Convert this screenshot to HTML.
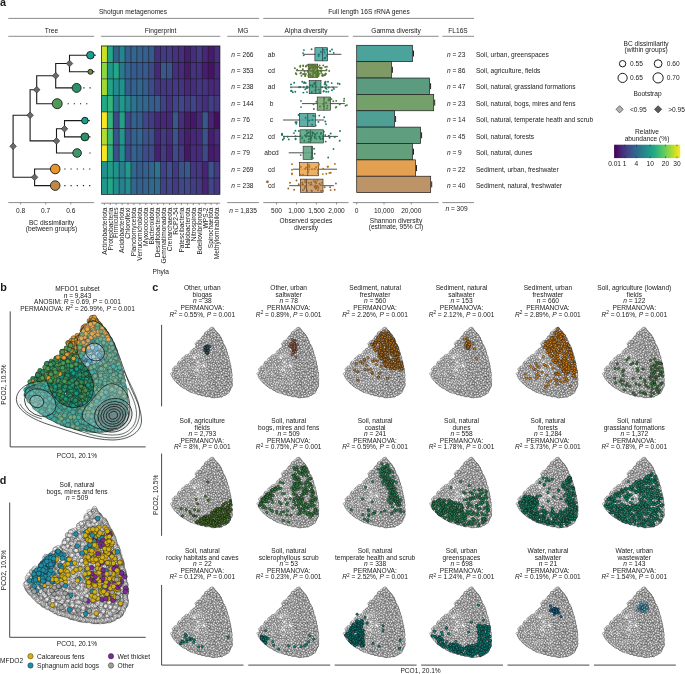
<!DOCTYPE html>
<html><head><meta charset="utf-8"><title>Figure</title>
<style>
html,body{margin:0;padding:0;background:#fff}
svg{display:block;will-change:transform;font-family:"Liberation Sans",sans-serif;font-size:6.6px;fill:#1a1a1a}
.ax{stroke:#6e6e6e;stroke-width:.8;fill:none}
.ax2{stroke:#333;stroke-width:.9;fill:none}
.tr{stroke:#1a1a1a;stroke-width:1.1;fill:none}
.gl{stroke:#1c1c28;stroke-width:.6;fill:none}
.bx{stroke:#222;stroke-width:.6}
.wh{stroke:#222;stroke-width:.8}
.ct{stroke:#111;stroke-width:.7;fill:#dfe9ea;fill-opacity:.2}
.cl{stroke:#111;stroke-width:.6;fill:none}
.gc circle{r:1.2px;fill:#f0f0f0;fill-opacity:.85;stroke:#262626;stroke-width:.33}
.gd circle{r:2.3px;fill:#fafafa;fill-opacity:.8;stroke:#4a4a4a;stroke-width:.32}
.pb circle{r:2.3px;stroke:#102a25;stroke-width:.4}
.pc circle{r:1.25px;stroke:#111;stroke-width:.3}
.mk{fill:none;stroke:none}
.pd{r:2.4px;stroke:#111;stroke-width:.4}
</style></head><body>
<svg width="685" height="674" viewBox="0 0 685 674">
<g id="panel-a">
<text x="0" y="5.6" font-size="10.8" font-weight="bold">a</text>
<text x="133" y="14.2" text-anchor="middle">Shotgun metagenomes</text>
<path class="ax" d="M8.3 18.4H259"/>
<text x="369" y="14.2" text-anchor="middle">Full length 16S rRNA genes</text>
<path class="ax" d="M263.3 18.4H474"/>
<text x="51.5" y="32.5" text-anchor="middle">Tree</text>
<path class="ax" d="M8.3 36.3H94.1"/>
<text x="160.6" y="32.5" text-anchor="middle">Fingerprint</text>
<path class="ax" d="M100.9 36.3H220.3"/>
<text x="243" y="32.5" text-anchor="middle">MG</text>
<path class="ax" d="M227.2 36.3H258.9"/>
<text x="306" y="32.5" text-anchor="middle">Alpha diversity</text>
<path class="ax" d="M263.3 36.3H348.5"/>
<text x="396" y="32.5" text-anchor="middle">Gamma diversity</text>
<path class="ax" d="M352.9 36.3H438.7"/>
<text x="458" y="32.5" text-anchor="middle">FL16S</text>
<path class="ax" d="M442.4 36.3H474"/>
<path class="tr" d="M90.4 55.2H69.5V71.8H90.4"/>
<path class="tr" d="M69.5 63.5H55.7V87.9H76.6"/>
<path class="tr" d="M55.7 75.7H36.7V103.7H57.2"/>
<path class="tr" d="M84.9 120.6H64.5V136.9H84.9"/>
<path class="tr" d="M64.5 128.8H56.5V153H77.1"/>
<path class="tr" d="M36.7 89.7H30.1V140.9H56.5"/>
<path class="tr" d="M55.2 169H34.6V185.6H55.2"/>
<path class="tr" d="M30.1 115.3H13.1V177.3H34.6"/>
<path d="M83.3 87.9H91" stroke="#222" stroke-width="1.1" stroke-dasharray="1.2 5" fill="none"/>
<path d="M67.6 103.7H91" stroke="#222" stroke-width="1.1" stroke-dasharray="1.2 5" fill="none"/>
<path d="M89.4 153H91" stroke="#222" stroke-width="1.1" stroke-dasharray="1.2 5" fill="none"/>
<path d="M64.3 169H91" stroke="#222" stroke-width="1.1" stroke-dasharray="1.2 5" fill="none"/>
<path d="M64.3 185.6H91" stroke="#222" stroke-width="1.1" stroke-dasharray="1.2 5" fill="none"/>
<path class="tr" d="M90.4 55.2H95.8"/>
<circle cx="90.4" cy="55.2" r="3.8" fill="#1a9e96" stroke="#111" stroke-width=".85"/>
<path class="tr" d="M90.4 71.8H94.5"/>
<circle cx="90.4" cy="71.8" r="2.5" fill="#6a8f3c" stroke="#111" stroke-width=".85"/>
<circle cx="76.6" cy="87.9" r="4.5" fill="#2e9068" stroke="#111" stroke-width=".85"/>
<circle cx="57.2" cy="103.7" r="5" fill="#4f9a54" stroke="#111" stroke-width=".85"/>
<path class="tr" d="M84.9 120.6H89.8"/>
<circle cx="84.9" cy="120.6" r="3.3" fill="#1a9e8a" stroke="#111" stroke-width=".85"/>
<path class="tr" d="M84.9 136.9H90.5"/>
<circle cx="84.9" cy="136.9" r="4" fill="#2e9068" stroke="#111" stroke-width=".85"/>
<circle cx="77.1" cy="153" r="4.3" fill="#3a9a6a" stroke="#111" stroke-width=".85"/>
<circle cx="55.2" cy="169" r="4.8" fill="#e8962a" stroke="#111" stroke-width=".85"/>
<circle cx="55.2" cy="185.6" r="4.8" fill="#c08848" stroke="#111" stroke-width=".85"/>
<path d="M66.2 63.5L69.5 60.2L72.8 63.5L69.5 66.8Z" fill="#6a6a6a" stroke="#222" stroke-width=".6"/>
<path d="M52.4 75.7L55.7 72.4L59 75.7L55.7 79Z" fill="#6a6a6a" stroke="#222" stroke-width=".6"/>
<path d="M33.4 89.7L36.7 86.4L40 89.7L36.7 93Z" fill="#6a6a6a" stroke="#222" stroke-width=".6"/>
<path d="M26.8 115.3L30.1 112L33.4 115.3L30.1 118.6Z" fill="#6a6a6a" stroke="#222" stroke-width=".6"/>
<path d="M61.2 128.8L64.5 125.5L67.8 128.8L64.5 132.1Z" fill="#6a6a6a" stroke="#222" stroke-width=".6"/>
<path d="M53.2 140.9L56.5 137.6L59.8 140.9L56.5 144.2Z" fill="#6a6a6a" stroke="#222" stroke-width=".6"/>
<path d="M9.8 146.3L13.1 143L16.4 146.3L13.1 149.6Z" fill="#6a6a6a" stroke="#222" stroke-width=".6"/>
<path d="M31.3 177.3L34.6 174L37.9 177.3L34.6 180.6Z" fill="#6a6a6a" stroke="#222" stroke-width=".6"/>
<path class="ax" d="M8.3 202.6H94.1"/>
<path class="ax" d="M20.6 202.6V204.4"/>
<text x="20.6" y="212.7" text-anchor="middle">0.8</text>
<path class="ax" d="M45.7 202.6V204.4"/>
<text x="45.7" y="212.7" text-anchor="middle">0.7</text>
<path class="ax" d="M70.8 202.6V204.4"/>
<text x="70.8" y="212.7" text-anchor="middle">0.6</text>
<text x="51.5" y="224.5" text-anchor="middle">BC dissimilarity</text>
<text x="51.5" y="231" text-anchor="middle">(between groups)</text>
<rect x="101.3" y="45.9" width="118.7" height="148.6" fill="#1c1c28"/>
<rect x="101.60" y="46.20" width="5.34" height="15.91" fill="#cae126"/>
<rect x="107.53" y="46.20" width="5.34" height="15.91" fill="#22a884"/>
<rect x="113.47" y="46.20" width="5.34" height="15.91" fill="#355f8d"/>
<rect x="119.40" y="46.20" width="5.34" height="15.91" fill="#26848d"/>
<rect x="125.34" y="46.20" width="5.34" height="15.91" fill="#355f8d"/>
<rect x="131.28" y="46.20" width="5.34" height="15.91" fill="#32668d"/>
<rect x="137.21" y="46.20" width="5.34" height="15.91" fill="#34628d"/>
<rect x="143.15" y="46.20" width="5.34" height="15.91" fill="#355f8d"/>
<rect x="149.08" y="46.20" width="5.34" height="15.91" fill="#375a8c"/>
<rect x="155.02" y="46.20" width="5.34" height="15.91" fill="#462e7a"/>
<rect x="160.95" y="46.20" width="5.34" height="15.91" fill="#433a82"/>
<rect x="166.89" y="46.20" width="5.34" height="15.91" fill="#433a82"/>
<rect x="172.82" y="46.20" width="5.34" height="15.91" fill="#45317c"/>
<rect x="178.75" y="46.20" width="5.34" height="15.91" fill="#462e7a"/>
<rect x="184.69" y="46.20" width="5.34" height="15.91" fill="#471d6e"/>
<rect x="190.62" y="46.20" width="5.34" height="15.91" fill="#462e7a"/>
<rect x="196.56" y="46.20" width="5.34" height="15.91" fill="#433a82"/>
<rect x="202.50" y="46.20" width="5.34" height="15.91" fill="#472777"/>
<rect x="208.43" y="46.20" width="5.34" height="15.91" fill="#471a6b"/>
<rect x="214.37" y="46.20" width="5.34" height="15.91" fill="#462e7a"/>
<rect x="101.60" y="62.71" width="5.34" height="15.91" fill="#8ed544"/>
<rect x="107.53" y="62.71" width="5.34" height="15.91" fill="#21968a"/>
<rect x="113.47" y="62.71" width="5.34" height="15.91" fill="#22a884"/>
<rect x="119.40" y="62.71" width="5.34" height="15.91" fill="#2a788e"/>
<rect x="125.34" y="62.71" width="5.34" height="15.91" fill="#33648d"/>
<rect x="131.28" y="62.71" width="5.34" height="15.91" fill="#375a8c"/>
<rect x="137.21" y="62.71" width="5.34" height="15.91" fill="#375a8c"/>
<rect x="143.15" y="62.71" width="5.34" height="15.91" fill="#375a8c"/>
<rect x="149.08" y="62.71" width="5.34" height="15.91" fill="#3f4988"/>
<rect x="155.02" y="62.71" width="5.34" height="15.91" fill="#472777"/>
<rect x="160.95" y="62.71" width="5.34" height="15.91" fill="#39578b"/>
<rect x="166.89" y="62.71" width="5.34" height="15.91" fill="#3a548b"/>
<rect x="172.82" y="62.71" width="5.34" height="15.91" fill="#462e7a"/>
<rect x="178.75" y="62.71" width="5.34" height="15.91" fill="#472a79"/>
<rect x="184.69" y="62.71" width="5.34" height="15.91" fill="#471a6b"/>
<rect x="190.62" y="62.71" width="5.34" height="15.91" fill="#45317c"/>
<rect x="196.56" y="62.71" width="5.34" height="15.91" fill="#45317c"/>
<rect x="202.50" y="62.71" width="5.34" height="15.91" fill="#471d6e"/>
<rect x="208.43" y="62.71" width="5.34" height="15.91" fill="#461264"/>
<rect x="214.37" y="62.71" width="5.34" height="15.91" fill="#472777"/>
<rect x="101.60" y="79.22" width="5.34" height="15.91" fill="#a2d937"/>
<rect x="107.53" y="79.22" width="5.34" height="15.91" fill="#22a386"/>
<rect x="113.47" y="79.22" width="5.34" height="15.91" fill="#248a8d"/>
<rect x="119.40" y="79.22" width="5.34" height="15.91" fill="#21918c"/>
<rect x="125.34" y="79.22" width="5.34" height="15.91" fill="#365c8c"/>
<rect x="131.28" y="79.22" width="5.34" height="15.91" fill="#34628d"/>
<rect x="137.21" y="79.22" width="5.34" height="15.91" fill="#32668d"/>
<rect x="143.15" y="79.22" width="5.34" height="15.91" fill="#365c8c"/>
<rect x="149.08" y="79.22" width="5.34" height="15.91" fill="#3d4c89"/>
<rect x="155.02" y="79.22" width="5.34" height="15.91" fill="#44347e"/>
<rect x="160.95" y="79.22" width="5.34" height="15.91" fill="#443780"/>
<rect x="166.89" y="79.22" width="5.34" height="15.91" fill="#443780"/>
<rect x="172.82" y="79.22" width="5.34" height="15.91" fill="#433a82"/>
<rect x="178.75" y="79.22" width="5.34" height="15.91" fill="#44347e"/>
<rect x="184.69" y="79.22" width="5.34" height="15.91" fill="#472777"/>
<rect x="190.62" y="79.22" width="5.34" height="15.91" fill="#462e7a"/>
<rect x="196.56" y="79.22" width="5.34" height="15.91" fill="#443780"/>
<rect x="202.50" y="79.22" width="5.34" height="15.91" fill="#44347e"/>
<rect x="208.43" y="79.22" width="5.34" height="15.91" fill="#472777"/>
<rect x="214.37" y="79.22" width="5.34" height="15.91" fill="#472a79"/>
<rect x="101.60" y="95.73" width="5.34" height="15.91" fill="#22a884"/>
<rect x="107.53" y="95.73" width="5.34" height="15.91" fill="#33b47a"/>
<rect x="113.47" y="95.73" width="5.34" height="15.91" fill="#2a788e"/>
<rect x="119.40" y="95.73" width="5.34" height="15.91" fill="#21988a"/>
<rect x="125.34" y="95.73" width="5.34" height="15.91" fill="#26828d"/>
<rect x="131.28" y="95.73" width="5.34" height="15.91" fill="#2c738e"/>
<rect x="137.21" y="95.73" width="5.34" height="15.91" fill="#31698d"/>
<rect x="143.15" y="95.73" width="5.34" height="15.91" fill="#32668d"/>
<rect x="149.08" y="95.73" width="5.34" height="15.91" fill="#365c8c"/>
<rect x="155.02" y="95.73" width="5.34" height="15.91" fill="#365c8c"/>
<rect x="160.95" y="95.73" width="5.34" height="15.91" fill="#424185"/>
<rect x="166.89" y="95.73" width="5.34" height="15.91" fill="#44347e"/>
<rect x="172.82" y="95.73" width="5.34" height="15.91" fill="#414487"/>
<rect x="178.75" y="95.73" width="5.34" height="15.91" fill="#404788"/>
<rect x="184.69" y="95.73" width="5.34" height="15.91" fill="#433a82"/>
<rect x="190.62" y="95.73" width="5.34" height="15.91" fill="#414487"/>
<rect x="196.56" y="95.73" width="5.34" height="15.91" fill="#443780"/>
<rect x="202.50" y="95.73" width="5.34" height="15.91" fill="#462e7a"/>
<rect x="208.43" y="95.73" width="5.34" height="15.91" fill="#423e83"/>
<rect x="214.37" y="95.73" width="5.34" height="15.91" fill="#443780"/>
<rect x="101.60" y="112.24" width="5.34" height="15.91" fill="#f7e625"/>
<rect x="107.53" y="112.24" width="5.34" height="15.91" fill="#33b47a"/>
<rect x="113.47" y="112.24" width="5.34" height="15.91" fill="#3f4988"/>
<rect x="119.40" y="112.24" width="5.34" height="15.91" fill="#22a186"/>
<rect x="125.34" y="112.24" width="5.34" height="15.91" fill="#3f4988"/>
<rect x="131.28" y="112.24" width="5.34" height="15.91" fill="#34628d"/>
<rect x="137.21" y="112.24" width="5.34" height="15.91" fill="#365c8c"/>
<rect x="143.15" y="112.24" width="5.34" height="15.91" fill="#414487"/>
<rect x="149.08" y="112.24" width="5.34" height="15.91" fill="#433a82"/>
<rect x="155.02" y="112.24" width="5.34" height="15.91" fill="#472777"/>
<rect x="160.95" y="112.24" width="5.34" height="15.91" fill="#472777"/>
<rect x="166.89" y="112.24" width="5.34" height="15.91" fill="#472777"/>
<rect x="172.82" y="112.24" width="5.34" height="15.91" fill="#39578b"/>
<rect x="178.75" y="112.24" width="5.34" height="15.91" fill="#462e7a"/>
<rect x="184.69" y="112.24" width="5.34" height="15.91" fill="#471a6b"/>
<rect x="190.62" y="112.24" width="5.34" height="15.91" fill="#461668"/>
<rect x="196.56" y="112.24" width="5.34" height="15.91" fill="#472777"/>
<rect x="202.50" y="112.24" width="5.34" height="15.91" fill="#39578b"/>
<rect x="208.43" y="112.24" width="5.34" height="15.91" fill="#482475"/>
<rect x="214.37" y="112.24" width="5.34" height="15.91" fill="#460f61"/>
<rect x="101.60" y="128.76" width="5.34" height="15.91" fill="#b0dc2f"/>
<rect x="107.53" y="128.76" width="5.34" height="15.91" fill="#3ab876"/>
<rect x="113.47" y="128.76" width="5.34" height="15.91" fill="#3b528a"/>
<rect x="119.40" y="128.76" width="5.34" height="15.91" fill="#21968a"/>
<rect x="125.34" y="128.76" width="5.34" height="15.91" fill="#3c4f89"/>
<rect x="131.28" y="128.76" width="5.34" height="15.91" fill="#34628d"/>
<rect x="137.21" y="128.76" width="5.34" height="15.91" fill="#32668d"/>
<rect x="143.15" y="128.76" width="5.34" height="15.91" fill="#3b528a"/>
<rect x="149.08" y="128.76" width="5.34" height="15.91" fill="#3c4f89"/>
<rect x="155.02" y="128.76" width="5.34" height="15.91" fill="#472777"/>
<rect x="160.95" y="128.76" width="5.34" height="15.91" fill="#433a82"/>
<rect x="166.89" y="128.76" width="5.34" height="15.91" fill="#462e7a"/>
<rect x="172.82" y="128.76" width="5.34" height="15.91" fill="#3a548b"/>
<rect x="178.75" y="128.76" width="5.34" height="15.91" fill="#462e7a"/>
<rect x="184.69" y="128.76" width="5.34" height="15.91" fill="#471d6e"/>
<rect x="190.62" y="128.76" width="5.34" height="15.91" fill="#472777"/>
<rect x="196.56" y="128.76" width="5.34" height="15.91" fill="#472a79"/>
<rect x="202.50" y="128.76" width="5.34" height="15.91" fill="#3b528a"/>
<rect x="208.43" y="128.76" width="5.34" height="15.91" fill="#471d6e"/>
<rect x="214.37" y="128.76" width="5.34" height="15.91" fill="#472a79"/>
<rect x="101.60" y="145.27" width="5.34" height="15.91" fill="#f7e625"/>
<rect x="107.53" y="145.27" width="5.34" height="15.91" fill="#30b17c"/>
<rect x="113.47" y="145.27" width="5.34" height="15.91" fill="#3c4f89"/>
<rect x="119.40" y="145.27" width="5.34" height="15.91" fill="#228e8c"/>
<rect x="125.34" y="145.27" width="5.34" height="15.91" fill="#3d4c89"/>
<rect x="131.28" y="145.27" width="5.34" height="15.91" fill="#34628d"/>
<rect x="137.21" y="145.27" width="5.34" height="15.91" fill="#375a8c"/>
<rect x="143.15" y="145.27" width="5.34" height="15.91" fill="#3d4c89"/>
<rect x="149.08" y="145.27" width="5.34" height="15.91" fill="#3f4988"/>
<rect x="155.02" y="145.27" width="5.34" height="15.91" fill="#482072"/>
<rect x="160.95" y="145.27" width="5.34" height="15.91" fill="#433a82"/>
<rect x="166.89" y="145.27" width="5.34" height="15.91" fill="#482475"/>
<rect x="172.82" y="145.27" width="5.34" height="15.91" fill="#3d4c89"/>
<rect x="178.75" y="145.27" width="5.34" height="15.91" fill="#443780"/>
<rect x="184.69" y="145.27" width="5.34" height="15.91" fill="#461668"/>
<rect x="190.62" y="145.27" width="5.34" height="15.91" fill="#472a79"/>
<rect x="196.56" y="145.27" width="5.34" height="15.91" fill="#472a79"/>
<rect x="202.50" y="145.27" width="5.34" height="15.91" fill="#3f4988"/>
<rect x="208.43" y="145.27" width="5.34" height="15.91" fill="#471a6b"/>
<rect x="214.37" y="145.27" width="5.34" height="15.91" fill="#482072"/>
<rect x="101.60" y="161.78" width="5.34" height="15.91" fill="#21918c"/>
<rect x="107.53" y="161.78" width="5.34" height="15.91" fill="#229c88"/>
<rect x="113.47" y="161.78" width="5.34" height="15.91" fill="#21918c"/>
<rect x="119.40" y="161.78" width="5.34" height="15.91" fill="#287d8e"/>
<rect x="125.34" y="161.78" width="5.34" height="15.91" fill="#219a89"/>
<rect x="131.28" y="161.78" width="5.34" height="15.91" fill="#32668d"/>
<rect x="137.21" y="161.78" width="5.34" height="15.91" fill="#365c8c"/>
<rect x="143.15" y="161.78" width="5.34" height="15.91" fill="#355f8d"/>
<rect x="149.08" y="161.78" width="5.34" height="15.91" fill="#32668d"/>
<rect x="155.02" y="161.78" width="5.34" height="15.91" fill="#2b768e"/>
<rect x="160.95" y="161.78" width="5.34" height="15.91" fill="#424185"/>
<rect x="166.89" y="161.78" width="5.34" height="15.91" fill="#3c4f89"/>
<rect x="172.82" y="161.78" width="5.34" height="15.91" fill="#433a82"/>
<rect x="178.75" y="161.78" width="5.34" height="15.91" fill="#3b528a"/>
<rect x="184.69" y="161.78" width="5.34" height="15.91" fill="#375a8c"/>
<rect x="190.62" y="161.78" width="5.34" height="15.91" fill="#443780"/>
<rect x="196.56" y="161.78" width="5.34" height="15.91" fill="#443780"/>
<rect x="202.50" y="161.78" width="5.34" height="15.91" fill="#482475"/>
<rect x="208.43" y="161.78" width="5.34" height="15.91" fill="#3b528a"/>
<rect x="214.37" y="161.78" width="5.34" height="15.91" fill="#433a82"/>
<rect x="101.60" y="178.29" width="5.34" height="15.91" fill="#21968a"/>
<rect x="107.53" y="178.29" width="5.34" height="15.91" fill="#22a884"/>
<rect x="113.47" y="178.29" width="5.34" height="15.91" fill="#228e8c"/>
<rect x="119.40" y="178.29" width="5.34" height="15.91" fill="#27808d"/>
<rect x="125.34" y="178.29" width="5.34" height="15.91" fill="#238c8c"/>
<rect x="131.28" y="178.29" width="5.34" height="15.91" fill="#32668d"/>
<rect x="137.21" y="178.29" width="5.34" height="15.91" fill="#355f8d"/>
<rect x="143.15" y="178.29" width="5.34" height="15.91" fill="#34628d"/>
<rect x="149.08" y="178.29" width="5.34" height="15.91" fill="#31698d"/>
<rect x="155.02" y="178.29" width="5.34" height="15.91" fill="#31698d"/>
<rect x="160.95" y="178.29" width="5.34" height="15.91" fill="#424185"/>
<rect x="166.89" y="178.29" width="5.34" height="15.91" fill="#414487"/>
<rect x="172.82" y="178.29" width="5.34" height="15.91" fill="#433a82"/>
<rect x="178.75" y="178.29" width="5.34" height="15.91" fill="#404788"/>
<rect x="184.69" y="178.29" width="5.34" height="15.91" fill="#3f4988"/>
<rect x="190.62" y="178.29" width="5.34" height="15.91" fill="#423e83"/>
<rect x="196.56" y="178.29" width="5.34" height="15.91" fill="#433a82"/>
<rect x="202.50" y="178.29" width="5.34" height="15.91" fill="#482475"/>
<rect x="208.43" y="178.29" width="5.34" height="15.91" fill="#414487"/>
<rect x="214.37" y="178.29" width="5.34" height="15.91" fill="#443780"/>
<rect class="gl" x="101.3" y="45.9" width="118.7" height="148.6"/>
<path class="ax" d="M101.1 203.2H220.1"/>
<path class="ax" d="M104.3 203.2V205"/>
<text x="106.6" y="207.5" text-anchor="end" transform="rotate(-90 106.6 207.5)">Actinobacteriota</text>
<path class="ax" d="M110.2 203.2V205"/>
<text x="112.5" y="207.5" text-anchor="end" transform="rotate(-90 112.5 207.5)">Proteobacteria</text>
<path class="ax" d="M116.1 203.2V205"/>
<text x="118.4" y="207.5" text-anchor="end" transform="rotate(-90 118.4 207.5)">Firmicutes</text>
<path class="ax" d="M122.1 203.2V205"/>
<text x="124.4" y="207.5" text-anchor="end" transform="rotate(-90 124.4 207.5)">Acidobacteriota</text>
<path class="ax" d="M128 203.2V205"/>
<text x="130.3" y="207.5" text-anchor="end" transform="rotate(-90 130.3 207.5)">Chloroflexi</text>
<path class="ax" d="M133.9 203.2V205"/>
<text x="136.2" y="207.5" text-anchor="end" transform="rotate(-90 136.2 207.5)">Planctomycetota</text>
<path class="ax" d="M139.9 203.2V205"/>
<text x="142.2" y="207.5" text-anchor="end" transform="rotate(-90 142.2 207.5)">Verrucomicrobiota</text>
<path class="ax" d="M145.8 203.2V205"/>
<text x="148.1" y="207.5" text-anchor="end" transform="rotate(-90 148.1 207.5)">Myxococcota</text>
<path class="ax" d="M151.7 203.2V205"/>
<text x="154" y="207.5" text-anchor="end" transform="rotate(-90 154 207.5)">Bacteroidota</text>
<path class="ax" d="M157.7 203.2V205"/>
<text x="160" y="207.5" text-anchor="end" transform="rotate(-90 160 207.5)">Desulfobacterota</text>
<path class="ax" d="M163.6 203.2V205"/>
<text x="165.9" y="207.5" text-anchor="end" transform="rotate(-90 165.9 207.5)">Gemmatimonadota</text>
<path class="ax" d="M169.6 203.2V205"/>
<text x="171.9" y="207.5" text-anchor="end" transform="rotate(-90 171.9 207.5)">Crenarchaeota</text>
<path class="ax" d="M175.5 203.2V205"/>
<text x="177.8" y="207.5" text-anchor="end" transform="rotate(-90 177.8 207.5)">RCP2-54</text>
<path class="ax" d="M181.4 203.2V205"/>
<text x="183.7" y="207.5" text-anchor="end" transform="rotate(-90 183.7 207.5)">Patescibacteria</text>
<path class="ax" d="M187.4 203.2V205"/>
<text x="189.7" y="207.5" text-anchor="end" transform="rotate(-90 189.7 207.5)">Halobacterota</text>
<path class="ax" d="M193.3 203.2V205"/>
<text x="195.6" y="207.5" text-anchor="end" transform="rotate(-90 195.6 207.5)">Nitrospirota</text>
<path class="ax" d="M199.2 203.2V205"/>
<text x="201.5" y="207.5" text-anchor="end" transform="rotate(-90 201.5 207.5)">Bdellovibrionota</text>
<path class="ax" d="M205.2 203.2V205"/>
<text x="207.5" y="207.5" text-anchor="end" transform="rotate(-90 207.5 207.5)">WPS-2</text>
<path class="ax" d="M211.1 203.2V205"/>
<text x="213.4" y="207.5" text-anchor="end" transform="rotate(-90 213.4 207.5)">Spirochaetota</text>
<path class="ax" d="M217 203.2V205"/>
<text x="219.3" y="207.5" text-anchor="end" transform="rotate(-90 219.3 207.5)">Methylomirabilota</text>
<text x="160.8" y="274" text-anchor="middle">Phyla</text>
<text x="231.3" y="56.6"><tspan font-style="italic">n</tspan> = 266</text>
<text x="231.3" y="73"><tspan font-style="italic">n</tspan> = 353</text>
<text x="231.3" y="89.4"><tspan font-style="italic">n</tspan> = 238</text>
<text x="231.3" y="105.9"><tspan font-style="italic">n</tspan> = 144</text>
<text x="231.3" y="122.3"><tspan font-style="italic">n</tspan> = 76</text>
<text x="231.3" y="138.7"><tspan font-style="italic">n</tspan> = 212</text>
<text x="231.3" y="155.1"><tspan font-style="italic">n</tspan> = 79</text>
<text x="231.3" y="171.5"><tspan font-style="italic">n</tspan> = 269</text>
<text x="231.3" y="188"><tspan font-style="italic">n</tspan> = 238</text>
<path class="ax" d="M227.2 202.6H258.9"/>
<text x="243" y="212.7" text-anchor="middle"><tspan font-style="italic">n</tspan> = 1,835</text>
<text x="271.5" y="56.6" text-anchor="middle">ab</text>
<text x="271.5" y="73" text-anchor="middle">cd</text>
<text x="271.5" y="89.4" text-anchor="middle">ad</text>
<text x="271.5" y="105.9" text-anchor="middle">b</text>
<text x="271.5" y="122.3" text-anchor="middle">c</text>
<text x="271.5" y="138.7" text-anchor="middle">cd</text>
<text x="271.5" y="155.1" text-anchor="middle">abcd</text>
<text x="271.5" y="171.5" text-anchor="middle">cd</text>
<text x="271.5" y="188" text-anchor="middle">cd</text>
<path class="wh" d="M304 54.3H341.4"/>
<rect class="bx" x="314.9" y="47.7" width="12.7" height="13.2" fill="#4da8a2" fill-opacity=".9"/>
<path class="bx" d="M322.5 47.7V60.9"/>
<g fill="#0e7a74"><circle cx="318.6" cy="56.0" r=".95"/><circle cx="326.6" cy="49.5" r=".95"/><circle cx="311.6" cy="49.3" r=".95"/><circle cx="319.0" cy="54.4" r=".95"/><circle cx="332.0" cy="49.5" r=".95"/><circle cx="323.8" cy="49.7" r=".95"/><circle cx="303.9" cy="50.1" r=".95"/><circle cx="330.1" cy="51.2" r=".95"/><circle cx="303.7" cy="55.2" r=".95"/><circle cx="303.1" cy="53.1" r=".95"/><circle cx="324.4" cy="58.3" r=".95"/><circle cx="320.8" cy="51.9" r=".95"/><circle cx="324.5" cy="52.2" r=".95"/><circle cx="325.3" cy="57.8" r=".95"/><circle cx="327.0" cy="55.9" r=".95"/><circle cx="333.7" cy="52.9" r=".95"/></g>
<path class="wh" d="M295.9 70.7H327.2"/>
<rect class="bx" x="308.2" y="64.1" width="9.5" height="13.2" fill="#7d9c5c" fill-opacity=".9"/>
<path class="bx" d="M313 64.1V77.3"/>
<g fill="#56782d"><circle cx="310.0" cy="65.8" r=".95"/><circle cx="312.0" cy="67.4" r=".95"/><circle cx="309.1" cy="68.6" r=".95"/><circle cx="304.6" cy="71.7" r=".95"/><circle cx="305.9" cy="74.0" r=".95"/><circle cx="315.1" cy="72.9" r=".95"/><circle cx="313.4" cy="71.0" r=".95"/><circle cx="324.3" cy="74.9" r=".95"/><circle cx="312.0" cy="76.1" r=".95"/><circle cx="305.8" cy="66.4" r=".95"/><circle cx="300.2" cy="66.8" r=".95"/><circle cx="320.1" cy="70.6" r=".95"/><circle cx="325.5" cy="73.7" r=".95"/><circle cx="316.1" cy="71.5" r=".95"/><circle cx="318.3" cy="72.9" r=".95"/><circle cx="307.6" cy="71.8" r=".95"/><circle cx="304.5" cy="74.5" r=".95"/><circle cx="308.3" cy="75.7" r=".95"/><circle cx="300.3" cy="65.8" r=".95"/><circle cx="315.0" cy="73.0" r=".95"/><circle cx="296.4" cy="74.3" r=".95"/><circle cx="294.9" cy="68.3" r=".95"/><circle cx="303.2" cy="65.4" r=".95"/><circle cx="321.4" cy="70.3" r=".95"/><circle cx="315.1" cy="65.8" r=".95"/><circle cx="316.7" cy="73.7" r=".95"/><circle cx="317.5" cy="69.5" r=".95"/><circle cx="317.7" cy="74.9" r=".95"/><circle cx="321.3" cy="71.3" r=".95"/><circle cx="317.6" cy="75.0" r=".95"/><circle cx="320.3" cy="68.2" r=".95"/><circle cx="297.2" cy="69.8" r=".95"/><circle cx="301.5" cy="75.8" r=".95"/><circle cx="326.9" cy="66.8" r=".95"/><circle cx="315.8" cy="67.7" r=".95"/><circle cx="318.6" cy="70.6" r=".95"/><circle cx="307.2" cy="65.2" r=".95"/><circle cx="309.3" cy="69.8" r=".95"/><circle cx="305.3" cy="75.8" r=".95"/><circle cx="321.2" cy="72.9" r=".95"/><circle cx="301.0" cy="72.7" r=".95"/><circle cx="311.8" cy="65.7" r=".95"/><circle cx="325.2" cy="74.9" r=".95"/><circle cx="304.0" cy="74.1" r=".95"/><circle cx="306.1" cy="66.3" r=".95"/><circle cx="318.4" cy="72.2" r=".95"/><circle cx="316.0" cy="67.5" r=".95"/><circle cx="314.2" cy="66.9" r=".95"/><circle cx="311.4" cy="65.1" r=".95"/><circle cx="315.4" cy="66.8" r=".95"/><circle cx="319.6" cy="65.4" r=".95"/><circle cx="317.9" cy="74.9" r=".95"/><circle cx="309.2" cy="67.9" r=".95"/><circle cx="309.7" cy="69.0" r=".95"/><circle cx="310.0" cy="74.6" r=".95"/><circle cx="316.3" cy="76.2" r=".95"/><circle cx="303.2" cy="66.1" r=".95"/><circle cx="315.1" cy="66.3" r=".95"/><circle cx="309.2" cy="74.4" r=".95"/><circle cx="318.6" cy="66.9" r=".95"/><circle cx="329.2" cy="71.0" r=".95"/><circle cx="316.0" cy="66.8" r=".95"/><circle cx="311.0" cy="71.0" r=".95"/><circle cx="312.4" cy="76.1" r=".95"/><circle cx="321.7" cy="68.0" r=".95"/><circle cx="302.8" cy="69.2" r=".95"/><circle cx="320.4" cy="71.1" r=".95"/><circle cx="325.9" cy="73.8" r=".95"/><circle cx="310.0" cy="74.2" r=".95"/><circle cx="318.4" cy="76.2" r=".95"/><circle cx="322.4" cy="74.3" r=".95"/><circle cx="300.4" cy="73.4" r=".95"/><circle cx="314.5" cy="69.1" r=".95"/><circle cx="323.3" cy="65.4" r=".95"/><circle cx="319.9" cy="68.0" r=".95"/><circle cx="314.2" cy="72.9" r=".95"/><circle cx="322.1" cy="75.6" r=".95"/><circle cx="310.4" cy="76.2" r=".95"/><circle cx="320.9" cy="67.6" r=".95"/><circle cx="310.6" cy="67.7" r=".95"/><circle cx="314.9" cy="72.1" r=".95"/><circle cx="318.5" cy="75.2" r=".95"/><circle cx="318.3" cy="72.4" r=".95"/><circle cx="304.6" cy="74.1" r=".95"/><circle cx="324.0" cy="75.3" r=".95"/><circle cx="319.4" cy="73.9" r=".95"/><circle cx="313.0" cy="67.1" r=".95"/><circle cx="303.0" cy="74.0" r=".95"/><circle cx="305.2" cy="76.0" r=".95"/><circle cx="326.5" cy="69.6" r=".95"/><circle cx="295.8" cy="73.2" r=".95"/><circle cx="325.2" cy="67.0" r=".95"/><circle cx="316.4" cy="75.3" r=".95"/><circle cx="316.5" cy="74.2" r=".95"/><circle cx="322.8" cy="76.1" r=".95"/></g>
<path class="wh" d="M292 87.1H337.6"/>
<rect class="bx" x="309.2" y="80.5" width="11.8" height="13.2" fill="#55a088" fill-opacity=".9"/>
<path class="bx" d="M315.8 80.5V93.7"/>
<g fill="#19765d"><circle cx="333.9" cy="88.9" r=".95"/><circle cx="305.7" cy="83.0" r=".95"/><circle cx="328.0" cy="81.7" r=".95"/><circle cx="333.1" cy="87.4" r=".95"/><circle cx="311.8" cy="92.0" r=".95"/><circle cx="291.6" cy="90.8" r=".95"/><circle cx="325.5" cy="83.9" r=".95"/><circle cx="315.0" cy="84.2" r=".95"/><circle cx="325.6" cy="88.1" r=".95"/><circle cx="314.3" cy="83.0" r=".95"/><circle cx="328.3" cy="91.7" r=".95"/><circle cx="306.6" cy="88.1" r=".95"/><circle cx="326.2" cy="91.7" r=".95"/><circle cx="291.0" cy="87.2" r=".95"/><circle cx="328.6" cy="87.5" r=".95"/><circle cx="312.7" cy="86.5" r=".95"/><circle cx="314.7" cy="83.6" r=".95"/><circle cx="337.8" cy="83.5" r=".95"/><circle cx="315.7" cy="86.8" r=".95"/><circle cx="312.6" cy="85.2" r=".95"/><circle cx="299.1" cy="87.3" r=".95"/><circle cx="294.2" cy="82.7" r=".95"/><circle cx="307.5" cy="87.8" r=".95"/><circle cx="315.2" cy="90.2" r=".95"/><circle cx="325.3" cy="87.2" r=".95"/><circle cx="295.3" cy="91.8" r=".95"/><circle cx="307.0" cy="86.5" r=".95"/><circle cx="303.7" cy="87.3" r=".95"/><circle cx="305.3" cy="89.3" r=".95"/><circle cx="300.2" cy="86.9" r=".95"/><circle cx="319.7" cy="92.1" r=".95"/><circle cx="307.0" cy="92.1" r=".95"/><circle cx="291.0" cy="84.4" r=".95"/><circle cx="291.0" cy="90.9" r=".95"/><circle cx="304.0" cy="83.1" r=".95"/><circle cx="325.0" cy="82.4" r=".95"/><circle cx="324.6" cy="84.2" r=".95"/><circle cx="332.0" cy="90.3" r=".95"/><circle cx="323.5" cy="91.6" r=".95"/><circle cx="326.5" cy="88.9" r=".95"/><circle cx="331.7" cy="83.1" r=".95"/><circle cx="339.6" cy="84.0" r=".95"/><circle cx="292.8" cy="92.2" r=".95"/><circle cx="303.4" cy="92.6" r=".95"/><circle cx="323.8" cy="90.9" r=".95"/><circle cx="322.2" cy="87.3" r=".95"/><circle cx="326.5" cy="85.3" r=".95"/><circle cx="318.8" cy="89.6" r=".95"/><circle cx="325.6" cy="81.8" r=".95"/><circle cx="302.2" cy="81.7" r=".95"/><circle cx="310.6" cy="85.3" r=".95"/><circle cx="304.3" cy="82.3" r=".95"/></g>
<path class="wh" d="M302 103.6H344.9"/>
<rect class="bx" x="317.2" y="97" width="13.4" height="13.2" fill="#7aa870" fill-opacity=".9"/>
<path class="bx" d="M324 97V110.2"/>
<g fill="#407e44"><circle cx="313.9" cy="109.0" r=".95"/><circle cx="331.5" cy="99.1" r=".95"/><circle cx="301.0" cy="100.9" r=".95"/><circle cx="344.0" cy="101.0" r=".95"/><circle cx="329.0" cy="99.4" r=".95"/><circle cx="301.0" cy="107.1" r=".95"/><circle cx="336.2" cy="100.9" r=".95"/><circle cx="339.7" cy="104.4" r=".95"/><circle cx="345.5" cy="105.8" r=".95"/><circle cx="327.4" cy="105.7" r=".95"/><circle cx="326.1" cy="102.7" r=".95"/><circle cx="346.9" cy="105.1" r=".95"/><circle cx="336.3" cy="106.9" r=".95"/><circle cx="344.2" cy="98.7" r=".95"/><circle cx="335.7" cy="107.6" r=".95"/><circle cx="313.5" cy="104.2" r=".95"/><circle cx="327.0" cy="108.3" r=".95"/><circle cx="323.2" cy="103.9" r=".95"/><circle cx="330.1" cy="100.6" r=".95"/><circle cx="329.4" cy="98.5" r=".95"/><circle cx="328.4" cy="100.2" r=".95"/><circle cx="320.0" cy="106.5" r=".95"/><circle cx="333.3" cy="101.2" r=".95"/><circle cx="316.4" cy="101.8" r=".95"/><circle cx="323.9" cy="98.2" r=".95"/><circle cx="323.9" cy="106.2" r=".95"/></g>
<path class="wh" d="M283 120H324"/>
<rect class="bx" x="299.3" y="113.4" width="16" height="13.2" fill="#52a69c" fill-opacity=".9"/>
<path class="bx" d="M307.7 113.4V126.6"/>
<g fill="#0e7a71"><circle cx="309.3" cy="120.6" r=".95"/><circle cx="312.1" cy="124.8" r=".95"/><circle cx="319.3" cy="115.6" r=".95"/><circle cx="312.4" cy="119.9" r=".95"/><circle cx="296.3" cy="123.7" r=".95"/><circle cx="296.7" cy="122.1" r=".95"/><circle cx="315.7" cy="125.4" r=".95"/><circle cx="295.5" cy="122.3" r=".95"/><circle cx="325.3" cy="121.5" r=".95"/><circle cx="298.6" cy="115.0" r=".95"/><circle cx="313.2" cy="115.8" r=".95"/><circle cx="324.2" cy="117.2" r=".95"/><circle cx="315.3" cy="116.2" r=".95"/><circle cx="326.0" cy="124.1" r=".95"/><circle cx="318.4" cy="121.9" r=".95"/><circle cx="305.6" cy="117.7" r=".95"/></g>
<path class="wh" d="M283 136.4H338"/>
<rect class="bx" x="300" y="129.8" width="23.6" height="13.2" fill="#5ea482" fill-opacity=".9"/>
<path class="bx" d="M310.3 129.8V143"/>
<g fill="#1b7656"><circle cx="323.0" cy="135.9" r=".95"/><circle cx="320.9" cy="133.7" r=".95"/><circle cx="325.7" cy="141.6" r=".95"/><circle cx="330.7" cy="133.5" r=".95"/><circle cx="308.5" cy="141.6" r=".95"/><circle cx="306.6" cy="130.8" r=".95"/><circle cx="325.2" cy="135.1" r=".95"/><circle cx="294.0" cy="133.1" r=".95"/><circle cx="314.7" cy="136.5" r=".95"/><circle cx="323.8" cy="131.8" r=".95"/><circle cx="312.2" cy="135.3" r=".95"/><circle cx="314.9" cy="134.2" r=".95"/><circle cx="312.6" cy="133.4" r=".95"/><circle cx="295.7" cy="139.2" r=".95"/><circle cx="302.2" cy="138.2" r=".95"/><circle cx="305.1" cy="135.2" r=".95"/><circle cx="282.0" cy="134.5" r=".95"/><circle cx="320.5" cy="138.9" r=".95"/><circle cx="311.0" cy="138.0" r=".95"/><circle cx="339.7" cy="140.8" r=".95"/><circle cx="319.7" cy="137.8" r=".95"/><circle cx="309.0" cy="132.4" r=".95"/><circle cx="284.0" cy="136.7" r=".95"/><circle cx="282.8" cy="139.8" r=".95"/><circle cx="311.0" cy="140.1" r=".95"/><circle cx="283.9" cy="138.4" r=".95"/><circle cx="295.5" cy="138.6" r=".95"/><circle cx="312.3" cy="132.3" r=".95"/><circle cx="315.6" cy="134.8" r=".95"/><circle cx="334.8" cy="137.1" r=".95"/><circle cx="329.6" cy="137.8" r=".95"/><circle cx="295.6" cy="136.3" r=".95"/><circle cx="295.4" cy="130.8" r=".95"/><circle cx="319.3" cy="136.4" r=".95"/><circle cx="287.6" cy="136.8" r=".95"/><circle cx="308.8" cy="139.1" r=".95"/><circle cx="307.0" cy="133.6" r=".95"/><circle cx="322.5" cy="139.0" r=".95"/><circle cx="317.2" cy="133.1" r=".95"/><circle cx="309.1" cy="136.3" r=".95"/><circle cx="282.0" cy="135.1" r=".95"/><circle cx="288.8" cy="139.4" r=".95"/><circle cx="314.8" cy="137.7" r=".95"/><circle cx="308.0" cy="132.5" r=".95"/><circle cx="307.0" cy="133.6" r=".95"/><circle cx="311.2" cy="137.2" r=".95"/><circle cx="298.8" cy="130.9" r=".95"/><circle cx="323.0" cy="138.3" r=".95"/><circle cx="316.3" cy="138.6" r=".95"/><circle cx="306.1" cy="136.6" r=".95"/><circle cx="300.5" cy="136.0" r=".95"/><circle cx="304.3" cy="140.8" r=".95"/><circle cx="313.4" cy="133.0" r=".95"/><circle cx="340.0" cy="131.0" r=".95"/><circle cx="306.9" cy="135.9" r=".95"/><circle cx="328.9" cy="135.8" r=".95"/><circle cx="282.0" cy="133.8" r=".95"/><circle cx="321.0" cy="133.2" r=".95"/></g>
<path class="wh" d="M288.7 152.8H312.6"/>
<rect class="bx" x="303.1" y="146.2" width="9.5" height="13.2" fill="#66a686" fill-opacity=".9"/>
<path class="bx" d="M311.7 146.2V159.4"/>
<g fill="#2f7e56"><circle cx="314.6" cy="153.7" r=".95"/><circle cx="312.9" cy="157.9" r=".95"/><circle cx="314.1" cy="148.7" r=".95"/><circle cx="311.2" cy="157.2" r=".95"/><circle cx="300.7" cy="155.1" r=".95"/><circle cx="333.5" cy="149" r=".95"/><circle cx="328.2" cy="157.5" r=".95"/></g>
<path class="wh" d="M293 169.2H337"/>
<rect class="bx" x="299.3" y="162.6" width="19.4" height="13.2" fill="#eaa858" fill-opacity=".9"/>
<path class="bx" d="M307.7 162.6V175.8"/>
<g fill="#b7711a"><circle cx="312.0" cy="169.1" r=".95"/><circle cx="334.9" cy="163.9" r=".95"/><circle cx="323.2" cy="168.7" r=".95"/><circle cx="309.3" cy="167.0" r=".95"/><circle cx="316.1" cy="167.2" r=".95"/><circle cx="317.7" cy="173.1" r=".95"/><circle cx="329.4" cy="173.0" r=".95"/><circle cx="309.2" cy="165.0" r=".95"/><circle cx="326.3" cy="173.7" r=".95"/><circle cx="300.4" cy="166.9" r=".95"/><circle cx="300.5" cy="174.8" r=".95"/><circle cx="317.8" cy="170.2" r=".95"/><circle cx="300.7" cy="166.7" r=".95"/><circle cx="318.9" cy="164.2" r=".95"/><circle cx="327.6" cy="166.8" r=".95"/><circle cx="322.8" cy="174.1" r=".95"/><circle cx="309.0" cy="169.4" r=".95"/><circle cx="318.6" cy="165.8" r=".95"/><circle cx="292.0" cy="173.5" r=".95"/><circle cx="330.8" cy="172.7" r=".95"/><circle cx="292.0" cy="174.2" r=".95"/><circle cx="292.0" cy="169.8" r=".95"/><circle cx="308.3" cy="171.8" r=".95"/><circle cx="305.2" cy="168.7" r=".95"/><circle cx="309.3" cy="166.8" r=".95"/><circle cx="292.0" cy="164.2" r=".95"/><circle cx="314.7" cy="168.9" r=".95"/><circle cx="306.2" cy="167.5" r=".95"/><circle cx="303.1" cy="174.6" r=".95"/><circle cx="328.1" cy="166.6" r=".95"/></g>
<path class="wh" d="M289.3 185.7H333.9"/>
<rect class="bx" x="300.3" y="179.1" width="22.7" height="13.2" fill="#c69a6c" fill-opacity=".9"/>
<path class="bx" d="M306.5 179.1V192.3"/>
<g fill="#9d6427"><circle cx="305.8" cy="186.3" r=".95"/><circle cx="302.9" cy="184.5" r=".95"/><circle cx="315.3" cy="182.4" r=".95"/><circle cx="318.0" cy="190.2" r=".95"/><circle cx="302.9" cy="190.2" r=".95"/><circle cx="311.8" cy="191.2" r=".95"/><circle cx="305.2" cy="182.2" r=".95"/><circle cx="313.8" cy="181.1" r=".95"/><circle cx="308.7" cy="182.7" r=".95"/><circle cx="316.2" cy="183.0" r=".95"/><circle cx="288.3" cy="188.5" r=".95"/><circle cx="300.7" cy="184.7" r=".95"/><circle cx="298.7" cy="184.3" r=".95"/><circle cx="319.4" cy="183.8" r=".95"/><circle cx="320.9" cy="190.9" r=".95"/><circle cx="315.4" cy="181.5" r=".95"/><circle cx="294.2" cy="189.7" r=".95"/><circle cx="311.3" cy="182.5" r=".95"/><circle cx="310.4" cy="184.5" r=".95"/><circle cx="320.9" cy="185.1" r=".95"/><circle cx="334.7" cy="189.8" r=".95"/><circle cx="304.8" cy="180.3" r=".95"/><circle cx="330.7" cy="190.1" r=".95"/><circle cx="315.6" cy="185.4" r=".95"/><circle cx="311.5" cy="184.4" r=".95"/><circle cx="311.5" cy="190.4" r=".95"/><circle cx="322.8" cy="190.9" r=".95"/><circle cx="290.0" cy="182.8" r=".95"/><circle cx="317.2" cy="185.9" r=".95"/><circle cx="316.2" cy="187.7" r=".95"/><circle cx="330.1" cy="187.3" r=".95"/><circle cx="304.5" cy="188.6" r=".95"/><circle cx="296.5" cy="180.5" r=".95"/><circle cx="315.8" cy="188.8" r=".95"/><circle cx="314.7" cy="187.3" r=".95"/><circle cx="335.9" cy="183.5" r=".95"/><circle cx="318.2" cy="187.2" r=".95"/><circle cx="318.4" cy="187.9" r=".95"/><circle cx="315.3" cy="185.9" r=".95"/><circle cx="314.7" cy="186.6" r=".95"/><circle cx="304.9" cy="186.8" r=".95"/><circle cx="317.3" cy="180.2" r=".95"/><circle cx="307.3" cy="190.8" r=".95"/><circle cx="324.7" cy="187.3" r=".95"/><circle cx="322.1" cy="182.7" r=".95"/><circle cx="302.3" cy="182.8" r=".95"/><circle cx="267.4" cy="181.8" r="1.4"/></g>
<path class="ax" d="M263.3 202.6H348.5"/>
<path class="ax" d="M276.5 202.6V204.4"/>
<text x="276.5" y="212.7" text-anchor="middle">500</text>
<path class="ax" d="M296.5 202.6V204.4"/>
<text x="296.5" y="212.7" text-anchor="middle">1,000</text>
<path class="ax" d="M316.4 202.6V204.4"/>
<text x="316.4" y="212.7" text-anchor="middle">1,500</text>
<path class="ax" d="M336.5 202.6V204.4"/>
<text x="336.5" y="212.7" text-anchor="middle">2,000</text>
<text x="306" y="222.8" text-anchor="middle">Observed species</text>
<text x="306" y="229.6" text-anchor="middle">diversity</text>
<rect x="356.7" y="45.30" width="55.8" height="16.37" fill="#4ba39b" stroke="#1a1a1a" stroke-width=".7"/>
<path d="M413.5 50.5V56.5" stroke="#222" stroke-width="1"/>
<rect x="356.7" y="61.67" width="34.7" height="16.37" fill="#7f9a65" stroke="#1a1a1a" stroke-width=".7"/>
<path d="M392.4 66.8V72.8" stroke="#222" stroke-width="1"/>
<rect x="356.7" y="78.03" width="72.9" height="16.37" fill="#5b9c80" stroke="#1a1a1a" stroke-width=".7"/>
<path d="M430.6 83.2V89.2" stroke="#222" stroke-width="1"/>
<rect x="356.7" y="94.40" width="77" height="16.37" fill="#74a06a" stroke="#1a1a1a" stroke-width=".7"/>
<path d="M434.7 99.6V105.6" stroke="#222" stroke-width="1"/>
<rect x="356.7" y="110.77" width="37.9" height="16.37" fill="#4fa094" stroke="#1a1a1a" stroke-width=".7"/>
<path d="M395.6 116V122" stroke="#222" stroke-width="1"/>
<rect x="356.7" y="127.13" width="63.9" height="16.37" fill="#5f9e7e" stroke="#1a1a1a" stroke-width=".7"/>
<path d="M421.6 132.3V138.3" stroke="#222" stroke-width="1"/>
<rect x="356.7" y="143.50" width="55.8" height="16.37" fill="#639f7b" stroke="#1a1a1a" stroke-width=".7"/>
<path d="M413.5 148.7V154.7" stroke="#222" stroke-width="1"/>
<rect x="356.7" y="159.87" width="58.8" height="16.37" fill="#e2a050" stroke="#1a1a1a" stroke-width=".7"/>
<path d="M416.5 165.1V171.1" stroke="#222" stroke-width="1"/>
<rect x="356.7" y="176.23" width="74" height="16.37" fill="#bc9468" stroke="#1a1a1a" stroke-width=".7"/>
<path d="M431.7 181.4V187.4" stroke="#222" stroke-width="1"/>
<path class="ax" d="M352.9 202.6H438.7"/>
<path class="ax" d="M356.7 202.6V204.4"/>
<text x="356.7" y="212.7" text-anchor="middle">0</text>
<path class="ax" d="M384 202.6V204.4"/>
<text x="384" y="212.7" text-anchor="middle">10,000</text>
<path class="ax" d="M411.3 202.6V204.4"/>
<text x="411.3" y="212.7" text-anchor="middle">20,000</text>
<text x="396" y="222.8" text-anchor="middle">Shannon diversity</text>
<text x="396" y="229.3" text-anchor="middle">(estimate, 95% CI)</text>
<text x="446.9" y="56.6"><tspan font-style="italic">n</tspan> = 23</text>
<text x="475.9" y="56.6">Soil, urban, greenspaces</text>
<text x="446.9" y="73"><tspan font-style="italic">n</tspan> = 86</text>
<text x="475.9" y="73">Soil, agriculture, fields</text>
<text x="446.9" y="89.4"><tspan font-style="italic">n</tspan> = 47</text>
<text x="475.9" y="89.4">Soil, natural, grassland formations</text>
<text x="446.9" y="105.9"><tspan font-style="italic">n</tspan> = 23</text>
<text x="475.9" y="105.9">Soil, natural, bogs, mires and fens</text>
<text x="446.9" y="122.3"><tspan font-style="italic">n</tspan> = 14</text>
<text x="475.9" y="122.3">Soil, natural, temperate heath and scrub</text>
<text x="446.9" y="138.7"><tspan font-style="italic">n</tspan> = 45</text>
<text x="475.9" y="138.7">Soil, natural, forests</text>
<text x="446.9" y="155.1"><tspan font-style="italic">n</tspan> = 9</text>
<text x="475.9" y="155.1">Soil, natural, dunes</text>
<text x="446.9" y="171.5"><tspan font-style="italic">n</tspan> = 22</text>
<text x="475.9" y="171.5">Sediment, urban, freshwater</text>
<text x="446.9" y="188"><tspan font-style="italic">n</tspan> = 40</text>
<text x="475.9" y="188">Sediment, natural, freshwater</text>
<path class="ax" d="M442.4 202.6H474"/>
<text x="456.5" y="211.3" text-anchor="middle"><tspan font-style="italic">n</tspan> = 309</text>
<text x="646.1" y="45.6" text-anchor="middle">BC dissimilarity</text>
<text x="646.1" y="52.1" text-anchor="middle">(within groups)</text>
<circle cx="622.6" cy="63.7" r="3.2" fill="#fff" stroke="#111" stroke-width=".95"/>
<text x="630" y="66">0.55</text>
<circle cx="658.1" cy="63.7" r="3.9" fill="#fff" stroke="#111" stroke-width=".95"/>
<text x="666.8" y="66">0.60</text>
<circle cx="622.6" cy="77.9" r="4.6" fill="#fff" stroke="#111" stroke-width=".95"/>
<text x="630" y="80.2">0.65</text>
<circle cx="658.1" cy="77.9" r="5.1" fill="#fff" stroke="#111" stroke-width=".95"/>
<text x="666.8" y="80.2">0.70</text>
<text x="647.5" y="95.8" text-anchor="middle">Bootstrap</text>
<path d="M616 109.3L619.6 105.7L623.2 109.3L619.6 112.9Z" fill="#b4b4b4" stroke="#222" stroke-width=".6"/>
<text x="630" y="111.6">&lt;0.95</text>
<path d="M654.5 109.3L658.1 105.7L661.7 109.3L658.1 112.9Z" fill="#5a5a5a" stroke="#222" stroke-width=".6"/>
<text x="668.2" y="111.6">&gt;0.95</text>
<text x="647" y="134" text-anchor="middle">Relative</text>
<text x="647" y="140.7" text-anchor="middle">abundance (%)</text>
<defs><linearGradient id="vg" x1="0" x2="1" y1="0" y2="0"><stop offset="0.0" stop-color="#440154"/><stop offset="0.1" stop-color="#482475"/><stop offset="0.2" stop-color="#414487"/><stop offset="0.3" stop-color="#355f8d"/><stop offset="0.4" stop-color="#2a788e"/><stop offset="0.5" stop-color="#21918c"/><stop offset="0.6" stop-color="#22a884"/><stop offset="0.7" stop-color="#44bf70"/><stop offset="0.8" stop-color="#7ad151"/><stop offset="0.9" stop-color="#bddf26"/><stop offset="1.0" stop-color="#fde725"/></linearGradient></defs>
<rect x="614.1" y="144.7" width="66.1" height="13.4" fill="url(#vg)"/>
<text x="614.6" y="166" text-anchor="middle">0.01</text>
<path class="bx" d="M624.7 144.7V146.3"/>
<path class="bx" d="M624.7 156.5V158.1"/>
<text x="624.7" y="166" text-anchor="middle">1</text>
<path class="bx" d="M636.4 144.7V146.3"/>
<path class="bx" d="M636.4 156.5V158.1"/>
<text x="636.4" y="166" text-anchor="middle">4</text>
<path class="bx" d="M650.2 144.7V146.3"/>
<path class="bx" d="M650.2 156.5V158.1"/>
<text x="650.2" y="166" text-anchor="middle">10</text>
<path class="bx" d="M665.4 144.7V146.3"/>
<path class="bx" d="M665.4 156.5V158.1"/>
<text x="665.4" y="166" text-anchor="middle">20</text>
<path class="bx" d="M677 144.7V146.3"/>
<path class="bx" d="M677 156.5V158.1"/>
<text x="677" y="166" text-anchor="middle">30</text>
</g>
<marker id="m0" markerUnits="userSpaceOnUse" markerWidth="3.06" markerHeight="3.06" refX="1.53" refY="1.53" overflow="visible"><circle cx="1.53" cy="1.53" r="1.2" fill="#f0f0f0" fill-opacity="0.85" stroke="#262626" stroke-width="0.33"/></marker>
<defs><g id="cl"><path class="mk" style="marker:url(#m0)" d="M-37.3 50.8L-0.4 2.5 -13.9 58.4 9.2 56.4 -26 31.2 -1.6 3.6 5.4 65.2 8.4 53.9 -25.2 50.7 8 48.5 -8.3 61 5.4 60.5 12.7 57.8 6.9 25.1 10.9 23.9 0.1 30 7.7 41.5 -21.3 63.6 9.3 59.3 -23.1 48.4 -24.7 44 12.6 32 -1.8 55.4 5.4 55 1.1 9.1 4.5 10.2 5.1 68.5 0.6 25.4 -34.8 52.9 5.4 19.8 -2.9 48.4 11.7 47.7 -3.2 48.2 -1.3 32 9.4 68.3 -3.2 9.4 11.4 40.1 -0.1 17 8.3 61.8 7.6 17.1 3.7 20.7 -0.3 14.2 -0.4 34.4 9.3 43.7 8.2 39.7 11.5 22.6 -3.9 13.8 1.9 42.4 -23.2 58.1 -0 24.6 6.9 54.3 -3.3 63.8 12.8 65.4 -21.2 37 15.5 30.2 8.7 64 -15.1 24.6 -38.3 50.6 1.2 3.2 9.1 57.8 -2.6 5.1 -7 65.1 -3.2 48.3 -11.1 52.4 8.4 42.7 -4.6 59.2 11 57.5 15.8 48.4 -6.3 30.8 6.1 8.2 -32.6 39.4 16.1 60.8 15.5 61.5 -23.9 42.5 1.4 58.8 -12.8 23.7 4.4 24.8 2.2 14.5 -11.9 62.1 -11.9 61.8 6.6 14.7 13.8 54.2 17.8 56.6 -0.7 14.7 -8.2 67.1 0.4 66.2 16.4 58.6 -7.1 28.6 7 23.8 -9 62.1 2.4 45.7 9.1 53.7 7.2 34.1 -24.3 47.2 -14.4 51.4 10.7 24 -15.4 31.7 -31.3 36.7 13 23.2 -37.4 48.7 -0.1 16.4 4.3 26.9 12 46.4 -2.9 37.9 -4.3 15.5 9.7 59 -13.6 40.6 1 11.5 16.5 48.4 -1.6 52.1 9 42.8 17.2 48.5 -2.7 6.3 -18.8 49.6 1 26.4 16.8 45.9 -4 63.9 6.9 41.6 18.3 55.4 -11 37.7 9 26.4 -13.3 66.1 -11.2 48.1 -3.4 24.3 -14.7 62.5 17.2 61.1 9.6 28.7 -29.8 47.2 5.5 58.4 -4.2 66.8 -8.4 53.8 1 25.8 -5.6 35.4 4.6 62.6 15.8 55.6 7.8 10.7 16.6 61.6 -17.4 50.6 18.6 57.4 -20.4 58.1 -0.7 10.1 7.7 27.6 -9 22.6 2.1 33.1 -36.8 43.8 -3.3 54.5 -37.7 45.2 -8.2 17.3 -1.1 29.4 12.9 24.6 -18.8 40.8 9.1 28.6 -6 57.1 3.2 51.6 -9.8 16.7 11.7 58.5 7.2 23.9 -9.4 13.2 17.2 50.9 7.4 32.9 -37 45.6 -5.7 64.4 3.5 10.9 -9.7 16.6 11.9 21.7 7.1 16 15.4 63.8 7.3 43.5 0.1 9.1 -8.6 9.1 -23.6 49.7 -5.2 32.9 -8.5 48.5 1.3 49 10.7 58.8 -5.5 65.2 -20.9 27 3.3 49.9 13.8 38 -17 36.4 7.1 29.8 -27.2 34.2 8.8 17.3 -20.6 37.5 3.7 12.3 -39.1 47.6 9.6 17.8 18.1 57.6 -6.3 46.1 1.9 8.3 -36.6 48.7 -15.2 61.4 11.1 17.8 -5.8 58.7 9.8 31.3 -0.4 69 7.8 44 10.7 61.4 1.7 51.2 -26.7 49.7 6.2 58.9 -4.3 59.6 5.6 50.1 11.2 30 12 40.8 11.5 59.4 7.6 54.2 -28.4 49.3 -8.7 27.6 4.6 12.7 6.6 26.1 8.3 22.2 -40.7 46.3 -37.6 44.1 -2.7 9.7 0.9 58.6 -35.9 48.4 12.6 50.3 7.1 56.3 -18.3 48.7 5.9 30.6 14.4 47.1 11.7 21.2 -2.7 36.4 -26.7 53.1 -14.5 65 -3 20.3 0.6 68.7 7.2 53.4 7.9 18.4 -18.5 33.8 -14.8 30.6 -12.4 30.3 -8.5 59.9 -1.8 18.2 -3.6 66.9 -9 14.7 -14 60.1 -3.1 35.1 1.2 16.3 4.1 12.9 -1.4 39.5 15.2 48.2 1 34.8 11.7 40.2 -3.5 51.8 10.7 38.6 6.8 26.6 -5.8 50.8 -31.4 39.3 -2.4 19.5 -0.8 16.2 -22.7 26.8 11.8 19.9 3.9 58.7 -11.6 26.6 17.9 45.6 12.7 35 -3.2 52.4 -0.4 15.6 15.8 50.6 2.8 22.4 -26.4 55.9 -2.4 8.2 2.7 47.2 -27.7 50.1 9.1 34.7 3.2 60.3 -3 27.4 -18.9 57.7 -8.5 44.8 -16.9 23.3 11.7 45.1 17.7 57.7 13.5 27.8 7.2 54.8 18.1 59.3 -2.8 37.9 -2 24.5 -2.2 34.1 -3.8 34.3 17 51.4 -2.8 56.2 -23.9 29.2 -2 4.7 10.6 25.2 -24.3 28.2 16.5 42.8 14.9 54.3 -3.3 68.1 -1.3 60.9 14.3 27.5 3.6 45.5 -2 64.9 -23.3 52.6 -1.6 14.3 -37.1 42.7 -4.3 24.8 -11.4 51.7 -0.1 45.7 -3.9 66.5 7.8 25.7 10.8 28 -3.1 30.9 2.8 66.5 11.4 47.4 -12.1 48.4 -5.5 57.4 4.6 57.3 -30.7 38.4 15 54.1 1.5 45.4 -20.5 50.8 16.4 38.7 -15.5 19 -0.8 65.3 -12.9 66 4.2 40 2.3 35.6 0.3 7.4 16.7 48.6 2.7 51.1 4.5 64.5 -18.3 25.5 -3.1 42 17.7 40.6 11.4 38.2 -21.8 49.9 -25.1 61.1 1 39.8 -20.4 36.8 -26.8 32.6 11.3 63.3 -25.1 50.2 8.6 13 8.9 32.2 16.1 37.5 7.4 58.7 15.9 59.5 2.6 53.1 -33.5 36.3 0.6 52.1 -34.4 54.6 2.4 27.5 4.8 59 10.4 33.6 -14.8 29.9 2.8 57 -16.2 16.3 3.7 28.8 17.9 45 6.8 56.3 9.8 24.8 -15 19.9 4.1 58.8 -3.7 64.5 5.2 33.1 -22.7 49.5 4.4 68.7 -23.5 33.3 5 44 5.5 37.7 1.9 61.8 -9 47.7 -8.8 40.8 9.2 31.8 16.5 62.7 7.9 67.1 -34.8 54.5 -26.8 29.2 -14.7 20.2 16.7 36.2 17 51.1 -4.7 8.4 3.3 49.8 8.7 24.2 -0.6 52.3 -11.9 42.1 0.9 36.4 5.2 68.8 1.3 55.5 17.1 54.2 0.1 29.8 -13 22.2 8.3 36.7 -3.7 9.3 10.6 40.6 -9.9 19.3 -3.5 19.7 14.4 34.8 -33.8 40.8 12.4 32.9 -1.6 48.4 -18.3 21.9 3.3 27.9 5.5 24 -28.5 57.1 -6.6 66.9 -11.2 45.4 2.4 4.8 4.9 42.6 6.6 38.8 17.7 44.3 -31.8 56.9 -8.3 15 -20.2 43.8 4.8 6.7 -0.3 17.9 -10 66.7 -3.9 37 6.8 27.7 13.5 45.8 -0.1 14.3 8.9 14.3 13.4 64.6 18.2 49.5 -1.8 17.4 -5.7 10.9 9.6 26.6 12 66.3 6.3 44.6 8.3 68.1 -6 60 6.7 39.9 17.1 39.2 6.3 15 -2.9 53.9 2.7 61.4 -12.5 40.3 -1.5 48.5 -35.8 50.3 -0.9 44.5 3.7 5.8 5.1 45.3 14.1 43 -0.1 19.5 -30.7 49 -0.8 18.2 -20 48.6 13.3 54.7 7.7 18.1 16.4 52.2 -26.1 36.4 -5.7 58.1 3.9 17.5 -10 41.7 5.6 11.9 14.2 42.3 -20.6 44.2 3.4 63 0.2 59.2 6.7 62.5 17.4 59.3 -7.1 22.6 10.9 18.7 3.1 56 -29 45.4 15.1 64.2 0.5 47.2 -25.2 56.3 8.2 18.1 8.5 12.7 1.6 61 2.5 51 5 41.4 2.2 38.5 -7.8 9.6 -4.7 5.2 0.8 30.6 -6.8 25.3 -10.2 29.2 -0.3 39 -35.6 53.2 4.4 57.6 -1 48.7 3.9 9.4 7.7 43.2 2.3 35 -11.4 63.3 2.3 5.3 15.3 58.9 -29.2 42.3 -4 7.3 14.6 28.7 12.1 64.8 6.3 60.1 6.7 58.1 -0.9 4.2 -13.3 36.5 12.6 21 6.7 57.8 5.4 42.5 9.8 37.6 0.8 26 -20.2 55.1 -10.5 24.7 9.2 46 -11.3 42.4 -1.2 60.3 -28.6 31.2 15.9 43.6 -2.8 56.7 11.7 30.1 3.8 35.1 -22.1 62.4 -13.7 59.5 -13.9 27.1 -0 56.8 7.9 52.3 18.2 56.2 18 47.1 -30 35.7 7.1 52.5 -3 38.4 6.4 43.7 13.5 28 -16.8 37.3 -0.4 66.7 -11.1 50.6 4.5 27 18.9 47.9 3.1 58 0.4 68.1 -25.4 38.4 -27.2 38 -8.7 62.3 4.8 19.8 -25.9 60.1 -5 36.8 -18.6 54.5 18.3 54.8 -29.9 43.5 17 47.8 8.7 39.7 -20.7 61.8 -25.3 38.7 3.1 52.4 -3.6 9.8 6.5 39 0.6 26 4.8 46 0.4 36.4 16.8 47.7 -1.2 34.2 -13.6 54.6 1.2 53.3 -28.9 59.3 -26.9 49 15.9 36.9 5.1 54.2 4.4 14.1 6.6 60.1 3.8 42.1 7.7 18.6 -31.4 42.5 11.5 64.7 -5.5 65.8 -31.8 39.8 12.8 48.1 -23.2 50.4 7.1 63.6 -4 27.7 15 39.8 -6.6 22.3 -4.7 14.3 13.4 61.2 -2.5 42.4 -2.6 44.1 -2.2 67.5 9.3 16.6 17.9 46.6 18 57.2 8.4 13.3 -3.2 27.8 3.8 11.7 -18.4 26.6 -2.1 57.6 9.7 21.6 -27.9 43.3 16.7 44.2 -30 43.1 14.5 29.4 -11.5 58.3 1 2 -7 67.2 12.5 65.5 -28.4 45.6 7.8 64 -29.7 43.8 1.2 65.7 -27.9 51.9 6 19.3 -2.3 30.8 -7.6 14.5 11.6 65.2 -21.2 49 13.3 58.4 11.9 46.3 0.4 65.7 15.3 32.9 -35.2 43.9 17 38.6 0.3 0.8 -39 48.5 15.6 43.1 10.2 33.1 -1.7 46.5 3.1 17.8 14.6 65.1 10.7 53.2 -14.2 17.9 -1.4 17.9 14.2 65.3 3.2 23.7 13.1 63.1 11.9 30.4 -22.3 46.5 6.2 18.3 5.5 64.1 -10.5 27 10.3 17.9 -6.6 44.2 13.1 49.9 18.6 53.6 13.7 58.6 6.9 16.7 -9.2 55.4 2.2 48.7 3.1 58.5 16.4 54.4 4.3 54.9 8.3 13.8 -1.7 1.6 -1.3 61.9 5.8 45.4 -1.6 43.6 -5.2 31.5 2.9 44.7 5.9 8.4 5.1 33.6 -0.6 21.6 -6.8 18.9 15.1 58.4 -33.3 55.1 -0.5 23.5 8.7 45.1 -9 15.4 1.4 18 13.1 55.8 -25.2 58.8 9.3 45.8 2.7 65.9 0.4 5.3 -0.8 65.6 -3.7 22.2 14.7 47.4 12.4 51 4.7 56.5 6.7 39.5 12.5 66.6 -18.1 63.9 2.7 21.9 10.5 49.3 -20.8 33.1 5.1 46.8 4.4 21.3 14.1 53.3 -2.1 17.2 -23.6 33.8 8.2 37.4 4.4 6.1 -1.4 17.3 8.2 42.8 6.7 55.6 3.1 23.9 17.6 57.1 -26.9 60.2 15.7 55.6 8.4 66.1 10.2 22.2 -3.8 59.8 -25.1 61.4 8.6 36.4 -20.8 51.8 10.1 30.5 -3.1 32.8 -2.2 59.8 18.2 44.9 -2.6 31 7.7 10.6 -2.5 67.8 10.4 54.6 13.4 35 0.6 5 15.2 53.2 -4.4 25.4 -3.5 26.6 12.5 22 -3.7 3.3 12.7 38.8 -16.2 64.9 -1 67.8 -23.6 62.1 0.3 24.3 8.6 34.7 -0.3 66.3 7.4 47.6 16.4 37 4.5 64.7 9.1 18.7 4.7 66.8 -30.5 39 11.8 49.9 6 26.7 -31.1 41.1 -28.2 43.2 -32.9 36.2 10.2 67 7.8 54 -23.5 47.1 -15.8 37.8 12.8 49.8 -32.5 50.5 -8.5 28 12.5 24.8 2.9 68.5 -1.2 22.6 9.9 34.6 -20 61.5 -24.4 44.7 16.3 62.5 0.9 68.7 -10.9 35.7 5.2 36.5 -3.6 13.7 5 55.1 -10.1 63.7 14.2 58 -12.8 65.4 -19.3 48.3 17.7 53.1 -17.7 49.4 -35.9 51.1 15.8 43.6 -16.5 21.4 -3.2 61.9 6.7 31.3 4.2 34.1 16.6 50.1 2.5 29.4 3.7 43.2 13.5 57.5 2.3 20.4 -1.5 10.3 1.2 65 -26.1 54.1 -21.5 44.5 6.8 65.2 13.7 28.5 -5.1 18.3 -11.5 66.2 -0.4 52.4 0.7 13.3 8.8 24.9 -35.7 47.2 13.7 51.2 3.5 21.9 -23.4 41.4 15.5 53.9 -2.7 66.7 5.5 28.3 15.5 34.6 -17.3 34.2 -3.2 13.4 9.6 33 -38 47.5 -23.2 31.3 -15.6 45.7 -27.3 52.4 15.2 50.1 9.8 59.9 7.6 17.5 -1.5 5.7 1.4 39.9 -0 58.4 -35 49.4 -3.2 6.3 -29.8 48.2 -0.5 29.8 -3.8 31.2 7.7 10.9 -12.4 15.4 -11 32.2 -6.9 12 -0.1 16.4 7.4 12.8 -13.8 63.9 13.2 39.6 12.1 50.6 7.5 68.4 -23.9 31.6 -29.2 32.6 -1.4 63.1 -25.8 39.4 -13 45.7 -12.1 36.2 9.7 53.4 2.3 53.2 13.5 52.5 -25 52.9 -25.5 29.3 -2.7 10.3 9.6 14.9 -27 38.6 9.6 16.7 -7.6 64.1 4.3 67.9 -16.9 65.2 -15.8 59.4 -16 45.6 13.2 22.9 -29.8 35 3.7 48.7 -4.5 64.5 -39.4 48.8 -21.4 63.6 15.4 64.2 -34.6 48.1 2.9 5.6 -3.3 16.5 9.9 45.9 -38.5 42.3 -3.7 48.3 -21.2 62 9.7 52.9 18.6 53.2 -28.9 58.8 1.3 16.5 -0.3 42.2 1.9 69.1 9.4 23 16.7 37.9 -1.8 68.6 2.6 15.8 5.3 14.7 3.7 11.5 9.1 37.3 -1 11.1 2 24 -6.9 7 -10.4 20.9 -33.1 35.2 -16.2 29 -3 26.5 12.6 48.2 9 52 10.3 47.2 -10.2 66.8 0.2 48.4 10.9 63.4 -21.9 51.9 -3 30.1 -12.9 54.1 7.4 44 4.7 64.6 9.2 45.5 8.8 14 -1.9 25.5 7.7 33.7 2 41.9 9.2 43.4 2.3 7.1 9.9 18.4 2.7 5.5 -9.9 67.3 2.5 4.3 -0.3 41.5 3.4 60.6 -1.3 11.5 6.5 52.6 7.8 12.6 -12.4 16.9 14 25.4 1.8 65 -11.7 19.6 3.4 14.8 -38.2 45 14.6 35.9 16.7 44.8 -8.4 59.1 4.7 7.1 -6.7 15.9 -3.7 31.9 12 59.5 -6.8 63.8 18.6 51.9 17.9 44.6 11.4 24.6 5.2 40.8 -24.5 41.9 -2.1 45.1 14.2 57.2 -10.2 40.7 14.5 30.7 -5.7 48.4 -1.4 20.1 14.7 64.6 10 63.1 -17.6 33.3 8.3 48.8 7.2 66.1 0.1 53.7 -4.3 59.3 -2.1 65.4 5.3 63.4 -9.8 57.7 6.3 44.5 6.3 50.9 4.6 31.4 1.8 17.5 -6.1 5.9 -33.3 55.6 6.9 24.6 -1.1 16.8 -27.5 51.2 -2.8 19.3 16.4 39.4 0.4 25.2 -20.6 43.6 -6.2 30.2 -21.5 32.8 -3.2 40.2 5.4 34.5 16.1 45.9 15 29.9 8.4 17.7 -1.1 55.3 7.2 36.9 6.7 53.6 -36.4 46.5 -4.2 56.8 -38.1 46.5 -0.5 30.2 1.5 12.4 7.2 65.4 18.3 45.5 13.5 65.9 2.1 58.4 -5.2 45.9 -2.5 15 15.8 56.4 17.5 38.6 -5.7 66.5 -2.9 54.5 3.4 56.1 14.9 37.5 2 49.4 -10.7 30.4 -3 15.9 4.7 13.5 17.1 43.9 1.5 36.8 3.9 65.3 5.5 52.8 14.9 61 3.2 46.4 13.3 25.2 8 31.9 12.9 52.8 -2.2 66.9 9.4 62.2 -5.3 7.6 -1.5 15.3 -5.5 31.1 -37.2 39.9 -5.1 27 -18.9 24.7 -16.8 51.7 -11.7 14 1.6 50.3 0.3 57.3 1 2.3 5.4 68.6 2.3 13 17.9 42.5 6.6 8.7 12.4 49.4 -2.3 53.3 11.3 64.8 6.5 10 6.9 49.6 15.5 39.7 -13.6 58.8 7.5 25.1 18.5 57.2 0.8 65.6 -28.4 55.6 -25.7 33.7 1.4 41.6 18.5 54.3 -3.2 26.1 18 45.4 18.8 56 -21.5 42.8 -3.1 64.3 3.1 32.3 13.1 53.3 12 33.1 5.6 40.5 14.7 29.3 -22.1 30.2 18.2 50.8 -1 38.4 15.1 33.2 2.5 41.1 -0.8 54.6 -14.5 19.5 -23.2 56.9 -5.8 66.5 -13.3 50 -21.7 62.4 -25.8 28.2 -4.9 63.4 0.6 24.4 -36.3 47.5 9.1 52.9 11 48.9 -25.3 38.1 -21.4 45.6 -16.4 64.4 18.1 45.2 3 34.2 11.3 23.2 -4 37.5 16 34.6 4.5 34.2 10.1 67 -8.1 11.6 9.5 32.7 -19.1 40.9 -14 19.8 -23.1 43.7 5.4 28.1 -7.8 22.6 6.6 40.3 -23.6 62 -3.5 19.6 2 60.3 10.7 34.3 -9.2 58.7 16.5 43.9 12 60.1 11.5 35.7 0.8 21 -7 41.7 18.5 58 15.2 48.1 -31.8 54.6 -13.3 22.4 -29 43.4 8.9 51.5 13.5 58.9 -19.8 24.7 -7.5 32.1 18.5 58 -3 39.6 -3.5 9 -4.9 20.6 -34.8 52.4 -30.5 49.7 8.3 21.2 5.9 56.2 11.2 32.1 2.8 15.1 12.3 26.6 17.1 41.9 4.7 21.8 -30.2 58.1 -9.3 42.7 -13.2 52.4 6.5 64.2 -20.4 37.6 -33.2 52.6 9.2 54 -2.6 65.7 -4.8 33.3 9.5 14.1 -30.4 44.8 -7.3 27.1 -1.7 57.2 16.3 61.4 -0.5 15 6.6 52.8 6.1 33.9 -20.8 35 -10.1 34.1 6.1 16.5 -12.9 13.9 -3.2 63.9 -35.9 46.7 2.7 46.6 -26.2 37.4 17.2 38.9 -2.5 37.2 -4.9 38 17.9 49 -26.9 58 9.4 65.5 9.5 62.2 -5 32.9 11.8 36.3 10.7 19.6 12.7 40.7 10.1 41.9 -9.4 65.9 -18.2 56.6 -4.9 41.4 9.6 37 -26.9 52.5 10.9 65.1 -5.9 6.1 -6.2 67.8 11.7 28.6 9.3 49.7 10.8 58.2 -6.8 7.6 2.7 65.1 16.2 36.3 -7.9 64.1 5.1 17.1 12.2 26.7 11.7 24 -1.5 16 13.8 26.1 -6.3 5.5 -5.4 53.1 -3.9 20 4.2 37.4 -1.5 21.5 -22.3 48.8 9.5 44.6 4.8 29 15.4 56.6 -29.6 35.8 -1.6 42.3 7.7 33.1 -38 46.9 -2.9 18.4 -33.8 39.8 11 60.9 -19.3 37.8 19 51.2 -26.3 41.2 12.3 66.7 -20.1 32 7.7 11.3 9.9 29.3 -10.8 61.1 -1.9 24 -18.4 61.4 -7.5 50.7 -17.2 50.7 -30.4 34.5 -0.7 9.9 9.8 48.3 0.7 29.2 10.8 47.4 4.5 27.3 2.5 43.5 -2.9 39.5 16.1 58 9.4 52.4 -9.6 15.6 -3 55.5 -18.8 32.5 8.2 18.3 -18.2 59 12.9 64 -2.9 21.4 4.3 13.1 -29.6 46.3 -16.2 63.7 0.6 51.5 3 59.8 15.4 56.1 8.1 47 -15.2 60.9 16.3 36.5 -0.5 67.8 -2.9 47.9 -3.7 53.8 -19.5 33.6 0.9 33.9 -5.8 29 0.5 58.2 -0.5 4.6 -22 50.5 -25.7 48.4 4 53.3 7.7 28.8 8.9 59.9 6.7 29.2 0.4 66.7 -5.4 68.2 4 62.2 -24.6 61.8 7.4 40.3 -8.6 25.4 -3.4 61.4 -30.6 49.4 5.9 22.3 2.8 46.1 -0.3 61.8 7.1 47.4 16.6 60.2 -1.2 50.4 -2.5 9.6 -9.9 40.2 0.6 5.5 -22.5 60.6 -31.9 36.4 -0.8 17.3 -5.5 23.2 -24.8 53.2 12.8 35 5.7 9.6 8.6 55.2 10.8 42.7 16.1 47.1 -13.7 60.9 9 59.9 14.2 39.8 7.4 59.9 -20 44.7 6 35.5 -2.1 63.7 13.4 41.6 0.8 17.6 -2.7 59.1 9.3 61.6 -31.1 46.9 -0.1 55.8 9.9 34.2 -38 42.7 -26.7 52.2 -5.1 38.4 -2 58.1 13.1 35.4 14.2 58.7 -9.1 22.7 -1.2 20.2 -24.7 59.4 -1.9 55.6 2.8 25 -9.3 56.8 12 56.2 -6.9 67.9 14.3 50.8 4.6 7.1 4.8 35.2 -23.9 34.6 -11.3 24 3.2 46.9 -16.3 62.3 9.1 53.9 -8.6 45.6 10.7 22.2 6.7 41.1 9.5 50.9 0.3 22.2 -0.7 41 6 53.1 4 6.6 -2.8 64.3 11.9 52.3 -21.3 60.5 11.3 47.7 8.7 17.3 8.7 41.8 -14 61.9 3.8 38.2 13.1 63.1 -27.8 60 3.6 22.6 12.3 41.7 14.7 36.3 5.6 56.8 -10.8 66.6 -12.1 14 4.7 45.2 -31.4 38.5 -21.7 39.1 5.6 45.4 -10.6 13 10.5 61.7 10.6 28.9 -3.6 61.7 -13 15.5 -2.2 49.4 -5.7 64 2.3 43.1 13.9 39.8 -9.4 9.9 18.3 58.9 8.8 49.3 10.6 18.3 3.7 56.7 11.6 43.2 -2.4 5.1 -2.9 49.8 -21.1 59.2 6.9 31.2 10.8 34.4 5.5 33.9 -14.8 57.6 -4 39.7 0.2 49.8 0.8 61.6 1.4 7.9 10.2 66 17.3 60.4 13.9 28.9 5.2 50.6 -3.2 22.3 12.7 28.9 2.5 39.8 12.1 20.7 7.5 36 -17.8 59.3 8.6 53 -19.9 28.9 16.7 51.8 10.8 40.6 5.8 31.7 8.7 16.3 -30.7 37.2 15.7 63.5 9.1 60.4 -6.5 34.9 -23.5 62.4 2.2 4.7 13.4 64.3 6.5 18.5 -20.5 41 11 47.6 -19.4 39.8 -30.6 42.3 8.7 62.9 0.7 68 -29.8 54.7 10.5 41.5 -35.6 40.4 -9.2 66.7 11 44 -9.5 53.2 12.3 55.8 17.7 43 13.6 25.6 9.1 60 7 62.1 14.1 55.5 -5 15.1 9.1 66.3 -15.5 46.3 13.9 32.2 1.8 68.6 8.2 52.2 7.6 57.1 -17 37.1 -19.2 49.7 -1 62.1 12.5 22.5 11 58.6 7.7 13.4 -15.2 52.6 15.4 46.7 9.7 30.7 3.1 8.5 -32 50 1.8 9 0.3 48.1 -8.3 21.3 6.9 68.1 -21.9 54.8 0.1 33.8 -7.6 31.6 -8.4 48.3 4.5 25.3 -2.7 67.6 3.7 32.4 15.1 56.5 -7.1 24.6 0.8 4.4 -29.1 36.9 -3.4 5.9 2.2 14.5 6.4 12.6 8.2 39.9 12.7 53.8 16.5 44.3 9 68.4 5.1 30.1 8.4 22.9 -8.7 64.2 -11.9 66.2 13.3 31.1 17.6 50.2 -30.7 58 6.2 46.8 14.4 62.2 8.7 67.6 17.3 42.4 -0.6 30.3 -2.7 29 5.1 26 5.1 41.9 10.3 56 1.6 48.6 3.7 48.3 0.7 38.2 -5.8 18 13.4 24.1 -15.3 54.2 8.4 54.8 10.8 66 -1 23.6 13.4 57.1 -1.1 63.4 -4.2 59.2 16.2 34.6 15.4 59.2 -13.9 65.3 11.8 30.7 -14 50.6 0.9 17.2 8.1 64.4 -1.9 30.7 -21.1 24.4 12 29.8 -9 60.6 7.3 37.4 -2.5 5.1 13 45.5 3.9 58 -3.8 8.8 5.5 7.9 -0.9 13 4.8 8.4 3.1 68.8 10.1 39.2 9.8 16.5 -2.3 46.6 2.8 24.1 -12 56.4 -15.3 58.7 -1.7 30.2 -3.1 16.5 14.5 61.3 15.3 44.8 -14.5 46.7 -2 14.3 -0.9 29.5 -32.8 47.4 -38.4 44.2 5.3 19.8 -24 35.5 16.7 56.1 -12 17.7 -20.6 33.6 12.6 63.6 -28.1 34.2 18.1 47.1 -10.8 60.4 16 33.2 -2.3 44.3 -21.5 29.6 -1.4 64.3 -21.2 50 -6.7 48.8 -1.9 59.6 4.9 45.4 6.1 49.7 4.7 12.9 14.1 46.2 15.5 30.4 6.6 56.6 9.6 37.5 -14.2 61.4 -26.3 30.2 15.9 34.9 -9.2 65.3 -29.7 49.4 -19.9 23.5 12.8 31.9 1.7 69.1 -0.4 46.6 2.8 18.2 0.2 55.8 4 39.7 3.5 59.7 0.3 69.1 -2.7 65.6 13.3 56.1 16.9 40.4 13.9 26.9 -15.6 50.6 3.7 60.6 6.9 42 13.6 46 11.3 36.2 2.6 63.2 2.1 58.5 0.2 13.2 -13.3 55.6 6.6 20.9 -3.3 18.1 -9.6 19.3 -1.5 17.8 -24.4 36.3 -35.5 44.1 7.3 54.9 6.2 26.2 -10.1 16.9 -36.7 42.5 10.1 59.3 -16.3 51.3 -1.4 17.4 7.2 14.3 12.2 48.2 8.5 47.2 -3.6 23.1 -22.5 41.5 -0.5 20.6 11.6 64 15.7 45.5 -34.2 55.1 12.3 42.7 16.6 62.7 -1.7 28.5 6.7 49.6 13.9 52.8 -0.1 63.8 8.2 32.3 4.7 67.7 -18.6 33.2 -16.3 61.3 -0.9 31.9 5.3 47.8 11.7 36.1 -3.2 32.4 0.9 11.5 2.5 60 3.9 29.5 -14.9 19.6 -23.7 61.8 -11.8 42.8 -19.5 42 17.6 43.5 -3.3 59.9 -19.8 49 -19.6 59.6 -23.4 49.4 10.9 50.6 4.4 40.6 12.6 22.8 4.4 7.2 -33.8 44.2 11.4 50.4 0 4.1 9.5 58.1 -15.1 17 -22.1 52.1 -7.5 36.2 0.2 59.9 -3 47.1 -4.2 68.1 -18.1 52.8 -31.5 36.4 -38.6 47.5 0.2 38.6 -10.1 52.7 -33.3 52 -9.5 42.6 15.7 39.3 -13.6 59.4 15.2 33.8 -11.6 62.3 10.4 39.9 12.9 66.3 9.5 66.2 9.6 27.6 -3.2 10.3 1.9 28.4 7.6 62.1 19 52.8 7.8 11.4 10 17.2 -21.6 34.6 5.6 33.6 -4.1 64.8 4.5 50.8 -1.6 19 -0.9 48.3 -14.4 14.2 -23.1 44.1 0.9 12.3 10.9 63.5 -0.2 3.3 8.8 67.8 1 40.1 8.6 19.3 -14.1 66.1 1.3 58.7 -9.2 34.9 -31.8 48.8 -28 39.9 17.2 60.8 -36.3 48.8 1.1 35.9 6 42.9 0.7 6.1 8.2 64.1 1.9 11.9 3.2 50.3 7.7 54.3 -26.4 39.8 6.2 15.1 -12.9 14.5 1.9 13.9 16 53.2 11.2 45.4 18.8 56.5 9.9 16.7 16.9 60.5 -31.3 44 0.7 53.1 -5.3 25.8 16.1 34.6 -2 55.9 -29.1 46 -16.1 25.8 -9.9 11.4 5.5 63.1 4.7 17.3 1.5 60 3.4 29.3 13.3 64.5 1.4 68.6 -31 37 -1.8 11.6 0.8 53.7 11.9 19.1 13.2 39.6 3.9 54.5 4.5 8 -3 10.1 16.1 47.2 -5.1 64.1 -1 4.8 -16.5 50.4 7.9 61 -10.1 13.1 -13.9 52.9 -16.4 63 -32.2 50.6 5.3 49.1 -2.2 13.7 -7.5 22.6 -0.7 39.8 -20.6 49.4 8.3 64.2 3.6 25 12 25.2 -10.3 61.1 -10.8 28.8 16.6 35.6 -2.4 4.5 -2.3 56.1 14.1 62.1 16.9 50.3 7.7 67.7 -16.2 43.6 -3.4 43 10.4 25.9 -9.4 20.7 -12.2 48.7 -16.8 53.6 8.1 60 5.3 35.7 -16.5 56.4 12.3 38.1 -5.6 54.2 12.2 60.5 9.4 56.1 8.8 66 -18.5 57.9 -7.8 51.7 3.9 14.3 1 51.7 -3.8 58.2 -2.2 53.7 3.5 18 13.7 50.6 -1 60.6 0.3 22.5 6.8 21.6 5.5 12.4 11.9 39.4 2.4 20.3 5.4 36.5 6.5 28.1 6 18.7 3.1 19.7 -5 48.6 17.2 59.8 -1 53.1 -2.4 50.6 0.9 62 -35.2 41.9 16.2 33.9 -10.1 19 16 49.6 0.4 41 9.6 24.6 -1.5 21.1 -2.2 11.2 -17.2 24.6 -28.6 30.7 1.2 67.4 2 51.5 15.5 60.8 17.5 57 4.4 55.7 1.2 61.9 18.4 58.9 11.3 27.5 10.8 32 -39 41.7 4.1 19.6 11.6 35 15.5 56.9 -13.1 32.8 17 43.4 6.9 58.5 7.3 17.8 4.3 45 -3.7 39.3 -9.5 62.8 2.7 19.6 0.7 51.1 -17.3 36 12.4 59.6 2.5 32.8 -32 51 3.5 66 -21.5 49.8 -21.2 33.3 -35.9 44.9 1.5 63.6 -20.3 38.7 15.1 47.3 7.6 19.3 -22 63.2 5.7 23 1.2 38.5 2.1 48.7 11.8 61.4 -14.5 65.1 10 62.2 7.6 42.4 -1.2 57.5 -5.4 20.5 16 63 -1.5 54.8 -2.8 18.1 11.9 20.9 1.4 39.1 -9.8 66.3 17 38.1 2.1 22.9 -12.1 14.6 -13.6 66 11.4 51.3 -2.5 25.2 -19.4 46 -7.3 53.1 7.3 20.5 5 30.6 7.5 29.5 9.4 37.9 -3.5 31.3 11.4 47.5 12.2 28.1 10.1 27 -9.1 65.2 -1.5 37.7 -5 57.7 -30.4 56.3 4.6 48.2 2.3 19 6.2 29.4 6.9 31.5 -8.2 22.2 -8.8 13.7 13.3 52.6 5.3 20.8 1.7 55.9 -36.5 47 18.2 45.4 -19.8 64 -5.6 41.1 11.4 59 12.6 61.1 -4.5 24.9 1.8 58.6 10.4 54.6 5.3 31.2 4.7 11.5 11.8 49.3 -2.9 51.6 13 28 6.9 51.7 5.9 59 -4.6 41.3 0.3 2.3 16.8 43.3 -22.8 51.4 10.5 50.5 11.2 48.7 -31.6 57.3 12.2 20.7 -8.2 16.4 -15.1 65.3 0.3 12.1 1.3 27.5 5.9 66.1 11.7 31.9 3.4 31.8 8.1 47.8 -10.6 49.7 3.1 14.8 6.1 11.6 -11.4 66 -1 26.2 -3.9 9 15.4 37.9 -0.9 55.7 -6.8 59 15.9 32.8 -38.5 49.7 8.1 67.2 -1.3 6.5 -1.7 52 -19.8 44.8 -37.2 44.6 -9.2 59.6 -16 36.8 5.8 23.3 15.3 47.5 6.6 34.4 5.7 18.6 -27.4 54.6 4.2 45.4 -30 52.6 -3.6 19.2 10.7 67.1 4.8 23.6 6 10.7 5.1 51.4 -1.8 43.1 -30.9 57.6 13 24.5 0.2 53.4 3.1 44.5 12.3 24.2 2 13 -24.5 54.4 0.4 22.7 -0.8 60.6 -11 59.7 8.6 44.9 2 3.5 -25.5 51 18.7 56.5 -2.1 67.5 -13.3 59.1 -24.9 60.7 13.7 63.7 9.7 59.4 16.4 35.4 18 53 -18.1 50.1 -2.1 43.6 -21.1 44.6 -6.6 26.3 18.5 58.3 -3.5 43.5 16 59.7 7.5 37.2 2 3.5 -9 10 -0.1 54.2 2.5 15.8 -5.3 67.3 -23.2 33.9 -33.9 36.8 3.3 40.7 16.8 42 5.3 48.5 5 62.3 -13.8 61.4 8.6 60.1 11.6 61.9 4.6 7.5 -15.8 52.3 12.9 29.7 -9.2 17.7 -23.7 32 6.1 38.2 -30.5 40.3 2.4 49.4 -11.1 65.9 -0.3 49.6 5.4 7.2 -9.6 10.4 13.6 41.4 13.5 32.6 11.3 37.5 6.6 9.8 3.1 23.1 0.2 62.1 5.1 28 -2.3 46.5 -28.5 59.5 2 46.7 3.1 4.5 8.7 14.5 13.6 27 8.5 60.6 11.6 55.1 10.3 35.8 1.7 34.5 9.8 33.3 16.9 53.5 6.7 54.8 -8.1 47.8 11.8 63.6 -4.4 66 5.8 48.6 10.9 50.1 -33.9 54.6 14 38 -3.1 63.9 8 56.1 10.4 34.5 3.5 45.4 11.7 56.4 18 43.4 6 46.9 8 25.8 -0.5 55.2 1.4 6 7.1 11.4 -24.1 51.8 9.5 34.4 -14.2 58.8 6.7 46.2 5.2 22.9 9.3 31.8 9.7 53 -28.5 34.1 -3.9 66.3 5.3 46.2 -1.3 62.1 7 51.7 8 55.3 -9.6 62.5 -3.3 61.2 -0.7 1.1 -18.8 64.7 16.2 42.8 12.5 38.5 1.4 3.5 15.7 32 -11.4 32.9 13.2 46.3 13.8 47.4 2.2 34.5 -3.3 5.5 8.7 59.2 0.2 65.1 -0.9 56.4 15.1 62.8 -24.6 61.5 11.7 33 -22.2 39.8 17.5 41.8 2.7 62.6 -5.3 66.5 -20.6 63.5 1.8 44.2 -11.5 18.9 0.7 69.1 -37.3 51.9 -18.1 22.7 -23 60.7 14.8 31 -31.3 38.3 -11.1 12.1 -18 22.2 10.2 62.4 -3.7 42.3 -27.2 44.4 3.6 31.7 -3.9 25 -8.8 66.9 5.3 63.2 -6.1 50.7 -25.3 32.4 14.1 64.7 15.7 62.1 -1.1 26.1 5 52.3 6.7 57 18.5 48.6 2.8 47.2 9.2 33.6 18.1 42.7 17.6 41.5 -29.7 58.6 9.2 16.8 -5.8 38.2 -6.4 16.9 4.5 21.7 -26.3 60.3 15.9 61.7 4.7 11.2 -3.8 66.9 4.7 63.3 -0.8 24.1 12.1 40 11.7 23.9 -2.9 33.8 12.1 44.2 13.1 36.1 1.1 2.5 16.3 42.7 -0.3 5.5 -0.2 6 7.8 12.1 -5.1 33.7 -0.1 68.1 1.8 61 16.3 46 3.4 20.9 0.6 6.3 -5.8 68.1 8.7 28.6 -12.4 53.7 7.2 58.8 1.9 30.6 7.6 32.8 12.2 42.4 9.8 17.2 -1.9 29.9 -31 51.2 -28.7 42.2 -3.2 52.9 10.3 22.4 -3.4 19.6 -34.4 49.5 -1 59.7 -6.8 10.1 13 64.5 4.5 28.4 -3 43.1 15.1 28.7 -36.2 41.8 -37.3 44.7 14 33.8 0.6 58.4 -11.8 60.2 -5.5 26 8.5 18.6 -10.1 32.3 -10.5 52.3 -13.4 44.8 -27.7 52.6 4.3 56.6 1.6 36.1 4.8 15.8 9.7 57.1 -2.3 14.8 0.4 3.6 9.3 45.6 3.5 25.7 -2.1 49.6 13.7 59.1 -10.8 55.7 8 50.8 12.6 42.2 -16.9 59.8 -24.8 46.6 -3.8 64.9 1.5 36.1 13.2 23.3 -7.4 16.7 12 37.1 5.4 41.4 6.4 22.3 -12.1 32.3 -11.8 60.9 9 43 14.8 47.6 7.6 49 0.9 38.1 -32.4 37.5 7.1 51.8 12.6 39.4 7.4 16.4 5.7 20.6 6.9 38 0.8 16.3 11 22.1 -3.9 36.5 16.3 61.5 4.4 43.1 7.1 61 7.4 56 4.7 26.8 -3.6 33.6 14.7 39.9 -5.9 36.4 4.4 34 -36.4 39.6 13 30.5 18.1 55.7 3.5 26.7 6.5 68.1 -3.3 55.5 9.1 42.7 13.8 42.6 7.1 24.8 -15.8 49.9 4.6 26.3 14.4 59.7 -30.2 43.2 -12.5 19.1 7.3 10.9 14.7 38.1 -2.1 43.5 -24.2 29.7 -1.2 4.2 7.6 20 9.5 25.5 11.7 42.6 -2.1 61 -4.3 52.7 -31.8 38.5 -21.5 57.6 -14.2 59 -14.1 24.6 -4.3 13.5 5.5 7.6 -4.7 65.8 -30 51.4 4.1 38.2 -27.5 51.2 -35 45.7 -10.2 66.6 17.1 59.6 1.5 15.2 -34.4 38.7 -20.1 34 11.8 47.5 3.2 37.4 12.1 20.5 10 38.7 5.6 29.8 0.4 43.4 2.3 7.1 -5.7 16 2.1 16.3 3.1 10.9 9.4 62.7 18.7 46.7 11.2 44.1 9.9 49.5 4.6 27.5 11.6 60.9 6.4 34.4 -30.1 31.9 5.9 9.9 -22.9 59.7 3.2 7.8 8.8 14.2 4.8 45.9 5.7 55.1 -5.7 67.2 5.8 54.3 11.9 29.2 -16.4 20.9 9.4 29.5 -4 10.8 14.3 59.9 -14.8 17.3 13.3 25.8 -8.5 60.7 13.9 27.1 -0.5 19.3 -7.7 65.3 9.2 26.6 -0.5 49.3 6 55.3 -9.3 63.1 -16.1 40.5 13.7 25.8 3.5 5.4 16.4 37.3 3.9 53.2 11.4 66.8 -38.5 46.5 9.1 30.7 10.8 32 -0.8 44 13.1 33.6 14.2 39.6 1.1 59 -8 21.9 8.6 60.2 5.8 11 -9.9 32.2 9.3 45.8 2.1 6.8 1.6 3.8 -35 53.8 7.5 23.8 15.9 53.5 6.9 68.4 -16.2 33.6 9.8 67.8 -2.7 36.7 -0.4 59.2 3.7 68.8 11.1 65.4 -0.8 68.3 13.7 47.2 -4.1 24.3 1.9 48.2 5.7 8.7 17.6 55.6 -39 47.8 15.8 64.7 -0.6 7.7 8.5 42.3 -23.7 48.2 6.4 68.1 13.7 45.1 5.4 19.3 -3.2 43 11 50.9 15.7 58 -0.9 37.3 -35.6 52.1 12 54.2 -17.6 45.5 6.3 9.1 -15.1 60.5 8.4 42.8 5.7 26.4 -1.9 32.6 -3.2 27.2 -14.9 17.2 -0.1 66.3 -32.7 34.6 17.1 41.5 8.5 33.6 -5.9 5.4 -13.3 65.9 1.4 61.5 -17 23.7 3.2 42.9 10.9 65.1 2.4 49.1 -5.9 30.5 -32.9 56.2 7.4 41.3 10.2 49 -14 65.8 -18.3 50.1 -18.5 44.8 -4 30.2 -36.7 52.7 -0.7 6.7"/></g></defs>
<g id="panel-b">
<text x="0.2" y="290.6" font-size="10.8" font-weight="bold">b</text>
<text x="77.5" y="291" text-anchor="middle">MFDO1 subset</text>
<text x="77.5" y="297.6" text-anchor="middle"><tspan font-style="italic">n</tspan> = 9,843</text>
<text x="77.5" y="304.2" text-anchor="middle">ANOSIM: <tspan font-style="italic">R</tspan> = 0.69, <tspan font-style="italic">P</tspan> = 0.001</text>
<text x="77.5" y="310.8" text-anchor="middle">PERMANOVA: <tspan font-style="italic">R</tspan><tspan font-size="4.7" dy="-2.4">2</tspan><tspan dy="2.4"> = 26.99%, </tspan><tspan font-style="italic">P</tspan> = 0.001</text>
<path class="ax2" d="M10.2 311.4V446.9H145.7"/>
<text x="6" y="384.5" text-anchor="middle" transform="rotate(-90 6 384.5)">PCO2, 10.5%</text>
<text x="77" y="457.6" text-anchor="middle">PCO1, 20.1%</text>
<marker id="m1" markerUnits="userSpaceOnUse" markerWidth="5.50" markerHeight="5.50" refX="2.75" refY="2.75" overflow="visible"><circle cx="2.75" cy="2.75" r="2.3" fill="#3a9a78" stroke="#0c201c" stroke-width="0.45"/></marker>
<path class="mk" style="marker:url(#m1)" d="M67.4 420.2L110.4 396 116.1 401.7"/>
<marker id="m2" markerUnits="userSpaceOnUse" markerWidth="5.50" markerHeight="5.50" refX="2.75" refY="2.75" overflow="visible"><circle cx="2.75" cy="2.75" r="2.3" fill="#1f9c8e" stroke="#0c201c" stroke-width="0.45"/></marker>
<path class="mk" style="marker:url(#m2)" d="M84.9 427.9L94 412.1 91.9 426.7 93.2 425 86.1 418.6 92.7 400.1 84 422.8"/>
<marker id="m3" markerUnits="userSpaceOnUse" markerWidth="5.50" markerHeight="5.50" refX="2.75" refY="2.75" overflow="visible"><circle cx="2.75" cy="2.75" r="2.3" fill="#169c8c" stroke="#0c201c" stroke-width="0.45"/></marker>
<path class="mk" style="marker:url(#m3)" d="M58.6 415.9L44.7 404 43.7 402 46.7 410.1 50.8 417.7 35.1 390 55.5 419.4"/>
<marker id="m4" markerUnits="userSpaceOnUse" markerWidth="5.50" markerHeight="5.50" refX="2.75" refY="2.75" overflow="visible"><circle cx="2.75" cy="2.75" r="2.3" fill="#169a86" stroke="#0c201c" stroke-width="0.45"/></marker>
<path class="mk" style="marker:url(#m4)" d="M75.1 373.7L74.8 397.8 68.9 376.7 81.1 386.9 80.8 390.8 90.9 384.1"/>
<marker id="m5" markerUnits="userSpaceOnUse" markerWidth="5.50" markerHeight="5.50" refX="2.75" refY="2.75" overflow="visible"><circle cx="2.75" cy="2.75" r="2.3" fill="#5a9a60" stroke="#0c201c" stroke-width="0.45"/></marker>
<path class="mk" style="marker:url(#m5)" d="M109.6 394.3L88.4 423.2"/>
<marker id="m6" markerUnits="userSpaceOnUse" markerWidth="5.50" markerHeight="5.50" refX="2.75" refY="2.75" overflow="visible"><circle cx="2.75" cy="2.75" r="2.3" fill="#2e8a5c" stroke="#0c201c" stroke-width="0.45"/></marker>
<path class="mk" style="marker:url(#m6)" d="M49.2 382.8L60 372.2 75 379.1 37.2 380 59 385.4 83.6 343.9"/>
<marker id="m7" markerUnits="userSpaceOnUse" markerWidth="5.50" markerHeight="5.50" refX="2.75" refY="2.75" overflow="visible"><circle cx="2.75" cy="2.75" r="2.3" fill="#4f9a54" stroke="#0c201c" stroke-width="0.45"/></marker>
<path class="mk" style="marker:url(#m7)" d="M62.9 362L36.9 377.1 87.3 354 60.8 357.4"/>
<marker id="m8" markerUnits="userSpaceOnUse" markerWidth="5.50" markerHeight="5.50" refX="2.75" refY="2.75" overflow="visible"><circle cx="2.75" cy="2.75" r="2.3" fill="#2f9a92" stroke="#0c201c" stroke-width="0.45"/></marker>
<path class="mk" style="marker:url(#m8)" d="M118.4 421.4L103.6 427.8"/>
<marker id="m9" markerUnits="userSpaceOnUse" markerWidth="5.50" markerHeight="5.50" refX="2.75" refY="2.75" overflow="visible"><circle cx="2.75" cy="2.75" r="2.3" fill="#e8982e" stroke="#0c201c" stroke-width="0.45"/></marker>
<path class="mk" style="marker:url(#m9)" d="M86.5 329.5L92.7 323.1 88.1 327.2 90.4 333.5 101.2 333.5"/>
<marker id="m10" markerUnits="userSpaceOnUse" markerWidth="5.50" markerHeight="5.50" refX="2.75" refY="2.75" overflow="visible"><circle cx="2.75" cy="2.75" r="2.3" fill="#5aa07c" stroke="#0c201c" stroke-width="0.45"/></marker>
<path class="mk" style="marker:url(#m10)" d="M117.6 359.1L111.1 379.4 122.2 378.8 101.6 344 113.9 348.6 111.7 379.8 118.1 381.7 109.5 373.9 94.4 366.9 122.4 388.8"/>
<marker id="m11" markerUnits="userSpaceOnUse" markerWidth="5.50" markerHeight="5.50" refX="2.75" refY="2.75" overflow="visible"><circle cx="2.75" cy="2.75" r="2.3" fill="#2a8fc8" stroke="#0c201c" stroke-width="0.45"/></marker>
<path class="mk" style="marker:url(#m11)" d="M99.7 360.6L99.7 360.6"/>
<marker id="m12" markerUnits="userSpaceOnUse" markerWidth="5.50" markerHeight="5.50" refX="2.75" refY="2.75" overflow="visible"><circle cx="2.75" cy="2.75" r="2.3" fill="#1fa09a" stroke="#0c201c" stroke-width="0.45"/></marker>
<path class="mk" style="marker:url(#m12)" d="M94 367.7L119.7 369.3"/>
<marker id="m13" markerUnits="userSpaceOnUse" markerWidth="5.50" markerHeight="5.50" refX="2.75" refY="2.75" overflow="visible"><circle cx="2.75" cy="2.75" r="2.3" fill="#3a9a82" stroke="#0c201c" stroke-width="0.45"/></marker>
<path class="mk" style="marker:url(#m13)" d="M87.5 368.8L99.8 338.6"/>
<marker id="m14" markerUnits="userSpaceOnUse" markerWidth="5.50" markerHeight="5.50" refX="2.75" refY="2.75" overflow="visible"><circle cx="2.75" cy="2.75" r="2.3" fill="#4a8a4a" stroke="#0c201c" stroke-width="0.45"/></marker>
<path class="mk" style="marker:url(#m14)" d="M66.2 389.4L84 386.2"/>
<marker id="m15" markerUnits="userSpaceOnUse" markerWidth="5.50" markerHeight="5.50" refX="2.75" refY="2.75" overflow="visible"><circle cx="2.75" cy="2.75" r="2.3" fill="#86c8dc" stroke="#0c201c" stroke-width="0.45"/></marker>
<path class="mk" style="marker:url(#m15)" d="M93.6 354.2L93.6 354.2"/>
<path class="mk" style="marker:url(#m7)" d="M95.8 320.3L81.9 339.7"/>
<path class="mk" style="marker:url(#m6)" d="M72.5 368.4L82.1 386.7 53.1 364.8 40 370.6 55.5 387.2 85.4 402.1 73.5 380.6"/>
<path class="mk" style="marker:url(#m2)" d="M63.8 410.6L62.5 411.5 84.3 421.3 69.8 410.9 87 422.4 66.3 424.8 73.8 418.3 91.4 409.2 64.5 423.2 95.3 394.3 85.5 416.9"/>
<path class="mk" style="marker:url(#m4)" d="M52.8 389.7L77.5 378.3 82.9 385.5 92.8 383.9"/>
<path class="mk" style="marker:url(#m3)" d="M53 407.9L49.1 407.4"/>
<path class="mk" style="marker:url(#m15)" d="M86.7 355.8L87.2 349 100 360.4"/>
<path class="mk" style="marker:url(#m9)" d="M106.4 333.6L94.8 324.1 98.1 325.8 76.6 346.4 92.7 328.3"/>
<path class="mk" style="marker:url(#m11)" d="M89 362.3L89 362.3"/>
<path class="mk" style="marker:url(#m14)" d="M82.5 383.5L82.5 383.5"/>
<path class="mk" style="marker:url(#m10)" d="M116.3 355.7L102.2 371.3 103.4 348.6 114.1 372.8 116 390.5"/>
<path class="mk" style="marker:url(#m8)" d="M118.6 413.1L109.6 427.9 113.4 404.8 123 416.4 97.4 424.6 120.9 422.8 111.8 428"/>
<path class="mk" style="marker:url(#m13)" d="M109.7 384L118.9 392.1 112.9 369.9"/>
<marker id="m16" markerUnits="userSpaceOnUse" markerWidth="5.50" markerHeight="5.50" refX="2.75" refY="2.75" overflow="visible"><circle cx="2.75" cy="2.75" r="2.3" fill="#4f9a80" stroke="#0c201c" stroke-width="0.45"/></marker>
<path class="mk" style="marker:url(#m16)" d="M119.9 403L122.5 413.9 107.6 411.4"/>
<path class="mk" style="marker:url(#m1)" d="M89.2 423.4L114.8 401.5 79.2 362.4"/>
<path class="mk" style="marker:url(#m12)" d="M99.3 375.6L119 383 100.7 385.3"/>
<path class="mk" style="marker:url(#m6)" d="M90.5 386.8L56.2 389.7 62.2 375.6 85.1 380.1 63.8 390.5 41 382.1"/>
<path class="mk" style="marker:url(#m3)" d="M53.6 415.8L34.6 405.5 38.9 409.5 35.4 386.5 57.6 408.6"/>
<path class="mk" style="marker:url(#m9)" d="M81 341.6L86.9 329.2 77.3 349.6 95.9 335.2 77.3 335.6 92.4 322.8 98.8 323.7 104.5 331.9 103.8 334.2 72.6 350.8"/>
<path class="mk" style="marker:url(#m16)" d="M122.8 419.1L122.8 419.1"/>
<marker id="m17" markerUnits="userSpaceOnUse" markerWidth="5.50" markerHeight="5.50" refX="2.75" refY="2.75" overflow="visible"><circle cx="2.75" cy="2.75" r="2.3" fill="#2a9a7a" stroke="#0c201c" stroke-width="0.45"/></marker>
<path class="mk" style="marker:url(#m17)" d="M35.4 391.3L56 419.7"/>
<path class="mk" style="marker:url(#m7)" d="M48.6 373L44.3 371.3 44.9 377.5 64.4 357.9"/>
<path class="mk" style="marker:url(#m1)" d="M109.8 394.5L78.6 362.4 62.5 407.2 124.4 398.3 89.9 409.3 105.2 399"/>
<path class="mk" style="marker:url(#m4)" d="M84.6 394.4L80.4 375.9 66.7 381.2 88.5 386.3 83.4 402.5"/>
<path class="mk" style="marker:url(#m10)" d="M120.3 372.4L101.9 366.2 115.4 364.4 113.1 353.6 120.3 370.6 116.4 357.2"/>
<path class="mk" style="marker:url(#m8)" d="M118.1 423.7L114 426.2 97.5 428.4 106.5 428"/>
<path class="mk" style="marker:url(#m13)" d="M120 383L121.4 372.2 110.2 347.3 102.6 381.5"/>
<path class="mk" style="marker:url(#m2)" d="M69.9 422.4L83.9 406.1 86.6 424.4 85.2 408.8"/>
<path class="mk" style="marker:url(#m5)" d="M79.1 427.8L79.1 427.8"/>
<path class="mk" style="marker:url(#m11)" d="M86.8 358.1L86.8 358.1"/>
<path class="mk" style="marker:url(#m14)" d="M57.3 389.2L57.3 389.2"/>
<path class="mk" style="marker:url(#m9)" d="M59.8 372L69 353 99.3 333.5 71.4 361.7 102.8 333.9"/>
<path class="mk" style="marker:url(#m4)" d="M63.6 390.2L87.4 369.2 52 392.2 85.3 400.2 75.3 366.1"/>
<path class="mk" style="marker:url(#m6)" d="M58.4 393.4L69 385.6 49.7 385.3 60.5 403.3"/>
<path class="mk" style="marker:url(#m17)" d="M50.6 403.4L43.3 409.4 48.3 405.5"/>
<path class="mk" style="marker:url(#m1)" d="M93 398.4L60.2 422.1"/>
<path class="mk" style="marker:url(#m8)" d="M101.4 424.1L111.9 408.1 124.6 404.4 119.8 412.8 102.9 428 117.8 420.8"/>
<path class="mk" style="marker:url(#m5)" d="M93.5 429.5L72.8 425.5"/>
<path class="mk" style="marker:url(#m2)" d="M84.8 404L87.6 405.9 75.5 426.7 60.9 405 125.5 394.9 115.7 400"/>
<path class="mk" style="marker:url(#m10)" d="M102.2 383.5L110.1 373.4 112.5 347.8 117.2 360.5 121.2 372.2 118.3 381.4 100.3 348 100.4 364.4"/>
<path class="mk" style="marker:url(#m13)" d="M115.5 382.8L114.3 360.6 114.1 356 97.4 365.6"/>
<path class="mk" style="marker:url(#m7)" d="M54.9 378.4L44.5 378.8 72.1 361.4 86.9 349.5"/>
<path class="mk" style="marker:url(#m3)" d="M51.9 403.8L53.5 418.6 36.8 385.4 44.5 396.2 32.3 402.7"/>
<marker id="m18" markerUnits="userSpaceOnUse" markerWidth="5.50" markerHeight="5.50" refX="2.75" refY="2.75" overflow="visible"><circle cx="2.75" cy="2.75" r="2.3" fill="#c89040" stroke="#0c201c" stroke-width="0.45"/></marker>
<path class="mk" style="marker:url(#m18)" d="M85.5 337.2L87.5 340.6"/>
<path class="mk" style="marker:url(#m16)" d="M96.1 403.2L124.2 411.2"/>
<path class="mk" style="marker:url(#m14)" d="M90.1 386.1L90.1 386.1"/>
<path class="mk" style="marker:url(#m15)" d="M87.3 361.2L87.3 361.2"/>
<path class="mk" style="marker:url(#m9)" d="M82.9 347.5L92.9 317.7 55.9 379.9 100.9 334.4"/>
<path class="mk" style="marker:url(#m2)" d="M124.4 393.7L103.7 397.1 97.5 396.4 71.1 422.2 68.3 412.5"/>
<path class="mk" style="marker:url(#m7)" d="M77.5 359.8L80.1 352.4 56.2 376.5"/>
<path class="mk" style="marker:url(#m8)" d="M126 407.3L123.8 408.5 124.6 408.2 110.7 424.6 108.7 414.7 105.6 428.3 102.4 416.3 101.3 409.8 122.6 406.7"/>
<path class="mk" style="marker:url(#m3)" d="M55 402L37 386.1 37.8 399.8 29.4 389.3 46.2 405.6 56.8 408.9"/>
<path class="mk" style="marker:url(#m6)" d="M64 382.7L59.3 388 43.9 375.2"/>
<path class="mk" style="marker:url(#m10)" d="M107.1 337.1L105.2 383.6 102.7 372.9 100.1 372.9 104.5 347.2 97.4 392.6 108 355.3"/>
<path class="mk" style="marker:url(#m12)" d="M120 392L119.7 390.3 120 368.2 95.2 379"/>
<path class="mk" style="marker:url(#m16)" d="M94.3 416.2L115.9 416.6"/>
<path class="mk" style="marker:url(#m4)" d="M91.6 375.6L74.9 370 67.1 382.6"/>
<path class="mk" style="marker:url(#m1)" d="M126 396.3L81.3 410.6 91.8 407.6 95.6 401 93.4 393.9"/>
<path class="mk" style="marker:url(#m13)" d="M119.8 388.6L99.5 372.1"/>
<path class="mk" style="marker:url(#m17)" d="M41.6 388.8L30.5 400.7"/>
<path class="mk" style="marker:url(#m14)" d="M75.5 370.7L70.4 401.8"/>
<path class="mk" style="marker:url(#m11)" d="M88.4 361.5L88.4 361.5"/>
<path class="mk" style="marker:url(#m5)" d="M121.8 395.5L121.8 395.5"/>
<path class="mk" style="marker:url(#m18)" d="M64 351.9L64 351.9"/>
<path class="mk" style="marker:url(#m18)" d="M78.1 348.8L76.7 351.6"/>
<path class="mk" style="marker:url(#m16)" d="M121.2 416.5L115.6 411.5 106.2 422.7"/>
<path class="mk" style="marker:url(#m10)" d="M98.6 369L123 387.6 106.6 369.5 98.9 365.6 103.2 391.3 109.5 372 107.7 365.9 116.8 370.1 111.6 373.1"/>
<path class="mk" style="marker:url(#m4)" d="M88.1 396.4L62.1 384.1 86.7 372.1 89.9 388 70.9 391.6 74.1 396.7"/>
<path class="mk" style="marker:url(#m14)" d="M80.3 387L64.6 375.1 71.8 392.9 79 384.8"/>
<path class="mk" style="marker:url(#m5)" d="M92.3 423.1L90.5 423.4"/>
<path class="mk" style="marker:url(#m13)" d="M102.9 343.8L102.9 343.8"/>
<path class="mk" style="marker:url(#m8)" d="M107.4 428.5L108.4 409.7 116.2 418.7 105.8 425.2"/>
<path class="mk" style="marker:url(#m3)" d="M32.6 402.1L51.4 394.9 36.4 399 31.2 395.9"/>
<path class="mk" style="marker:url(#m2)" d="M93.7 417.5L125.2 397.7 79.8 427.1 70.9 417.2 91.4 425.8 125.5 397.8 72.3 416.9 105.1 394.8"/>
<path class="mk" style="marker:url(#m7)" d="M38.1 373.8L82.5 354.3 96.6 335.6 80.1 337"/>
<path class="mk" style="marker:url(#m6)" d="M61.3 391.9L64.4 360.8 56.7 397.6 82.4 370.4 79.5 399.8 73.7 386.2"/>
<path class="mk" style="marker:url(#m12)" d="M95 342.9L95 342.9"/>
<path class="mk" style="marker:url(#m1)" d="M75.8 426.7L75.8 426.7"/>
<path class="mk" style="marker:url(#m17)" d="M26.9 395.4L26.9 395.4"/>
<path class="mk" style="marker:url(#m11)" d="M91.7 356.7L91.7 356.7"/>
<path class="mk" style="marker:url(#m9)" d="M96.1 320.6L57.2 375"/>
<path class="mk" style="marker:url(#m15)" d="M91.9 345.9L91.9 345.9"/>
<path class="mk" style="marker:url(#m10)" d="M92.2 365.9L109.1 384.9 100.7 381.7 94.7 391.6 112.6 368.8 106.7 367.4"/>
<path class="mk" style="marker:url(#m6)" d="M56.9 377.6L89.1 389.9 80.4 357.5 70.7 376.7 68.4 359.4 88.1 374.7 72.5 402.7 80.3 356.3 80 349.2 82.4 365.9 56 393.6 52.1 365.6"/>
<path class="mk" style="marker:url(#m2)" d="M123.5 393.4L86.7 420.5 85.5 404.2 87 404.7"/>
<path class="mk" style="marker:url(#m8)" d="M100.9 421.1L123.8 403.8 121.4 417.1 116.4 422.3"/>
<path class="mk" style="marker:url(#m15)" d="M95 365.3L91.1 360.7"/>
<path class="mk" style="marker:url(#m5)" d="M76.7 422.7L76.7 422.7"/>
<path class="mk" style="marker:url(#m3)" d="M47 415.5L25.9 389.9 45.5 391.4 55.1 410.4 34.3 387 43.1 412.1 48.6 387.2 53.1 398.5 56.5 401.9 36.7 394.1"/>
<path class="mk" style="marker:url(#m16)" d="M100.8 420.7L100.8 420.7"/>
<path class="mk" style="marker:url(#m14)" d="M89.8 391L73 395.9 62.9 395.8"/>
<path class="mk" style="marker:url(#m9)" d="M96.2 323.8L91.4 325.3 63.8 389.4"/>
<path class="mk" style="marker:url(#m7)" d="M53 383L52.1 363.4 89.2 326.9 60.7 372.9"/>
<path class="mk" style="marker:url(#m13)" d="M104.9 335.4L110 385.6 99.2 364.5"/>
<path class="mk" style="marker:url(#m12)" d="M105.2 369.3L105.2 369.3"/>
<path class="mk" style="marker:url(#m4)" d="M87.4 397.8L71.6 396.1 87.5 391.1"/>
<path class="mk" style="marker:url(#m11)" d="M87.2 363.2L93 349.5"/>
<path class="mk" style="marker:url(#m17)" d="M28.9 391.5L28.9 391.5"/>
<path class="mk" style="marker:url(#m15)" d="M98.3 350.4L93.5 365.4 82.8 355.7"/>
<path class="mk" style="marker:url(#m6)" d="M80.7 352.3L90.1 382.1 73.7 402 89 388 44.5 382.1 66 379.1"/>
<path class="mk" style="marker:url(#m7)" d="M55.5 362L38.3 376.1 65.2 355.9 74.3 357.6 51.3 361.3 50.9 372.8 61.3 361"/>
<path class="mk" style="marker:url(#m3)" d="M37.1 388.8L55.8 400.6 57.8 420.5"/>
<path class="mk" style="marker:url(#m14)" d="M83.7 385.4L77 371.5"/>
<path class="mk" style="marker:url(#m1)" d="M87.9 414.3L82.5 423.3 126.2 401.9"/>
<path class="mk" style="marker:url(#m8)" d="M95.3 430.4L115 426 95.9 423.2 106.1 429.4"/>
<path class="mk" style="marker:url(#m10)" d="M97 368.9L105.3 351.8 114.9 383 102.9 373.4 115 352.5 124 386.9 112.4 389.8 108.3 368.8 107.2 351.5 115.9 379.4"/>
<path class="mk" style="marker:url(#m9)" d="M90.2 336.1L106.5 334 70.4 345.9 71.3 347.2 93.9 331.4 79.6 382"/>
<path class="mk" style="marker:url(#m4)" d="M61.7 398.2L81 386.1 59.2 397.5 66.7 377.6"/>
<path class="mk" style="marker:url(#m11)" d="M95 348.6L100.2 349.8"/>
<path class="mk" style="marker:url(#m13)" d="M104 356.8L99.1 342.8"/>
<path class="mk" style="marker:url(#m2)" d="M110.6 393.8L71.4 418 74.1 425.8"/>
<path class="mk" style="marker:url(#m16)" d="M124.1 413.3L109 429.3"/>
<path class="mk" style="marker:url(#m18)" d="M68.3 350.8L68.3 350.8"/>
<path class="mk" style="marker:url(#m12)" d="M102.7 354.4L102.7 354.4"/>
<path class="mk" style="marker:url(#m5)" d="M80 427.4L80 427.4"/>
<path class="mk" style="marker:url(#m4)" d="M79.2 390.6L80.5 370 77.5 390.4 73.9 364.6 80.6 395.8 70.8 377.5"/>
<path class="mk" style="marker:url(#m9)" d="M85.9 338.1L73.7 355.2 104 330.4 96.1 323.7 107.3 335.2 60.1 357.4"/>
<path class="mk" style="marker:url(#m6)" d="M69.9 363.7L60 375.8 66 387.6"/>
<path class="mk" style="marker:url(#m3)" d="M29 397.9L30.6 386.5 42 404.8"/>
<path class="mk" style="marker:url(#m14)" d="M62 383.9L62 383.9"/>
<path class="mk" style="marker:url(#m7)" d="M79.4 337.7L70.8 366.9 46.8 364.4 70 357.7 49.6 366.2 58.8 377.5 59.3 364.4"/>
<path class="mk" style="marker:url(#m2)" d="M96.3 395.5L88.1 420 75.2 426.4 103.8 400.8 110 398 90.5 426.3 119.4 395.5 81.2 426.1 67.4 424.3 124.3 401.4"/>
<path class="mk" style="marker:url(#m8)" d="M113.5 426.4L118.1 412.5 95.7 416.1"/>
<path class="mk" style="marker:url(#m5)" d="M102.7 398.8L125.1 396.7"/>
<path class="mk" style="marker:url(#m17)" d="M57.1 414.7L32.5 392.4"/>
<path class="mk" style="marker:url(#m1)" d="M96.9 400.8L76 420.5"/>
<path class="mk" style="marker:url(#m13)" d="M99.9 378.3L102.5 386.3 102.2 383.5 118.1 365.3"/>
<path class="mk" style="marker:url(#m10)" d="M95.1 342.6L118.4 387.2 118.2 389.4 89.6 337.3 110.6 374 109 381.6 104.5 382.1"/>
<path class="mk" style="marker:url(#m15)" d="M89.3 357L83.3 355.7 102.2 356.7"/>
<path class="mk" style="marker:url(#m16)" d="M95.8 403.5L95.8 403.5"/>
<path class="mk" style="marker:url(#m13)" d="M96.9 390L116.7 371.1 113.3 390.3 105.9 391.9 111 382.9 102.9 392.1"/>
<path class="mk" style="marker:url(#m1)" d="M83.9 404.4L74.5 415.4 86.1 422.4"/>
<path class="mk" style="marker:url(#m5)" d="M100.9 400.8L72 425.2"/>
<path class="mk" style="marker:url(#m11)" d="M102.3 351.6L102.3 351.6"/>
<path class="mk" style="marker:url(#m10)" d="M106 355L110.4 372.4 108.7 350.4 99.3 367.7 101.9 360 121.3 386 113.4 367.3"/>
<path class="mk" style="marker:url(#m7)" d="M82.3 339.5L48.3 378.2"/>
<path class="mk" style="marker:url(#m6)" d="M88.6 378.8L82.4 370.9 32.9 378.6 89.9 373.7"/>
<path class="mk" style="marker:url(#m14)" d="M80.3 399L73.2 398.1 71.1 392.7 67.5 395.7 80.3 365.4 84 379.9"/>
<path class="mk" style="marker:url(#m2)" d="M90.1 423L78.2 406.3 94.1 410.2 77.2 422.4 95.1 401 118 393.4 77.3 360.6"/>
<path class="mk" style="marker:url(#m8)" d="M125.4 407.4L95.2 403.4 96 427.2 119 413.2 106.9 427.9"/>
<path class="mk" style="marker:url(#m4)" d="M58.1 396.1L53.7 392.7"/>
<path class="mk" style="marker:url(#m9)" d="M87.9 333.1L78.4 348.5 76.7 382.8 104 334.1"/>
<path class="mk" style="marker:url(#m17)" d="M49 416.5L43.4 403.7 37 383.9 41.5 412.3"/>
<path class="mk" style="marker:url(#m15)" d="M90.3 360.8L90.3 360.8"/>
<path class="mk" style="marker:url(#m3)" d="M35.6 406L55.2 410.8 31.2 386.7 50.1 406.2"/>
<path class="mk" style="marker:url(#m16)" d="M108.9 422.1L109.7 404.3"/>
<path class="mk" style="marker:url(#m8)" d="M99.5 402.6L106.2 429.5"/>
<path class="mk" style="marker:url(#m3)" d="M49.9 395.7L27.5 394.6 41.7 390.1 55.4 419 45.6 400.3 33.3 404 32.7 394.9"/>
<path class="mk" style="marker:url(#m4)" d="M89.2 389.9L83.9 386.6 63.6 402.9 59.6 389.5"/>
<path class="mk" style="marker:url(#m9)" d="M93.6 335.1L44.8 373.9 99.6 331.4 98.4 336.1 51.5 380.1 88.8 330.5"/>
<path class="mk" style="marker:url(#m16)" d="M121.2 404L112.3 404.6 94.5 404.1"/>
<path class="mk" style="marker:url(#m10)" d="M99.6 364.1L92.5 373 107.5 367.2 95.7 375.7 102.7 358 116.1 375.7 117.1 369.9 116 366.4 108.9 343.7 123.4 392.1 108.6 344.3"/>
<path class="mk" style="marker:url(#m6)" d="M62.2 388.2L73.4 358.8 80.2 393.4 62.8 371.9 74.8 364.4 76.9 388.5"/>
<path class="mk" style="marker:url(#m7)" d="M53 369.3L85.4 347.8 62.4 378.4 58.7 360.7"/>
<path class="mk" style="marker:url(#m5)" d="M82.6 420L82.6 420"/>
<path class="mk" style="marker:url(#m1)" d="M92 395.7L76.1 417.3"/>
<path class="mk" style="marker:url(#m2)" d="M70.6 425.5L80.9 412.4 87.5 405.9 84.1 415.1 92.6 424.6 103.5 399.1 121.8 401.4 95.2 399.9"/>
<path class="mk" style="marker:url(#m15)" d="M88.4 358.5L95.2 353 96.5 358.7"/>
<path class="mk" style="marker:url(#m11)" d="M83.3 355.7L83.3 355.7"/>
<path class="mk" style="marker:url(#m17)" d="M27.9 396.8L27.9 396.8"/>
<path class="mk" style="marker:url(#m14)" d="M81.9 390L81.9 390"/>
<path class="mk" style="marker:url(#m9)" d="M72.6 349L65.4 352.3 97.7 326.5 75.5 341.1 87.4 334.3 72.1 355.2 70.7 360.8 99.2 337.8 95.5 321.9 39.3 374.6 79.3 372.6"/>
<path class="mk" style="marker:url(#m8)" d="M99.9 410.3L98.7 430.2 104.4 412.1 101.1 403.5 126 404.2"/>
<path class="mk" style="marker:url(#m6)" d="M49.6 385L84.1 380.6 84.3 383.9 59.8 358.5 91.7 384.2 77.8 399.2 86.2 386.8"/>
<path class="mk" style="marker:url(#m12)" d="M102 376.8L111.3 391.1 105.8 370.6"/>
<path class="mk" style="marker:url(#m1)" d="M88.2 411.5L88.2 411.5"/>
<path class="mk" style="marker:url(#m14)" d="M74.7 385L61.8 398"/>
<path class="mk" style="marker:url(#m4)" d="M70 404.4L86.4 392.6 78.3 370.3"/>
<path class="mk" style="marker:url(#m13)" d="M107.6 391.1L115.4 372.8 107 347.8 110.1 384.4 116.1 392.5 119.7 382 97.3 388 103 384.6"/>
<path class="mk" style="marker:url(#m2)" d="M125.3 398.3L92.7 409.4 125.4 396.1 78.2 421.8 79.4 424.2 76.3 419.6"/>
<path class="mk" style="marker:url(#m15)" d="M96.3 344.5L100.7 356.7 99.3 351.5 97 362.7"/>
<path class="mk" style="marker:url(#m10)" d="M120.3 386.8L113.3 361.4"/>
<path class="mk" style="marker:url(#m5)" d="M80.9 411.4L118 401"/>
<path class="mk" style="marker:url(#m17)" d="M42 406L53.5 406.7 44.1 411.6"/>
<path class="mk" style="marker:url(#m16)" d="M95.1 427.9L95.1 427.9"/>
<path class="mk" style="marker:url(#m7)" d="M56.2 358.3L56.2 358.3"/>
<path class="mk" style="marker:url(#m3)" d="M27.6 389.2L27.6 389.2"/>
<path class="mk" style="marker:url(#m7)" d="M74.3 340L39.2 382.7 88.3 342.2 69.9 351.5 61.8 354.1 66.8 370.6 51.6 369.8 55 362.4 65.5 361.6 84.7 331.6"/>
<path class="mk" style="marker:url(#m10)" d="M97.5 379.3L95.9 390.6 102.1 386.9 111.6 388.2"/>
<path class="mk" style="marker:url(#m4)" d="M87.1 385.2L88.6 388.9 68 388.8 66.5 378.6"/>
<path class="mk" style="marker:url(#m6)" d="M50.7 388.5L75.1 382.5 53.3 386.9 66 376.8"/>
<path class="mk" style="marker:url(#m3)" d="M53.2 402.9L35.5 386.7 45.8 404.4 52 410.4 48.9 412.3 26.9 394.5 50.8 416.6 45.1 393.3 40.3 403.5 30.3 397.4 38.1 404.4 36.5 390.9"/>
<path class="mk" style="marker:url(#m8)" d="M113.8 417.1L123.8 415.9 117.7 424.1 103.8 417.9 94.3 404.8"/>
<path class="mk" style="marker:url(#m15)" d="M99.2 348.6L99.2 348.6"/>
<path class="mk" style="marker:url(#m1)" d="M63.3 410.5L107.3 398 93.6 421.2 73.6 409"/>
<path class="mk" style="marker:url(#m2)" d="M92.4 404.4L87.1 429.5 83.9 428.3 124.3 397.2 91.6 410.9 60.2 404 79 428.3"/>
<path class="mk" style="marker:url(#m16)" d="M121.8 416.5L103 415.2 100.1 419.7"/>
<path class="mk" style="marker:url(#m9)" d="M80.3 353.7L74.6 341.4"/>
<path class="mk" style="marker:url(#m11)" d="M95.8 348.4L95.8 348.4"/>
<path class="mk" style="marker:url(#m14)" d="M83.2 377L83.2 377"/>
<path class="mk" style="marker:url(#m12)" d="M94 366.6L94 366.6"/>
<path class="mk" style="marker:url(#m17)" d="M51.3 415.8L51.3 415.8"/>
<path class="mk" style="marker:url(#m2)" d="M91.7 404.2L89.2 428 76.5 410.3 120.7 396.8 120.3 396.3 93.7 394.8"/>
<path class="mk" style="marker:url(#m17)" d="M53.6 402.7L37.1 405 58.5 402.8"/>
<path class="mk" style="marker:url(#m7)" d="M40.5 380.3L64.7 365.8 42.3 377 85.8 336.8 54 363.1 71.9 371.4"/>
<path class="mk" style="marker:url(#m1)" d="M115.7 394.6L115.7 394.6"/>
<path class="mk" style="marker:url(#m12)" d="M104.3 384.2L94.9 365.3"/>
<path class="mk" style="marker:url(#m5)" d="M84.7 428.6L60.7 421.9"/>
<path class="mk" style="marker:url(#m6)" d="M60.8 361.4L80.7 355.1 51.2 370.2 69.3 387.9 35.7 379.8 60.5 403.5"/>
<path class="mk" style="marker:url(#m8)" d="M121.9 408.3L118.8 423.6 111 407 120.9 407.9 105.4 405.8"/>
<path class="mk" style="marker:url(#m13)" d="M117.5 387.9L96.5 382.5"/>
<path class="mk" style="marker:url(#m10)" d="M94 389.1L119.5 371.8 110.4 347.8 108.8 362.2"/>
<path class="mk" style="marker:url(#m9)" d="M78.6 343.5L85.3 329 103.8 329.6 83.3 327.4 77.2 355.2 71.9 344.7 68.9 348 87.1 343.4"/>
<path class="mk" style="marker:url(#m16)" d="M106 415.8L106.7 412.6"/>
<path class="mk" style="marker:url(#m4)" d="M85.9 373.5L86.3 375 52.5 385.7 60.1 396.6 86.7 379.6"/>
<path class="mk" style="marker:url(#m15)" d="M97.8 359.5L97.8 359.5"/>
<path class="mk" style="marker:url(#m3)" d="M53.9 406.8L50.1 416.2 38.8 408.2 31.7 392.7 30.6 387.4 48.2 387.9"/>
<path class="mk" style="marker:url(#m18)" d="M82.6 341.9L82.6 341.9"/>
<path class="mk" style="marker:url(#m6)" d="M75.3 364.9L66.5 378.6 68.4 392.2 67.2 364.7 70.3 391.5 79.7 384.7 61.3 394.9"/>
<path class="mk" style="marker:url(#m1)" d="M87.4 429.6L88.2 409.1 71.7 418.1 80.8 426.9"/>
<path class="mk" style="marker:url(#m3)" d="M34.9 404.4L28.7 386.8 40.6 393.4 34.4 402.4 39.1 399.6 29.9 387.7"/>
<path class="mk" style="marker:url(#m8)" d="M98.7 421.8L109.8 426.8 95.4 415.9 113.5 422.3"/>
<path class="mk" style="marker:url(#m15)" d="M96.6 357.8L90.1 354.2 99.1 362.2"/>
<path class="mk" style="marker:url(#m10)" d="M110 380.7L104.9 390.1 108.5 358.5 96.6 389.8 96 342.6 123.7 392.7 100.6 364"/>
<path class="mk" style="marker:url(#m2)" d="M76.4 420.1L89.4 406.9 89.4 415.3 81.2 427 74.5 411.2 59.1 406.8 78 419"/>
<path class="mk" style="marker:url(#m7)" d="M53.5 362.8L69.8 371.8 62.6 374 83.5 353.3 54 379.4"/>
<path class="mk" style="marker:url(#m9)" d="M95.4 319.8L91.6 317.8 61.8 365"/>
<path class="mk" style="marker:url(#m4)" d="M71.3 397.5L85.3 391.6 54 388.4 80.4 377"/>
<path class="mk" style="marker:url(#m12)" d="M110.1 375.9L94 377.5 108.2 372.8 107.7 375.3"/>
<path class="mk" style="marker:url(#m13)" d="M112.9 346.8L112.9 346.8"/>
<path class="mk" style="marker:url(#m18)" d="M62.3 351.6L62.3 351.6"/>
<path class="mk" style="marker:url(#m14)" d="M71.8 369.4L61.4 387.5"/>
<path class="mk" style="marker:url(#m11)" d="M86.5 352L86.5 352"/>
<path class="mk" style="marker:url(#m5)" d="M78.4 424.1L78.4 424.1"/>
<path class="mk" style="marker:url(#m7)" d="M64 362.7L49.2 364.2 58.4 360 50.9 372 89.8 331.5 65.5 356.4"/>
<path class="mk" style="marker:url(#m16)" d="M125.7 407.5L125.7 407.5"/>
<path class="mk" style="marker:url(#m8)" d="M113.8 425.7L111.5 414.9 124.7 409.8 100.2 411.8 110.5 421.5 95.3 407.8"/>
<path class="mk" style="marker:url(#m9)" d="M86.4 337.6L63.7 353 110 339.7 100.4 325.4 99.7 335.4 95.6 330.4"/>
<path class="mk" style="marker:url(#m13)" d="M108.2 365.8L105.7 343.8 111 386.3"/>
<path class="mk" style="marker:url(#m2)" d="M85.2 414.4L90 415.3 116 393.5 87.7 408.6 110.1 401.9 69.8 417.9 88 407.6 89.8 412.9"/>
<path class="mk" style="marker:url(#m15)" d="M90 362.6L95.7 349.3 89.9 343.1 90.2 357.3"/>
<path class="mk" style="marker:url(#m3)" d="M50.6 399.4L38 401.2 36.3 405.5 48 397.3"/>
<path class="mk" style="marker:url(#m14)" d="M54.5 387.8L76.9 384.8"/>
<path class="mk" style="marker:url(#m6)" d="M73 386.9L81.3 388.7 48.7 368.3 74.8 382.8 81.4 356.5 69.5 371.3"/>
<path class="mk" style="marker:url(#m10)" d="M114.9 350.5L105.3 385 96.3 387.3 113.4 380.4 107.4 378.3"/>
<path class="mk" style="marker:url(#m11)" d="M94 361.9L94 361.9"/>
<path class="mk" style="marker:url(#m4)" d="M62.4 384.4L91.1 389.5 87.4 384.1 83.4 372"/>
<path class="mk" style="marker:url(#m5)" d="M93.6 396.4L98.9 397.8"/>
<path class="mk" style="marker:url(#m12)" d="M104.4 346.2L104.4 346.2"/>
<path class="mk" style="marker:url(#m1)" d="M80.5 407L80.5 407"/>
<path class="mk" style="marker:url(#m10)" d="M95.5 367.4L117 385.5 94.4 388.1 100.7 388.5 96.3 386.9 106 362.7 110.4 383.4 113.1 365.3 110 357.5 104.1 353.4 98.6 383.5"/>
<path class="mk" style="marker:url(#m3)" d="M40.7 397.3L57.4 415.4 30 400 35.7 403.2 36.3 399.1 56.7 420.9 45.4 397.5"/>
<path class="mk" style="marker:url(#m8)" d="M122.1 417.2L107.5 414 113.6 414.8 99.3 426"/>
<path class="mk" style="marker:url(#m2)" d="M89.7 412.8L66.2 409.8 106.7 399.2 76.5 408.6 58.7 405.6 85.2 411.2 115.1 399.5 83.9 421.5"/>
<path class="mk" style="marker:url(#m5)" d="M94 393.3L76.9 417.3"/>
<path class="mk" style="marker:url(#m9)" d="M78.8 340.7L106 334 95.9 337.8 72.7 343.5 95.9 322.4 71.4 349.8"/>
<path class="mk" style="marker:url(#m6)" d="M59.3 396.3L83.1 387.6 39.1 378.4 58.4 395.9"/>
<path class="mk" style="marker:url(#m16)" d="M108.4 428.4L124.9 413.6 96.1 420"/>
<path class="mk" style="marker:url(#m12)" d="M109.3 389.3L113 373 92 340.7"/>
<path class="mk" style="marker:url(#m1)" d="M76 421.7L61.1 406.2"/>
<path class="mk" style="marker:url(#m14)" d="M63 400.4L87.4 372.3 84.3 400.1"/>
<path class="mk" style="marker:url(#m13)" d="M89.8 342.6L96.2 343.2 98.2 387.6"/>
<path class="mk" style="marker:url(#m7)" d="M47.2 370L47.2 370"/>
<path class="mk" style="marker:url(#m17)" d="M56.4 416.1L56.4 416.1"/>
<path class="mk" style="marker:url(#m4)" d="M83.7 398.8L83.7 398.8"/>
<path class="mk" style="marker:url(#m15)" d="M94.3 362.2L94.3 362.2"/>
<path class="mk" style="marker:url(#m10)" d="M110.1 375.8L121.2 374.3 109.7 392 112 385.1 113 357.4 110 391 109 359.8 100 387.6"/>
<path class="mk" style="marker:url(#m2)" d="M79.4 415.6L85.7 424.7 82.5 421.9 103.2 396.6 77.2 409.3 88 407.3 75.4 406.9 99.4 399.7"/>
<path class="mk" style="marker:url(#m14)" d="M84.2 400.8L86.8 400.2 69.5 405.5 69.7 392 60.5 396.9"/>
<path class="mk" style="marker:url(#m3)" d="M33.6 404.6L36.5 386.6"/>
<path class="mk" style="marker:url(#m8)" d="M106.5 407.4L103.2 404.7 105.6 429.8"/>
<path class="mk" style="marker:url(#m7)" d="M54.9 370.2L71.4 368 42.7 377.9 55 369.3 51.8 364.4 67.2 371.8 69.4 357.1"/>
<path class="mk" style="marker:url(#m9)" d="M105.9 336.4L64.7 354.3 89 327.7 77 343.6 73.2 344.4 79.8 348.2 79.8 340.4"/>
<path class="mk" style="marker:url(#m12)" d="M99 374.5L105.2 344.7"/>
<path class="mk" style="marker:url(#m1)" d="M101.8 396.4L105.4 393.6"/>
<path class="mk" style="marker:url(#m15)" d="M92.7 345.9L92.7 345.9"/>
<path class="mk" style="marker:url(#m13)" d="M119 387.3L111.4 350.4 92.6 366 119.1 370.4"/>
<path class="mk" style="marker:url(#m4)" d="M78.4 403.2L82.6 378.8 88.3 382.7"/>
<path class="mk" style="marker:url(#m6)" d="M75.7 363.3L74.1 368.5 67 374.9 86.4 352.4 71.6 391.9 60.9 372"/>
<path class="mk" style="marker:url(#m16)" d="M123.1 414.8L123.1 414.8"/>
<path class="mk" style="marker:url(#m17)" d="M55.3 400.9L55.3 400.9"/>
<path class="mk" style="marker:url(#m10)" d="M104.7 384.7L95 370.1 103 371.3 95.9 387.2 90.6 367.1 94.9 381.1 99.7 366.7 116.7 391.5"/>
<path class="mk" style="marker:url(#m3)" d="M36.1 406.3L27.5 393.9 30.9 388.7 39.1 410.2 31.9 394.8"/>
<path class="mk" style="marker:url(#m4)" d="M62.9 383.3L74.9 377.7"/>
<path class="mk" style="marker:url(#m13)" d="M102.6 362.2L114.9 370.9 110 384.8 103 385.8"/>
<path class="mk" style="marker:url(#m7)" d="M37.9 382.4L44.2 378.8 76.6 341.7 62.3 372.5"/>
<path class="mk" style="marker:url(#m6)" d="M89.8 382.2L48.2 380.5 47.8 366.8 72.6 377 86.8 375.2"/>
<path class="mk" style="marker:url(#m9)" d="M49.2 368L85.5 330 87.7 332.7 74.9 342.1 98.8 329.1 99.1 336.8"/>
<path class="mk" style="marker:url(#m15)" d="M85.2 361.7L85.2 361.7"/>
<path class="mk" style="marker:url(#m2)" d="M88.6 414.6L112.2 397.9 74.5 425.3 60.4 413.9 88.2 402.4 70.6 410.5 69.7 422.5"/>
<path class="mk" style="marker:url(#m1)" d="M77.3 408.8L109.3 398.7"/>
<path class="mk" style="marker:url(#m8)" d="M107.7 419.8L100.1 416.7 120.4 405 108.3 427.2 100.9 418.8 123.9 414.2 101.4 403.2"/>
<path class="mk" style="marker:url(#m14)" d="M68.6 393.2L59.8 385.7 53.3 384.7"/>
<path class="mk" style="marker:url(#m5)" d="M93.5 396.6L93.5 396.6"/>
<path class="mk" style="marker:url(#m16)" d="M117.1 413.2L111.4 408.9"/>
<path class="mk" style="marker:url(#m11)" d="M86 360L86 360"/>
<path class="mk" style="marker:url(#m18)" d="M73.3 355.6L73.3 355.6"/>
<path class="mk" style="marker:url(#m17)" d="M33 389.4L33 389.4"/>
<path class="mk" style="marker:url(#m16)" d="M95.9 402.7L113.7 403.4 106.7 424"/>
<path class="mk" style="marker:url(#m6)" d="M47 367.9L66.4 364.1 88.4 390.6 86.2 385.3"/>
<path class="mk" style="marker:url(#m10)" d="M98.1 374L115.9 363.1 104.2 390.3 109.1 348.7 99.4 389.5 112.4 344.8 101.3 345.7"/>
<path class="mk" style="marker:url(#m11)" d="M88.4 361L88.4 361"/>
<path class="mk" style="marker:url(#m17)" d="M39.3 402.8L49.2 415.7"/>
<path class="mk" style="marker:url(#m2)" d="M94.2 405.5L122.3 395.8 96.5 399.6 124 394 89.6 423.6 116.1 397.4 86.8 424.4 80 417.5 59.7 405.9 105.1 396.5 87.4 421.4 90.7 408.8"/>
<path class="mk" style="marker:url(#m13)" d="M98.8 363.8L113.2 376.9 113.3 371.9 110.8 384.4"/>
<path class="mk" style="marker:url(#m15)" d="M98.8 356.9L84 359 93 349"/>
<path class="mk" style="marker:url(#m1)" d="M86.4 408.7L90.4 411.3 91.3 422 90.2 402"/>
<path class="mk" style="marker:url(#m5)" d="M63.5 422.5L63.5 422.5"/>
<path class="mk" style="marker:url(#m9)" d="M72.4 350.4L89.3 332.1 85 332.7 85.1 326 94.5 321.9"/>
<path class="mk" style="marker:url(#m12)" d="M116.7 371.9L104.6 361.7"/>
<path class="mk" style="marker:url(#m8)" d="M94.6 405.7L115.3 426.2 103.3 426.7 99.9 412.2"/>
<path class="mk" style="marker:url(#m7)" d="M47.6 363.6L67.8 360.6 89.3 338.1 87.6 329.5 50.4 375.6"/>
<path class="mk" style="marker:url(#m4)" d="M75.3 405L75.3 405"/>
<path class="mk" style="marker:url(#m3)" d="M36.8 402.7L49.2 406.2"/>
<path class="mk" style="marker:url(#m7)" d="M85.4 347.8L49.6 378 64.7 366.8"/>
<path class="mk" style="marker:url(#m2)" d="M114.2 400.6L72.9 416 89.7 416.4 112.4 400.3 84 427.8 64 423.3 120.7 395.7"/>
<path class="mk" style="marker:url(#m8)" d="M107.8 412.9L101 407.8 99.8 410.9 106.9 417.7 116 424.7 115.6 403.6 103.8 424.4"/>
<path class="mk" style="marker:url(#m16)" d="M108.5 428.8L105.4 423.8 117.3 423.7 113.2 414 118.2 422.7"/>
<path class="mk" style="marker:url(#m17)" d="M52.6 412.7L43.9 387.5"/>
<path class="mk" style="marker:url(#m13)" d="M110.1 352.5L106 389.7 123 384.6 114.5 351.1 115.9 358.1"/>
<path class="mk" style="marker:url(#m11)" d="M94.8 355.6L85.1 354.8"/>
<path class="mk" style="marker:url(#m10)" d="M103.8 375.5L113.9 375.5 103.2 356.4 108.7 344.3 106.9 382.9"/>
<path class="mk" style="marker:url(#m6)" d="M61.3 396.2L86.9 373 67.2 357.4 62.3 394.4 50.7 384.3 65.9 380.7 80.6 377.6"/>
<path class="mk" style="marker:url(#m3)" d="M42.7 391.5L52.8 407.2 47.2 398.6 39.5 395.5 51.2 405 41.8 406"/>
<path class="mk" style="marker:url(#m9)" d="M97 321.9L82.4 330.3"/>
<path class="mk" style="marker:url(#m4)" d="M61.3 394.1L74.8 367.1 87.3 394.3"/>
<path class="mk" style="marker:url(#m5)" d="M77.8 411.3L77.8 411.3"/>
<path class="mk" style="marker:url(#m1)" d="M121.4 399.8L121.4 399.8"/>
<path class="mk" style="marker:url(#m15)" d="M87 356.8L87.3 357.8 91.4 361.1"/>
<path class="mk" style="marker:url(#m12)" d="M115.1 354.1L115.1 354.1"/>
<path class="mk" style="marker:url(#m3)" d="M32.3 386.1L57.1 415.4 58 415.6 56 406.5 56.4 413.9 40.1 389.9"/>
<path class="mk" style="marker:url(#m4)" d="M74.6 382L61.4 385.9 88.9 390.9 75.5 397.3 83.2 393.9 52.4 394.8 68 402.9 85.3 369.7 78.9 394 90.8 392.9"/>
<path class="mk" style="marker:url(#m9)" d="M96.6 324.8L94.4 326.3 83.7 330.3 86.7 342"/>
<path class="mk" style="marker:url(#m11)" d="M99.6 351.7L99.6 351.7"/>
<path class="mk" style="marker:url(#m10)" d="M106.6 372.3L105.3 370.5 97.8 364.9 104 385.2"/>
<path class="mk" style="marker:url(#m7)" d="M89.3 335.5L49.7 367.7"/>
<path class="mk" style="marker:url(#m13)" d="M108.7 374.4L107.5 351.1 120.1 376.6 109 338.3"/>
<path class="mk" style="marker:url(#m1)" d="M61.9 413L69 413.3 93.4 430"/>
<path class="mk" style="marker:url(#m6)" d="M74.2 374.1L59.3 400.7 54.4 382 53.9 387.1 72.5 397.6"/>
<path class="mk" style="marker:url(#m5)" d="M124.1 397.9L88.9 419.4"/>
<path class="mk" style="marker:url(#m12)" d="M101.9 381.2L115.6 365.8 108.3 353.8 91 338.1"/>
<path class="mk" style="marker:url(#m17)" d="M29.6 399.2L31.4 390.8"/>
<path class="mk" style="marker:url(#m8)" d="M99.4 422.1L120.5 403.5 100.5 406.3 111.5 423.1"/>
<path class="mk" style="marker:url(#m16)" d="M97.2 426L110.8 429"/>
<path class="mk" style="marker:url(#m2)" d="M92.3 407.6L90.5 405.3 94.8 394.7 91.3 420.3 99.1 401.2"/>
<path class="mk" style="marker:url(#m14)" d="M86.2 389L86.2 389"/>
<path class="mk" style="marker:url(#m15)" d="M96.8 363.3L96.8 363.3"/>
<path class="mk" style="marker:url(#m2)" d="M92.1 395.2L85.1 426 72.2 415.9 122.1 396.2 75.4 426.9 76.8 423.3 94.9 396.2 125.6 399.5 87.3 418.4 70.4 407.8 90.9 398.6 66.1 415.3 98.7 399.8"/>
<path class="mk" style="marker:url(#m18)" d="M78 347.3L78 347.3"/>
<path class="mk" style="marker:url(#m8)" d="M111.5 426.9L111.5 426.9"/>
<path class="mk" style="marker:url(#m9)" d="M98.1 323.3L76.9 338.3 32.6 381.4 107.6 336.9 95.1 336.4 89.3 320.9"/>
<path class="mk" style="marker:url(#m13)" d="M96.1 339.1L107.8 352.9 120.3 385.1 100.8 368.8"/>
<path class="mk" style="marker:url(#m7)" d="M37.7 375L77.6 358 45.8 369.8 67.4 367.6 60.2 365.1 54.7 366"/>
<path class="mk" style="marker:url(#m3)" d="M38.8 396.6L28.7 390.1 45.8 412.5 54.9 412.4 50.5 417.5 53.1 406.9"/>
<path class="mk" style="marker:url(#m6)" d="M60.5 388.8L89.7 374 53.9 398 73.6 388.1 69.6 355.8 83.8 382.6"/>
<path class="mk" style="marker:url(#m15)" d="M90.6 358.5L101.7 355.5"/>
<path class="mk" style="marker:url(#m10)" d="M118 370.6L111.7 349.6 117.8 389.9 102.3 391.1 110.4 359.8 103.3 371.7"/>
<path class="mk" style="marker:url(#m14)" d="M83.7 399.7L83.7 399.7"/>
<path class="mk" style="marker:url(#m4)" d="M79 397.7L79 397.7"/>
<path class="mk" style="marker:url(#m1)" d="M94.2 405.5L89.6 399.9 85.3 412 72.6 419.2"/>
<path class="mk" style="marker:url(#m5)" d="M62.7 406.2L91 410.1"/>
<path class="mk" style="marker:url(#m12)" d="M114.1 386L114.1 386"/>
<path class="mk" style="marker:url(#m16)" d="M125.6 407.7L104.9 409.9 95.4 430"/>
<path class="mk" style="marker:url(#m1)" d="M80.1 428.6L94.6 399 111.7 393.3 82.4 411.4 90.3 400.3"/>
<path class="mk" style="marker:url(#m13)" d="M120.5 371.1L100.2 374.3 110.9 351"/>
<path class="mk" style="marker:url(#m14)" d="M77.7 387.3L82.1 385.1"/>
<path class="mk" style="marker:url(#m4)" d="M60.5 397.1L68.1 378.3 50.1 389.2"/>
<path class="mk" style="marker:url(#m6)" d="M65.2 403.2L83.4 400.2 83.2 385.3 73.9 366.2 74.7 363.2 63.7 389.4"/>
<path class="mk" style="marker:url(#m15)" d="M102.2 352.4L99.1 358.4"/>
<path class="mk" style="marker:url(#m3)" d="M46.8 402.9L55 407.3 34 387.2 39.5 394.4 34.5 388.9"/>
<path class="mk" style="marker:url(#m9)" d="M92.1 326.5L55.5 381.8 98.9 325.6 45.9 376.9 70.7 392.8 70.7 344.9"/>
<path class="mk" style="marker:url(#m2)" d="M119.1 398.6L113.4 396.4 79.9 408 72 414.5 70.7 414.2 75.2 424.8"/>
<path class="mk" style="marker:url(#m10)" d="M113.5 378.8L124.2 388.2 114.4 391.1 85.6 364.7 96.5 374.1"/>
<path class="mk" style="marker:url(#m11)" d="M97.3 361.3L92.8 362.9"/>
<path class="mk" style="marker:url(#m17)" d="M53.5 416.6L53.5 416.6"/>
<path class="mk" style="marker:url(#m7)" d="M80.4 356L74.8 365.5 79.5 346.4"/>
<path class="mk" style="marker:url(#m8)" d="M125.5 405.9L106.8 417.6 97.1 424.4 124.1 415 112.7 412 109.2 417.1"/>
<path class="mk" style="marker:url(#m18)" d="M72.7 351.1L72.7 351.1"/>
<path class="mk" style="marker:url(#m5)" d="M88.6 404L88.6 404"/>
<path class="mk" style="marker:url(#m13)" d="M102.6 385.3L111.2 377.2 117.4 389.4 87.9 366.9 117.8 362.9 97.8 341"/>
<path class="mk" style="marker:url(#m6)" d="M71 378.9L68.2 362.8 54.9 390.1 83.3 344.3"/>
<path class="mk" style="marker:url(#m7)" d="M100.5 331.7L75.2 364.9 66.3 355.6 61.3 370.6 73.5 364.1 65.7 369.4 30 381.9 84.4 348.3"/>
<path class="mk" style="marker:url(#m9)" d="M75 374.3L87.9 394.5 71.2 357.4 83.4 331.3 84.6 337 43 382.9 79.9 348.6 101 327.5 66.5 348.2"/>
<path class="mk" style="marker:url(#m17)" d="M47.2 390.8L49.3 390.7 39.3 407.3"/>
<path class="mk" style="marker:url(#m14)" d="M89.6 372.7L74.7 403.7"/>
<path class="mk" style="marker:url(#m10)" d="M110.2 350.7L123.5 390.4 118.7 364.4 94.8 369 109.5 391.8"/>
<path class="mk" style="marker:url(#m3)" d="M47.1 387.5L41.6 405.2 40.1 411.1 56.7 402.6"/>
<path class="mk" style="marker:url(#m2)" d="M68.2 421.9L83.9 427 71.9 410.9 94.3 422.9 90.9 414.3 88.3 406.2 113.2 402.5 114.8 398.5"/>
<path class="mk" style="marker:url(#m4)" d="M82.3 366.3L50.1 385.9"/>
<path class="mk" style="marker:url(#m1)" d="M88.4 399.5L80.9 428.6"/>
<path class="mk" style="marker:url(#m15)" d="M91.1 361.9L91.1 361.9"/>
<path class="mk" style="marker:url(#m8)" d="M94.8 413.4L119.4 423.2"/>
<path class="mk" style="marker:url(#m12)" d="M108 376.1L95.4 376.1"/>
<path class="mk" style="marker:url(#m5)" d="M85.9 405.6L85.9 405.6"/>
<path class="mk" style="marker:url(#m16)" d="M116 420.5L116 420.5"/>
<path class="mk" style="marker:url(#m3)" d="M49.1 383.3L56.9 415.1 42 391.2 31.9 385.2 46.1 400.2 54.7 410.9 42.3 402.3"/>
<path class="mk" style="marker:url(#m2)" d="M86.6 421.4L76.2 419 91.5 404.1 62.8 418.9 92.6 395.1 101.4 396.9"/>
<path class="mk" style="marker:url(#m1)" d="M109.7 400.3L109.7 399.1 92.5 422.2"/>
<path class="mk" style="marker:url(#m6)" d="M67.2 375.6L76.7 404.1 86 349.7 92.5 391.1 75.5 351.7 82.3 351.2 89 351.6"/>
<path class="mk" style="marker:url(#m8)" d="M100.4 413.8L104.5 416.7"/>
<path class="mk" style="marker:url(#m4)" d="M61.7 385.6L76.8 375.7 84 378.1 91.2 379.5 82.8 394.7"/>
<path class="mk" style="marker:url(#m10)" d="M93.7 343.6L99.7 367 116.4 365.7 106.2 371.4 106.8 380.6 114.1 368 117.7 381.5 122.3 385.3"/>
<path class="mk" style="marker:url(#m13)" d="M99.4 385.3L99.8 340 115.1 376"/>
<path class="mk" style="marker:url(#m12)" d="M119.5 369.7L107 378.8"/>
<path class="mk" style="marker:url(#m15)" d="M89.8 352.5L104.1 353 94.7 363.3 91.3 346.8 98 346.3"/>
<path class="mk" style="marker:url(#m11)" d="M90.9 346.2L94.3 346.1"/>
<path class="mk" style="marker:url(#m7)" d="M70.9 353.5L56.5 361.7 79.6 360.5 68.9 368.4"/>
<path class="mk" style="marker:url(#m9)" d="M65.4 352.2L94.8 319.5"/>
<path class="mk" style="marker:url(#m16)" d="M109.8 405.5L109.8 405.5"/>
<path class="mk" style="marker:url(#m14)" d="M78.7 381.1L77.9 368.3"/>
<path class="mk" style="marker:url(#m5)" d="M79.4 408.9L79.4 408.9"/>
<path class="mk" style="marker:url(#m16)" d="M105.3 408.9L109.1 416.8 96.9 403.6 107 414.1 121.4 421.6"/>
<path class="mk" style="marker:url(#m3)" d="M35.7 404L40.1 388.1 35.4 384.1 51.8 401.1 44.5 414.3 58.4 421.8 46.3 414.2 48.5 407.9"/>
<path class="mk" style="marker:url(#m2)" d="M77.2 413L80.1 419.6 103.7 400.2 82.4 359.9 91.4 422 88.4 427.7 114.7 395.5"/>
<path class="mk" style="marker:url(#m8)" d="M107.8 407.6L98.9 425.4 97.2 414.8 98.3 425 120.4 408.4 94.8 424.7"/>
<path class="mk" style="marker:url(#m9)" d="M96.4 322.2L97.4 333.6 70.1 346.4 91.1 321.3 73.4 338 85.8 333.8 55.3 376.1"/>
<path class="mk" style="marker:url(#m7)" d="M57.8 381.6L61.4 372 62.9 370.3 85.3 345.4"/>
<path class="mk" style="marker:url(#m13)" d="M110.8 343.5L112.3 353.3"/>
<path class="mk" style="marker:url(#m12)" d="M117.7 379.1L117.7 379.1"/>
<path class="mk" style="marker:url(#m18)" d="M71.9 342.1L73.8 350.9"/>
<path class="mk" style="marker:url(#m10)" d="M97.6 368.2L112.8 345.2 93 373 114.2 354.1"/>
<path class="mk" style="marker:url(#m4)" d="M69.5 392.2L80.3 366.8 72.2 380.1"/>
<path class="mk" style="marker:url(#m6)" d="M59.3 402.5L73 366.1 74.8 391.3 58.6 400.6 90.1 384.2"/>
<path class="mk" style="marker:url(#m17)" d="M38.1 387.7L36.6 386"/>
<path class="mk" style="marker:url(#m1)" d="M117.4 397.1L102.2 395.5"/>
<path class="mk" style="marker:url(#m14)" d="M73.7 398.3L70.8 378.5"/>
<path class="mk" style="marker:url(#m16)" d="M105 420.8L115.7 403.9 97.2 408.8 119.1 403 94.7 418.6"/>
<path class="mk" style="marker:url(#m18)" d="M71.2 340.6L84.3 344.2"/>
<path class="mk" style="marker:url(#m6)" d="M51.1 390.8L56.8 388.3 50.8 371.7 62.5 399.5 61.8 402.7 66.4 387.4 63.1 389.2"/>
<path class="mk" style="marker:url(#m2)" d="M87.9 414.4L81.5 428.2 111.8 399 65.5 407.3 67.6 413.3 66.9 421.8 94.2 395.4 114.7 399.2 84.3 416.5"/>
<path class="mk" style="marker:url(#m10)" d="M102.8 336.4L91.6 373.9 99.6 343.4 122.6 389.4 101.9 372.5 98.7 367"/>
<path class="mk" style="marker:url(#m13)" d="M119.6 379.7L106 360.1 94.9 383.5"/>
<path class="mk" style="marker:url(#m8)" d="M124.5 407.9L109.4 420.8 95 427.1"/>
<path class="mk" style="marker:url(#m1)" d="M77.9 413.4L64.8 423.3 87.9 415.5 94.2 398.9"/>
<path class="mk" style="marker:url(#m7)" d="M82.1 343L58 380 76.8 346.8 54.1 379.8"/>
<path class="mk" style="marker:url(#m3)" d="M43.8 385.6L29 399.1 50.2 394.5 43.8 411 48.7 389.7"/>
<path class="mk" style="marker:url(#m9)" d="M97 326L75.9 372"/>
<path class="mk" style="marker:url(#m15)" d="M89 360.7L89 360.7"/>
<path class="mk" style="marker:url(#m4)" d="M70 396.1L72.6 386.5 86.9 398.8 67.9 388.3"/>
<path class="mk" style="marker:url(#m14)" d="M64.1 400.9L70.8 398.8"/>
<path class="mk" style="marker:url(#m11)" d="M100.9 354L100.9 354"/>
<path class="mk" style="marker:url(#m12)" d="M106.2 385.6L106.2 385.6"/>
<path class="mk" style="marker:url(#m5)" d="M64.1 417.1L64.1 417.1"/>
<path class="mk" style="marker:url(#m15)" d="M97 358.5L97 358.5"/>
<path class="mk" style="marker:url(#m6)" d="M85 374.6L72.4 399.3 88.9 396.6 55 371.7 63.8 383.3 76.5 387 69.9 390.9"/>
<path class="mk" style="marker:url(#m12)" d="M108.5 375.3L124.8 388.8 97.4 372.2"/>
<path class="mk" style="marker:url(#m2)" d="M86.4 402.2L79.2 418.6 91.5 423.2 75.7 426.8 66.8 417.4 125.9 400.7"/>
<path class="mk" style="marker:url(#m1)" d="M85.5 407.2L61.5 406.7 100.4 402.5 90.5 430"/>
<path class="mk" style="marker:url(#m13)" d="M99.9 360.7L93.3 367.9 110.6 343.2 114.6 390.3 122.5 381.9 120.1 369.8 108 364.5"/>
<path class="mk" style="marker:url(#m10)" d="M122.5 376.6L105.6 368.6 114.3 367.5 115.1 352 121.3 371.9"/>
<path class="mk" style="marker:url(#m16)" d="M122.4 404.7L115.1 407 115.7 410.3 100 429.4"/>
<path class="mk" style="marker:url(#m9)" d="M73.3 341L100.4 327.2 77.8 349.1 87.1 344.5 107.5 337.4 100.2 326.9 70.2 381.8 53.9 372.4"/>
<path class="mk" style="marker:url(#m8)" d="M108.3 409.8L105.9 412 109.4 417.9"/>
<path class="mk" style="marker:url(#m7)" d="M77.5 360.3L61.6 356.8 41.9 376.2 82 334.8"/>
<path class="mk" style="marker:url(#m3)" d="M31.7 391.2L31.7 391.2"/>
<path class="mk" style="marker:url(#m5)" d="M66 424.3L66 424.3"/>
<path class="mk" style="marker:url(#m14)" d="M68.3 383.6L85.9 373.8 78.5 374.7"/>
<path class="mk" style="marker:url(#m4)" d="M80.1 376.3L67.7 374.1"/>
<path class="mk" style="marker:url(#m17)" d="M34.9 407L34.9 407"/>
<path class="mk" style="marker:url(#m6)" d="M91.1 387.9L82.7 375.2 86.4 368.3 68.2 368.2 72.1 368 46.6 363.6 71.3 390.6"/>
<path class="mk" style="marker:url(#m5)" d="M82 358.8L73.1 416.6 90.7 409.5"/>
<path class="mk" style="marker:url(#m10)" d="M99.6 372.9L99.6 372.9"/>
<path class="mk" style="marker:url(#m7)" d="M53.3 373.4L76.6 353 77 359.2 43.7 381.7 99.7 325.7"/>
<path class="mk" style="marker:url(#m2)" d="M92.2 429.4L87.6 400.8 73.8 421.7 70.6 418 83.1 421.7 97.5 396.4 61.8 422.3 67.7 424.9"/>
<path class="mk" style="marker:url(#m11)" d="M98.5 347.9L98.5 347.9"/>
<path class="mk" style="marker:url(#m16)" d="M101.3 426.4L102.5 406.9"/>
<path class="mk" style="marker:url(#m4)" d="M78.1 394.7L54.1 384.9 50.7 392.3"/>
<path class="mk" style="marker:url(#m13)" d="M93.2 377.4L107.5 353.9 111 346.2 100.2 371 106.2 359.5 107.3 388.7"/>
<path class="mk" style="marker:url(#m1)" d="M76.9 411.2L79.8 421.2 82.5 427.9 92.8 428.7 87.8 416.8"/>
<path class="mk" style="marker:url(#m9)" d="M50.6 372.6L94.3 317.3 94.4 329.6"/>
<path class="mk" style="marker:url(#m3)" d="M27 395.5L51.4 401.4 30.5 393.5 53.3 412.2 47 396.1 50.8 416.7"/>
<path class="mk" style="marker:url(#m12)" d="M119.5 366.1L101.4 381.4 116 368.4"/>
<path class="mk" style="marker:url(#m8)" d="M100.9 410.7L101.8 419.4"/>
<path class="mk" style="marker:url(#m18)" d="M79.2 344.7L79.2 344.7"/>
<path class="mk" style="marker:url(#m14)" d="M56.4 390.6L72.8 366.5 83 368.1"/>
<path class="mk" style="marker:url(#m15)" d="M90.4 344.3L90.4 344.3"/>
<path class="mk" style="marker:url(#m8)" d="M117 411.3L102.5 413.5 123.1 417.7 103 424.5 108.8 403.4 122 403.9 125.6 407 118.7 405.3"/>
<path class="mk" style="marker:url(#m3)" d="M33.6 394.2L55.2 419.8 46.6 394.1 50.2 397 36.2 408.1 33.3 394 30.6 401.6"/>
<path class="mk" style="marker:url(#m7)" d="M39.9 379.7L39.6 376.2 71.4 343.4 51.9 365 61.2 367.7 63 367.3 76.7 339.3"/>
<path class="mk" style="marker:url(#m15)" d="M91.7 356.5L100 346 91.5 346 97.6 353.1"/>
<path class="mk" style="marker:url(#m10)" d="M123.3 386.7L104.6 380.6 118.8 363.3 111.5 388.3"/>
<path class="mk" style="marker:url(#m9)" d="M87.4 327.4L92.8 330.2"/>
<path class="mk" style="marker:url(#m13)" d="M111.6 377L105.9 345 109 343.7"/>
<path class="mk" style="marker:url(#m2)" d="M78.5 416L106.9 394.2 86.8 402.3 62.2 422.8 102.2 400.1"/>
<path class="mk" style="marker:url(#m12)" d="M94.2 370.6L119.5 371.7"/>
<path class="mk" style="marker:url(#m1)" d="M69.7 425.2L80.9 421.4"/>
<path class="mk" style="marker:url(#m6)" d="M59.2 387.7L77.3 397 55.9 359.7 87.5 397.5"/>
<path class="mk" style="marker:url(#m14)" d="M78.7 388.2L50.8 387.6"/>
<path class="mk" style="marker:url(#m4)" d="M51 390.8L63.8 382.6 85.8 380.3 78.7 395.5 71.1 405.4"/>
<path class="mk" style="marker:url(#m11)" d="M87.7 357.7L98.6 353.5"/>
<path class="mk" style="marker:url(#m16)" d="M117.8 402.8L102.2 421.6 111.3 414.8"/>
<path class="mk" style="marker:url(#m10)" d="M94 377.6L105.3 344.9 106.9 374.9 104.6 375.9 110.7 374.3 103.6 387.5 112.7 347 121.2 388.4"/>
<path class="mk" style="marker:url(#m15)" d="M97.6 348.9L99.9 354.8"/>
<path class="mk" style="marker:url(#m2)" d="M86.8 423.2L64.2 411.8 120.2 399.8 93.2 406.8 74.3 408.9 79.5 426.2 120 400.7 90 422.2 108.8 399.7"/>
<path class="mk" style="marker:url(#m6)" d="M68.4 358.1L75.4 373 88.1 393.7 56 369.2"/>
<path class="mk" style="marker:url(#m4)" d="M75.6 384.2L60.8 395.6 70.4 385.9"/>
<path class="mk" style="marker:url(#m9)" d="M96.9 326.1L76.4 340.2"/>
<path class="mk" style="marker:url(#m16)" d="M116.2 419.6L112.3 416.8 122.5 409.4"/>
<path class="mk" style="marker:url(#m17)" d="M53 418.5L53 418.5"/>
<path class="mk" style="marker:url(#m8)" d="M107.9 423.1L107.1 426.6 102.6 429.6 107.9 403.1 125.4 412.9 96.5 430.1 114.9 423.6 96.6 420.1 109.2 427.3 121.9 419.7"/>
<path class="mk" style="marker:url(#m14)" d="M68.4 375.7L66.4 398.8 66.9 406"/>
<path class="mk" style="marker:url(#m13)" d="M102.8 359.2L102.8 359.2"/>
<path class="mk" style="marker:url(#m7)" d="M80.3 356.8L66.5 348.2 80.4 350.7"/>
<path class="mk" style="marker:url(#m3)" d="M40.3 384.7L40.2 410.4 49.1 412.5 51.1 416.2 36 400.6"/>
<path class="mk" style="marker:url(#m5)" d="M92.7 398.4L92.7 398.4"/>
<path class="mk" style="marker:url(#m1)" d="M89.1 428.8L99.4 397 93.3 397.5"/>
<path class="mk" style="marker:url(#m12)" d="M124.2 391.8L124.2 391.8"/>
<path class="mk" style="marker:url(#m11)" d="M95.4 350.2L95.4 350.2"/>
<path class="mk" style="marker:url(#m7)" d="M98.4 338.8L52.3 362.9 75.4 355.8 67.5 365.3 58.6 381.1 45 367.3 45.8 376.1 57.4 375 71.1 366.1"/>
<path class="mk" style="marker:url(#m2)" d="M92.4 430.4L82.1 427 91.6 421.3 82 406.5 97.1 394.9 79.1 410.6 66.7 411.4 119.2 394.3 94.1 402.5 60.2 405.8 74 418.6"/>
<path class="mk" style="marker:url(#m10)" d="M121.8 377.1L100.9 381.2 118.5 364.3 95.6 343.9 111.8 383 110.7 344.3 113.8 354.3 124 385.9"/>
<path class="mk" style="marker:url(#m3)" d="M45.9 406.1L48.1 411.2 33.1 391.1 35.3 404.3 41.6 404.1 43.4 409.5"/>
<path class="mk" style="marker:url(#m17)" d="M38.6 398L49.7 407.2 42.6 411.7 34.3 389.7"/>
<path class="mk" style="marker:url(#m8)" d="M99.9 422.4L111.7 413.8"/>
<path class="mk" style="marker:url(#m6)" d="M75.5 403.9L51.2 374 68.7 356.7 85.3 398 77.6 384.7"/>
<path class="mk" style="marker:url(#m12)" d="M102.7 381.9L102.7 381.9"/>
<path class="mk" style="marker:url(#m5)" d="M84.2 406.7L84.2 406.7"/>
<path class="mk" style="marker:url(#m13)" d="M124.5 388.7L89.8 340.6 118.7 386.1"/>
<path class="mk" style="marker:url(#m4)" d="M82.3 394.2L69 387.2 84.8 383.6 55.4 388.4"/>
<path class="mk" style="marker:url(#m1)" d="M95 399.7L94.1 418.3"/>
<path class="mk" style="marker:url(#m15)" d="M91.6 348L91.6 348"/>
<path class="mk" style="marker:url(#m9)" d="M78.8 337.7L75.2 345.4"/>
<path class="mk" style="marker:url(#m11)" d="M89.4 361.2L89.4 361.2"/>
<path class="mk" style="marker:url(#m4)" d="M71.6 370.6L67.6 385 79 373.1 84.7 368.9 62 377.6 63.7 391.1"/>
<path class="mk" style="marker:url(#m12)" d="M123.2 384.2L118.3 372.1 106 346.7 105.9 367.3"/>
<path class="mk" style="marker:url(#m11)" d="M89.1 350.2L89.1 350.2"/>
<path class="mk" style="marker:url(#m10)" d="M102.8 379.9L110.2 346.9 116.5 381.3 120.6 373.2 119.7 375.7 115.5 383.9 108.8 357.2 120.9 391.9 111.2 380.3 97.1 368.1 116.4 374"/>
<path class="mk" style="marker:url(#m3)" d="M44.6 406.3L56.8 409 44.9 395.2 48.1 416.4 55.2 419.5 29.1 400.1 46.1 383.8"/>
<path class="mk" style="marker:url(#m8)" d="M98.8 422.2L122.3 420 102.1 402.6"/>
<path class="mk" style="marker:url(#m15)" d="M97.2 357L97.2 357"/>
<path class="mk" style="marker:url(#m9)" d="M61.8 351.7L57.9 357.3 84.5 390.9 70.5 344.5 90.8 337.7 104.7 331.1"/>
<path class="mk" style="marker:url(#m5)" d="M91.8 406.9L80.1 360.8"/>
<path class="mk" style="marker:url(#m13)" d="M110.8 390.3L110.8 390.3"/>
<path class="mk" style="marker:url(#m16)" d="M101.8 430L101.8 430"/>
<path class="mk" style="marker:url(#m2)" d="M79 427.1L78.1 413.8 89 407.7 74.7 424.7 97.9 397.6"/>
<path class="mk" style="marker:url(#m7)" d="M97.3 327.8L74.3 352.1 70.8 361.9"/>
<path class="mk" style="marker:url(#m14)" d="M83.9 391.3L83.9 391.3"/>
<path class="mk" style="marker:url(#m17)" d="M34.7 399.7L31.2 390.8"/>
<path class="mk" style="marker:url(#m1)" d="M123.9 393.7L61.6 413.1"/>
<path class="mk" style="marker:url(#m6)" d="M65.2 398.5L59 384.9 49.9 381.6"/>
<path class="mk" style="marker:url(#m18)" d="M73.5 351.3L73.5 351.3"/>
<path class="mk" style="marker:url(#m6)" d="M51.5 380.9L73 365.2 89.4 386.6 68.2 377.3 91.7 382 54.6 389.6 62.5 393.8 66.6 365.9 91.2 382.7"/>
<path class="mk" style="marker:url(#m8)" d="M114.1 425.5L112.3 406.3 112.4 425.9 120.7 418.1 110.1 402.7"/>
<path class="mk" style="marker:url(#m7)" d="M50.8 369.7L51.4 372.4 63.9 381.8 83.1 352.7 67.6 353.9 42.2 376.4 72 359.2 76.6 350"/>
<path class="mk" style="marker:url(#m17)" d="M55.8 419.8L29.6 400.6 32.8 400.1"/>
<path class="mk" style="marker:url(#m1)" d="M79.3 411.8L79.3 411.8"/>
<path class="mk" style="marker:url(#m9)" d="M87.3 329.1L72.5 346.3 104.7 332.6 93.2 320.1"/>
<path class="mk" style="marker:url(#m10)" d="M104.3 357.6L103.6 369 107.8 388.1 98.3 366.8"/>
<path class="mk" style="marker:url(#m2)" d="M75.2 427.5L85.6 408.5 111.4 397.3 59 410.7 73.2 410 59.8 419.1"/>
<path class="mk" style="marker:url(#m18)" d="M68.1 342.9L68.1 342.9"/>
<path class="mk" style="marker:url(#m4)" d="M85.1 383.3L76.5 368.7 68.4 383.7"/>
<path class="mk" style="marker:url(#m3)" d="M47.1 393.7L27.6 393.5 54.4 399.2 43.6 387"/>
<path class="mk" style="marker:url(#m13)" d="M118.5 384.9L119 378 91 372.4 108.7 367.5 99.3 383.6"/>
<path class="mk" style="marker:url(#m15)" d="M98.8 353.4L98.1 353.5 97.1 363.4"/>
<path class="mk" style="marker:url(#m14)" d="M87.3 399.5L86.5 381.2"/>
<path class="mk" style="marker:url(#m16)" d="M121.2 422.4L121.2 422.4"/>
<path class="mk" style="marker:url(#m11)" d="M102.1 359.4L102.1 359.4"/>
<path class="mk" style="marker:url(#m7)" d="M79.1 353.2L56.9 365.5"/>
<path class="mk" style="marker:url(#m2)" d="M84.3 412.1L94.3 413.4 92.9 402.7 91.5 426.6 68 416.7 61.5 407.4 84.8 403.4 63 406.9 64.6 421.8 70.1 410.2"/>
<path class="mk" style="marker:url(#m12)" d="M103 355.5L105.1 377.5 100.6 379.6"/>
<path class="mk" style="marker:url(#m10)" d="M100.8 371.9L104.1 353.1 112.3 354.9 120.2 386.5 104.4 362.7 104.8 381 103 362 100.3 364.3"/>
<path class="mk" style="marker:url(#m3)" d="M54 419.1L31.1 397.8 42.2 388.7 51.2 411.7 49.3 416.7 38.8 385.1 49.8 417"/>
<path class="mk" style="marker:url(#m8)" d="M115.2 424L97.2 414.1 103.1 425.1 114.6 414.8"/>
<path class="mk" style="marker:url(#m9)" d="M68.7 354L92.2 332.6 73.3 383.1"/>
<path class="mk" style="marker:url(#m1)" d="M74.8 407.2L106.4 392.9 97 398.2 86.9 408.2"/>
<path class="mk" style="marker:url(#m4)" d="M74.5 401L76.7 369"/>
<path class="mk" style="marker:url(#m5)" d="M125.8 402.5L80.4 410.8"/>
<path class="mk" style="marker:url(#m16)" d="M105.9 412.5L105.8 405.3"/>
<path class="mk" style="marker:url(#m6)" d="M75.5 400.2L83.2 375 42.9 376 76 373.6 83.9 352.6 60.6 397.8"/>
<path class="mk" style="marker:url(#m15)" d="M89.1 357.4L91.1 357.1"/>
<path class="mk" style="marker:url(#m14)" d="M74.3 383.1L68.4 375.8"/>
<path class="mk" style="marker:url(#m11)" d="M83.9 358L83.9 358"/>
<path class="mk" style="marker:url(#m13)" d="M97.5 365.3L119.7 367.5"/>
<path class="mk" style="marker:url(#m6)" d="M72.6 358.4L79.7 395.2 80.5 385 70 356.8 77.1 387.4 84.1 394.9"/>
<path class="mk" style="marker:url(#m7)" d="M63.1 363.1L90.4 322.6 97.5 324.6 75.6 356.7 40.2 377.1 47.9 368.6"/>
<path class="mk" style="marker:url(#m10)" d="M91.1 368.1L110.3 341.1 105.2 383.6 111.4 377.7 109.8 355.3 101.6 347.6"/>
<path class="mk" style="marker:url(#m1)" d="M90 408.7L69.5 418 84.5 428.6 85.3 420.6 118.9 394.8 93 402.6"/>
<path class="mk" style="marker:url(#m13)" d="M105.2 348.9L110.6 370.8 105.8 391.7 110 386.6 107.1 343.8 114.9 374.9"/>
<path class="mk" style="marker:url(#m9)" d="M71.9 345.2L72.8 344 59.8 374 79.1 356.4 81.3 338.3 91.7 322.4"/>
<path class="mk" style="marker:url(#m3)" d="M37.4 396.2L30.9 385.2 48.9 393.8 41.1 407.9"/>
<path class="mk" style="marker:url(#m14)" d="M79.1 390.9L60.8 384.3"/>
<path class="mk" style="marker:url(#m8)" d="M106 419.1L120.8 421.6 100.6 409.5"/>
<path class="mk" style="marker:url(#m12)" d="M99.9 369.6L115.8 374"/>
<path class="mk" style="marker:url(#m2)" d="M76.7 360L69.8 415 64 406 120.2 393.6 72.2 421.4"/>
<path class="mk" style="marker:url(#m17)" d="M39.9 387.5L37.5 409.1 43.1 412.5"/>
<path class="mk" style="marker:url(#m15)" d="M98.9 363.5L95.5 349.4 93.6 356.4"/>
<path class="mk" style="marker:url(#m18)" d="M71 350.8L71 350.8"/>
<path class="mk" style="marker:url(#m4)" d="M85.5 383L85.5 383"/>
<path class="mk" style="marker:url(#m2)" d="M73 412.4L91.6 402.7 89.5 413.1 97.9 398.9 89.6 400 93.2 410.1"/>
<path class="mk" style="marker:url(#m17)" d="M45.1 405.3L45.1 405.3"/>
<path class="mk" style="marker:url(#m7)" d="M69.3 349.2L102.8 330.4 39.2 375.8 76 364.2 65.4 379.5 92.7 332.3 82.2 352.6 48.3 381.4"/>
<path class="mk" style="marker:url(#m8)" d="M103.4 429.9L100.3 413.4 94.5 404.5 108.6 415.9 95 419.5 101.7 408.1"/>
<path class="mk" style="marker:url(#m15)" d="M86.6 355.9L96.3 346.4 100.2 354.3 96.7 359.4 97.4 353.7 91.8 346.1"/>
<path class="mk" style="marker:url(#m13)" d="M97.5 341L112.2 343.8 119.6 378.6"/>
<path class="mk" style="marker:url(#m6)" d="M70 382.9L57.5 397.8 56.2 368.2 70.3 384.9 66.7 382.5"/>
<path class="mk" style="marker:url(#m1)" d="M59.1 421.6L60.5 415.1"/>
<path class="mk" style="marker:url(#m14)" d="M84.5 388.3L80.1 383.4 73.3 379.2 68.3 399.7"/>
<path class="mk" style="marker:url(#m4)" d="M78 375.1L70.7 381.4 54.3 394.8 77.2 392.3"/>
<path class="mk" style="marker:url(#m9)" d="M97.9 334.2L103.1 331.3 98.4 331.5 94.1 322.7 68.7 344"/>
<path class="mk" style="marker:url(#m3)" d="M45.2 389.8L27.9 391 39.8 406.9"/>
<path class="mk" style="marker:url(#m10)" d="M120.2 375.8L110.3 368.5 102.8 349.2 112.6 348.1"/>
<path class="mk" style="marker:url(#m16)" d="M106 414.5L101.2 414.1"/>
<path class="mk" style="marker:url(#m12)" d="M94.1 372L94.1 372"/>
<path class="mk" style="marker:url(#m8)" d="M100.9 412.8L111.5 410.3 98.3 405.1 105.2 415.8 97.5 426.7 110.8 412.8 96.2 412.3 113.8 422.6"/>
<path class="mk" style="marker:url(#m10)" d="M94.3 366.4L103.4 387.5 94.2 390.7 109.7 342.6 120.2 389 101.2 368.7"/>
<path class="mk" style="marker:url(#m4)" d="M78.9 386.8L72.7 382"/>
<path class="mk" style="marker:url(#m18)" d="M88.1 340.7L88.1 340.7"/>
<path class="mk" style="marker:url(#m11)" d="M99.4 355.3L99.4 355.3"/>
<path class="mk" style="marker:url(#m15)" d="M98.8 347.4L98.8 347.4"/>
<path class="mk" style="marker:url(#m6)" d="M37.5 382.2L79.8 374.7 59.1 394.3 42.7 372.1 72.7 360.4 62.4 396.4 61.4 382.3 70 387.2 86 368.2"/>
<path class="mk" style="marker:url(#m3)" d="M45.4 414.9L42.6 394.5 52.1 400.8 49.6 398.7 47.2 387.8 32.5 398.3"/>
<path class="mk" style="marker:url(#m1)" d="M124.5 392.9L112 397.8 89.5 401.9"/>
<path class="mk" style="marker:url(#m13)" d="M110 339.8L115.9 387.4 115.6 373.8"/>
<path class="mk" style="marker:url(#m2)" d="M83.4 422L72.4 424.8 74.5 420.8"/>
<path class="mk" style="marker:url(#m5)" d="M82.5 409.1L82.5 409.1"/>
<path class="mk" style="marker:url(#m9)" d="M73.5 358.5L83 342.6"/>
<path class="mk" style="marker:url(#m12)" d="M97.5 363.9L92 372.2 116.8 378.4 109 372.2"/>
<path class="mk" style="marker:url(#m17)" d="M53.7 402.2L53.7 402.2"/>
<path class="mk" style="marker:url(#m7)" d="M67.8 361.4L42.4 377.5 56.9 372.9 35.7 382.5 62.5 352 82.3 353.3"/>
<path class="mk" style="marker:url(#m16)" d="M97.1 412.7L112 425.5"/>
<path class="mk" style="marker:url(#m14)" d="M81.1 386.1L81.1 386.1"/>
<path class="mk" style="marker:url(#m6)" d="M51.2 373L86.1 373.8 67.4 375.5 89 381 68.4 365.6 53.2 363.3 52.2 368.2 52.5 378"/>
<path class="mk" style="marker:url(#m9)" d="M93.8 332.3L67 354.5 76.9 343.3 79.5 348.5"/>
<path class="mk" style="marker:url(#m7)" d="M79.9 344.2L54.7 369.7 50.9 374.3 87.9 347 71.5 365.9"/>
<path class="mk" style="marker:url(#m11)" d="M93.5 356.5L96.4 348.6"/>
<path class="mk" style="marker:url(#m10)" d="M94.5 388.9L109 383.5 100.2 363.2 101.3 378.6 96.5 392.6 105.6 365.5 100.8 339.1"/>
<path class="mk" style="marker:url(#m4)" d="M77.1 393.1L55.4 386.7 72.3 384.9 80.7 396.3 71.6 405.1"/>
<path class="mk" style="marker:url(#m14)" d="M66.5 399.7L60.1 391.3 82 396.5 85.6 390.4 50.9 389.2"/>
<path class="mk" style="marker:url(#m1)" d="M64.7 406.6L93.1 411.3"/>
<path class="mk" style="marker:url(#m2)" d="M75 419.5L69.1 408.9 68 420.5 103.6 397.2"/>
<path class="mk" style="marker:url(#m17)" d="M41.3 397.5L41.3 397.5"/>
<path class="mk" style="marker:url(#m13)" d="M110.3 371.3L110.3 371.3"/>
<path class="mk" style="marker:url(#m8)" d="M104.7 413.1L111.5 405.1 95.4 416.9 122.2 417.6 114.3 414.9 103.1 420.7 118.6 412.9 115.8 423.7"/>
<path class="mk" style="marker:url(#m3)" d="M49.3 394L42.3 388.4"/>
<path class="mk" style="marker:url(#m15)" d="M97.6 360.7L97.6 360.7"/>
<path class="mk" style="marker:url(#m5)" d="M91.2 405.3L88.3 413"/>
<path class="mk" style="marker:url(#m12)" d="M125.1 390.1L113.4 366.3"/>
<path class="mk" style="marker:url(#m16)" d="M124.2 404.6L124.2 404.6"/>
<path class="mk" style="marker:url(#m8)" d="M105.4 419.3L100.2 422.9 108.9 423.4 115.3 421.1 124.4 412.3 121 419.6"/>
<path class="mk" style="marker:url(#m12)" d="M105.8 392.2L100.1 381.9"/>
<path class="mk" style="marker:url(#m3)" d="M51.2 416L31.7 393.5 42.2 403.1 41.9 411.3 53.4 401.2 49.5 410.2"/>
<path class="mk" style="marker:url(#m4)" d="M64.3 389.6L57 400 74.3 379.7 65.6 398.9 86.4 379.5"/>
<path class="mk" style="marker:url(#m9)" d="M90.5 324.2L92.1 333.8 77.4 342.2 102.2 328.2 83.9 349.5"/>
<path class="mk" style="marker:url(#m16)" d="M121.1 416.9L103.1 416.9 96.3 403.6"/>
<path class="mk" style="marker:url(#m15)" d="M92.4 347.4L87.4 364.3"/>
<path class="mk" style="marker:url(#m10)" d="M116.4 386L104.4 339.7 113.7 375 103.6 342.7 125.3 392.3 111.4 343.4 116.2 378.1"/>
<path class="mk" style="marker:url(#m2)" d="M79.5 415.7L125.7 401.1 93.3 424 67.6 425.1 113.6 402 96.6 401.4 76.2 422.5 80.9 356"/>
<path class="mk" style="marker:url(#m7)" d="M42.3 378L100.9 331.5 50.7 364.5"/>
<path class="mk" style="marker:url(#m14)" d="M85.5 382.2L85.5 382.2"/>
<path class="mk" style="marker:url(#m6)" d="M59.4 385.7L65.3 386.5 62.7 380.3 92.4 384.6 69.9 382.5"/>
<path class="mk" style="marker:url(#m5)" d="M124.3 396.4L72.9 426.3 59.5 416.5"/>
<path class="mk" style="marker:url(#m1)" d="M98.2 397.1L98.2 397.1"/>
<path class="mk" style="marker:url(#m13)" d="M105 387.6L107.8 387.1"/>
<path class="mk" style="marker:url(#m18)" d="M70.5 344.7L70.5 344.7"/>
<path class="mk" style="marker:url(#m13)" d="M123.3 380.2L111.4 388.4"/>
<path class="mk" style="marker:url(#m10)" d="M100.5 375.4L104.7 355.8 123.3 380.9 119.8 392.3 113.9 378.8 112 389.3 96.3 381.3 115.3 380.2"/>
<path class="mk" style="marker:url(#m5)" d="M77.4 427.8L70.7 417.2 61.1 418.7 74.4 417.1 101.5 394.3"/>
<path class="mk" style="marker:url(#m4)" d="M73.4 373.1L91 395.5 73 405.8 92 392.9 76.6 382.3 76.2 393.4 88.1 385.1"/>
<path class="mk" style="marker:url(#m9)" d="M76.4 347.8L79.9 347.6 48.6 378.1 88.2 347.7 108.3 339.4 64 357.7"/>
<path class="mk" style="marker:url(#m8)" d="M99.8 430.2L106 415.1 100.1 403.7 122.5 407.1 105.5 429.5 113 412.8"/>
<path class="mk" style="marker:url(#m6)" d="M37.7 375L65.7 378.6 82.4 382.3 72.2 380.5 81.2 382"/>
<path class="mk" style="marker:url(#m7)" d="M64.5 381.3L70.7 345.4 55.4 372.2 79.6 347.6 62.5 368 50.4 380.7"/>
<path class="mk" style="marker:url(#m1)" d="M88.3 415.3L65.4 413.7 64.5 415.5"/>
<path class="mk" style="marker:url(#m2)" d="M116.5 402.2L86 423 78.5 417.4 76.3 421.5 88.7 429.9 118.3 400 80.2 411.6 91.6 416.6"/>
<path class="mk" style="marker:url(#m16)" d="M99.2 423L99.2 423"/>
<path class="mk" style="marker:url(#m15)" d="M93.6 356.8L94.5 361.1"/>
<path class="mk" style="marker:url(#m14)" d="M76.6 383.2L76.6 383.2"/>
<path class="mk" style="marker:url(#m10)" d="M95.1 376L95.1 376"/>
<path class="mk" style="marker:url(#m2)" d="M77.3 423.8L77.3 423.8"/>
<path class="ct" d="M93 321C101 321 109 333 113.5 342C119.5 355 124 371 130.5 387C136 399 141.5 409 141.5 421C141 433 128 440 112 440C92 440 70 431 50 425C34 420 20 412 17 403C14 394 22 386 31 383C38 381 43 381 47 381C49 391 56 402 66 406C76 410 88 406 92 396C96 386 92 374 85 366C78 358 76 350 77 342C78 334 84 322 93 321Z"/>
<ellipse class="ct" cx="95" cy="352" rx="9.8" ry="8.6" transform="rotate(30 95 352)" style="fill:#d6e6ea;fill-opacity:.22"/>
<ellipse class="ct" cx="40.3" cy="402.6" rx="16.5" ry="13" transform="rotate(28 40.3 402.6)"/>
<ellipse class="ct" cx="36.7" cy="401.5" rx="7" ry="6.1" transform="rotate(20 36.7 401.5)"/>
<path class="ct" d="M111.5 383.6C120 384 128 392 129.5 402C131 415 128 424 118 429C108 433 92 428 84 420C80 415 84 408 90 402C97 394 103 384 111.5 383.6Z"/>
<ellipse class="ct" cx="113.3" cy="415.3" rx="19" ry="16.5" transform="rotate(-20 113.3 415.3)" style="fill:#6e8282;fill-opacity:.2"/>
<ellipse class="ct" cx="113.3" cy="415.3" rx="15.6" ry="13.6" transform="rotate(-20 113.3 415.3)" style="fill:#6e8282;fill-opacity:.2"/>
<ellipse class="ct" cx="113.3" cy="415.3" rx="12.6" ry="11" transform="rotate(-20 113.3 415.3)" style="fill:#6e8282;fill-opacity:.2"/>
<ellipse class="ct" cx="113.3" cy="415.3" rx="10" ry="8.8" transform="rotate(-20 113.3 415.3)" style="fill:#6e8282;fill-opacity:.2"/>
<ellipse class="ct" cx="113.3" cy="415.3" rx="7.2" ry="6.3" transform="rotate(-20 113.3 415.3)" style="fill:#6e8282;fill-opacity:.2"/>
<ellipse class="ct" cx="113.3" cy="415.3" rx="4.3" ry="3.8" transform="rotate(-20 113.3 415.3)" style="fill:#6e8282;fill-opacity:.2"/>
<path class="cl" d="M124 371C128 380 135 392 138.5 404C142 418 137 430 126 435.5C112 441 94 436 80 431C72 428 66 427 60 425"/>
<path class="cl" d="M128 388C132 396 136 404 136.5 413C137 424 131 431 122 434C110 437 94 433 82 428"/>
<path class="cl" d="M24 396C24 390 30 385 36 385M20 404C24 412 32 416 42 419"/>
</g>
<g id="panel-c">
<text x="152.2" y="290.8" font-size="10.8" font-weight="bold">c</text>
<text x="202.3" y="290.3" text-anchor="middle">Other, urban</text>
<text x="202.3" y="296.9" text-anchor="middle">biogas</text>
<text x="202.3" y="303.4" text-anchor="middle"><tspan font-style="italic">n</tspan> = 38</text>
<text x="202.3" y="310" text-anchor="middle">PERMANOVA:</text>
<text x="202.3" y="316.6" text-anchor="middle"><tspan font-style="italic">R</tspan><tspan font-size="4.7" dy="-2.4">2</tspan><tspan dy="2.4"> = 0.55%, </tspan><tspan font-style="italic">P</tspan> = 0.001</text>
<use href="#cl" x="212.3" y="327.5"/>
<marker id="m19" markerUnits="userSpaceOnUse" markerWidth="3.24" markerHeight="3.24" refX="1.62" refY="1.62" overflow="visible"><circle cx="1.62" cy="1.62" r="1.2" fill="#3c5f66" stroke="#0a0a0a" stroke-width="0.42"/></marker>
<path class="mk" style="marker:url(#m19)" d="M210.1 346.5L207.6 349.2 205.9 348.2 206.4 349.7 207.6 353.2 207.4 353.5 207.7 350.2 206.7 346.8 204.8 349.6 206.8 350.9 207.5 345.8 206 346.3 208.4 349.4 207.2 346.9 205.2 347.9 206.9 351.2 204.9 350.8 205.8 348.1 206.5 348.4 207.6 352.5 207.5 348.1 207.6 351 208.2 350.6 204.8 347.4 206.4 352.7 206.8 352.6"/>
<text x="288.7" y="290.3" text-anchor="middle">Other, urban</text>
<text x="288.7" y="296.9" text-anchor="middle">saltwater</text>
<text x="288.7" y="303.4" text-anchor="middle"><tspan font-style="italic">n</tspan> = 78</text>
<text x="288.7" y="310" text-anchor="middle">PERMANOVA:</text>
<text x="288.7" y="316.6" text-anchor="middle"><tspan font-style="italic">R</tspan><tspan font-size="4.7" dy="-2.4">2</tspan><tspan dy="2.4"> = 0.89%, </tspan><tspan font-style="italic">P</tspan> = 0.001</text>
<use href="#cl" x="298.7" y="327.5"/>
<marker id="m20" markerUnits="userSpaceOnUse" markerWidth="3.24" markerHeight="3.24" refX="1.62" refY="1.62" overflow="visible"><circle cx="1.62" cy="1.62" r="1.2" fill="#a8705a" stroke="#0a0a0a" stroke-width="0.42"/></marker>
<path class="mk" style="marker:url(#m20)" d="M294.2 344L293.9 350.2 294.4 343 294.4 346.2 290.7 346.2 290.9 343.7 295.9 357 295.4 349.8 296.6 349.5 292.3 339.5 295.1 340.2 289.6 345.9 293.9 345.2 295.3 347.9 294.1 349.8 292.9 349 297.3 344.9 294 350.1 293 348.1 291.3 346.7 293.9 352.3 295.2 346.2 292.2 354.8 295.1 341.5 293.3 345.1 292.9 342.2 293.2 346.5 293.5 352 294.2 343.9 291.2 346.4 295.5 351.7 292.9 352.5 294.5 346.2 294.5 348.1"/>
<text x="375.1" y="290.3" text-anchor="middle">Sediment, natural</text>
<text x="375.1" y="296.9" text-anchor="middle">freshwater</text>
<text x="375.1" y="303.4" text-anchor="middle"><tspan font-style="italic">n</tspan> = 560</text>
<text x="375.1" y="310" text-anchor="middle">PERMANOVA:</text>
<text x="375.1" y="316.6" text-anchor="middle"><tspan font-style="italic">R</tspan><tspan font-size="4.7" dy="-2.4">2</tspan><tspan dy="2.4"> = 2.26%, </tspan><tspan font-style="italic">P</tspan> = 0.001</text>
<use href="#cl" x="385.1" y="327.5"/>
<marker id="m21" markerUnits="userSpaceOnUse" markerWidth="3.24" markerHeight="3.24" refX="1.62" refY="1.62" overflow="visible"><circle cx="1.62" cy="1.62" r="1.2" fill="#c07e2c" stroke="#0a0a0a" stroke-width="0.42"/></marker>
<path class="mk" style="marker:url(#m21)" d="M386.2 361.1L385.5 365.2 396.5 362.3 380.2 347.9 396.2 345.6 395.7 344.8 379.4 350.4 396.2 358 375.8 342.2 393.9 368.8 393.9 367.8 381.4 357.4 395 354.9 375.6 341.3 391.9 348.2 391.9 367.4 384.1 335.4 374.3 346.5 388.2 332.5 393.8 339.8 383.8 337.5 394.5 342.1 380.8 357.5 397.9 359.7 388.6 360 391.2 351.1 385.8 334.9 379.9 355.7 380.5 343.4 385.8 345.4 388.2 351.3 396.6 352.4 389.2 359.4 394 365.4 397.4 367.9 392.9 345.4 380.7 357.9 382.3 348.1 376.1 342.4 381.7 333.1 396.7 346.4 390.7 336.8 395.8 364.5 402.4 365.9 386.3 349.5 396.9 355.3 392.9 339.8 388.1 331.7 391.3 338.5 375.9 343.8 387.4 340.7 393.4 359 385 350.6 391.4 353.6 385.6 344.9 393.8 340.2 387.4 357.7 380.1 340.1 380.9 355.6 388 354.7 399.3 367.3 393.2 351.6 379.3 352.9 389.2 343.9 387.5 342.2 378.5 341.2 381 350.3 383.8 362.6 384.9 358.2 381.9 353 391.9 354.9 376.2 350.8 390.6 350.7 395.7 350.1 398.4 359.1 390 350.6 387.8 359.9 396.6 353.4 379 354.1 395.9 349 401.6 369.2 389.5 340 391.4 361.3 399 362.5 382.2 355.2 388.4 365 393.2 364.9 382.7 357 390.3 337.8 386.6 339 382.5 346 379.8 338.8 383.6 344.3 392.8 354.4 393.4 339.8 390.9 367.7 400.4 367.3 397.8 360.6 381.4 350.8 388.9 360.3 386 345.8 389.7 362.9 398 352.8 386.1 356.4 399.1 362.6 390.4 368.3 379.4 352.7 375.2 350.5 394.4 350.1 381.6 345.8 380.2 339.8 398.9 354.6 379.1 342.7 384.6 359.9 390.7 351.5 396.1 345.3 388 333.6 380 352.7 384.8 335.9 391.7 364.3 379 349 396 351.1 380.6 345.7 386.4 346.1 398 352.8 380.5 344.4 385.2 336.8 380.5 340.5 391.9 366.6 394.9 344.4 395 359.7 386 366.8 393.7 350.8 388.4 343.1 388.1 346.6 374.2 343.3 393.8 368.3 379.1 356.1 400.3 366.8 383.6 357.9 385.5 344.9 396.9 355.3 374.5 343.8 386.7 342.7 390.4 345.7 396.6 355.1 383.6 353.5 386.3 366.1 391.9 353.5 401.5 363.6 393.9 349.6 382.4 355.7 378.9 349.4 391.2 363.8 383.3 356.1 397.7 355.8 386.3 337.3 383.6 337.3 383.9 357.4 384 349.6 380.7 334.2 381.1 333.7 379.4 336.2 392.4 367 395.7 361.2 390.9 335.7 396.9 361.6 391.5 340.8 385 339.7 381.9 350.2 373.8 346.8 384.7 333.6 397 348.9 396.2 365.9 387 350.6 393.6 367.5 386.6 349 393.2 345.2 388.3 348 397.6 362.1 397.8 360.1 377.7 338.1 384 341.2 391 365 380 347.9 387 345 389.6 349.6 384.7 336.8 393.2 340.6 378.2 347.5 397.8 357 384.7 356.5 380.7 348.1 392.8 340.9 402.9 368.9 391.2 362 401.6 362.3 383.8 363.5 387.5 345 396.3 357.6 387.8 359.8 397.6 353.5 387.6 348 389.8 364.7 376.1 342.4 382.5 333.8 373 344.7 387.8 358 396.4 349.2 398.2 365.7 389.3 342.1 395.2 351.3 385.4 362.4 389.8 350.4 389.4 360.7 389.5 350.1 372.1 344.2 380.2 357.3 396.4 352.6 395.1 362.3 393.2 338.9 391.2 347.1 389.2 337.4 382 359.2 389.6 345.7 380.6 346.3 397.1 349.8 389.3 335.3 384 350.5 375.3 342.8 389.9 344.2 391.5 342.6 386.4 357 382.4 351.6 387.6 366.7 398.7 360.3 392.3 340.6 375.3 344.1 374.2 348.6 392.6 344.9 382.6 354.1 381.7 358.7 395.4 345.2 383 335.7 390.7 368.7 386.8 356.5 392.5 354.8 386.5 361.6 380.9 348.4 386.5 359.8 386.9 338.4 387.1 361 394.8 355.5 381.5 341.4 380.6 340.8 388 361.8 384.8 335.4 397.9 354 387 343.8 375.2 344.9 381.4 353.8 394.7 363.7 391.9 350.6 401.6 368.7 383 340 381.5 351.6 399.1 358.7 392 346.5 391 338 375.8 340.3 397.4 347.7 393.3 366 384 344.6 388.2 348.6 380.7 337.5 382.3 336.7 385.3 365.4 393.5 343.1 379.8 350.9 393 359.6 398 363.4 399.6 369.5 387.8 355.7 383.7 334.6 386.4 342.2 396.4 350 394 355.5 383.5 340.6 385 331.8 395.6 368.5 381.6 352.5 389.5 338.7 387.4 336.7 400 365.9 380.2 339.6 388.7 333.4 384.5 356 391 342.7 376.8 349.3 394.7 354.6 398 360.2 397.2 353.8 379.3 338.4 387.6 353.6 395.4 352.7 385.2 339.8 401.2 363 381.2 354.8 379.1 340 391.8 367.7 385.4 356.2 387.8 350.3 384.4 359.6 389.5 348.2 389.5 336.7 399.4 363.4 394.4 368.3 384.9 363.9 382 352.5 392.1 350.5 399.3 365.3 378.4 337.1 394 348.7 395.6 353.8 391.7 366.5 383.5 340 382 340.3 386.4 340.8 394.6 348.9 384.8 337.6 387.5 378.2 367.9 369.9 366.5 365.6 376.5 364.8 357.9 380.1 378.5 377.1 377.2 361 356.2 363.5 372.2 373.4 364.8 360.5 370.5 369.4 374.4 360.1 385.2 352.7 386.5 364.8 354.8 370.2 357.9 371.9 378.3 377.4 372.4 361.3 365 369.6 381.1 366.2 395.2 362.4 371.9 372.4 360.7 361.8 362.4 363.2 371.5 344.5 367.8 357.5 389.1 352.1 381.3 358.2 364.6 359.5 379.6 372.9"/>
<text x="461.5" y="290.3" text-anchor="middle">Sediment, natural</text>
<text x="461.5" y="296.9" text-anchor="middle">saltwater</text>
<text x="461.5" y="303.4" text-anchor="middle"><tspan font-style="italic">n</tspan> = 153</text>
<text x="461.5" y="310" text-anchor="middle">PERMANOVA:</text>
<text x="461.5" y="316.6" text-anchor="middle"><tspan font-style="italic">R</tspan><tspan font-size="4.7" dy="-2.4">2</tspan><tspan dy="2.4"> = 2.12%, </tspan><tspan font-style="italic">P</tspan> = 0.001</text>
<use href="#cl" x="471.5" y="327.5"/>
<marker id="m22" markerUnits="userSpaceOnUse" markerWidth="3.24" markerHeight="3.24" refX="1.62" refY="1.62" overflow="visible"><circle cx="1.62" cy="1.62" r="1.2" fill="#c8842a" stroke="#0a0a0a" stroke-width="0.42"/></marker>
<path class="mk" style="marker:url(#m22)" d="M468.2 343.3L466.9 345.2 468.8 342.1 467.4 348.1 468.9 345.6 466.9 345.9 467.3 345.3 468.6 348.2 467 343.2 467.3 342.8 466.6 344.8 468 348.6 467.5 344.1 468 343.2 468.5 345.5 467 342.4 467.4 345.5 467.3 339.7 464.5 339 469.7 346.2 468.9 347.7 469.5 342.1 465.6 346.9 469.6 346.2 467.7 347.1 467.1 337.9 468.6 346.4 467.6 345 467.4 343.9 468 341.7 466.6 344.2 465.5 344.9 468.6 344.2 468.2 346.9 469.4 344.6 466.4 343.3 473 343.5 474.5 349 476.5 358.5"/>
<text x="547.9" y="290.3" text-anchor="middle">Sediment, urban</text>
<text x="547.9" y="296.9" text-anchor="middle">freshwater</text>
<text x="547.9" y="303.4" text-anchor="middle"><tspan font-style="italic">n</tspan> = 660</text>
<text x="547.9" y="310" text-anchor="middle">PERMANOVA:</text>
<text x="547.9" y="316.6" text-anchor="middle"><tspan font-style="italic">R</tspan><tspan font-size="4.7" dy="-2.4">2</tspan><tspan dy="2.4"> = 2.89%, </tspan><tspan font-style="italic">P</tspan> = 0.001</text>
<use href="#cl" x="557.9" y="327.5"/>
<marker id="m23" markerUnits="userSpaceOnUse" markerWidth="3.24" markerHeight="3.24" refX="1.62" refY="1.62" overflow="visible"><circle cx="1.62" cy="1.62" r="1.2" fill="#e08a22" stroke="#0a0a0a" stroke-width="0.42"/></marker>
<path class="mk" style="marker:url(#m23)" d="M552.9 348.2L553 337.5 574 362.1 570.3 350.9 564.8 361.5 569.8 353.4 550.1 340.7 568.7 351.6 556.7 335.3 547.4 352.5 574.9 368.4 559.3 352.2 573.3 367.5 563.1 360.8 568.1 361.5 563.3 369.2 548.8 347.2 565.3 373.3 556.9 352.9 554.4 346.2 549.5 352.6 557.6 337 565.8 366.8 561 340.3 560 352.4 562.9 357.4 551.6 355.8 566.1 358.4 554.1 349.5 559.9 366.6 560.7 341.5 571.5 353.8 566.3 354.3 564.5 363.4 548.2 340.8 555.1 357 566 352.9 566.3 368.6 566.6 347.3 544.1 347.1 570 350.1 565.9 346.9 562.7 346.3 559.8 334.8 556.7 340.9 561.9 371.5 569 348.5 555.3 341.8 562.1 341.7 562 339 558.3 360.6 551.6 343.8 556.6 332.4 560.9 334.3 555 340.8 553.6 344.8 553.1 349.2 563.5 370.8 550.8 356.9 562.2 333.6 556.3 361.2 545.9 342.3 571.4 367.9 557.9 356 554.9 355.8 552.7 340.1 567.7 348.2 565.3 339 561.5 361.7 568.5 372.1 567.7 368.5 569.9 352 574.1 371.5 563.8 340.4 571.6 366.1 560.7 366.2 568.3 344.9 562.1 362.8 560.9 338.9 556.6 345.4 562.5 360 562 361.4 559.8 344.2 560.5 348.9 566.5 362.5 551.7 345.6 550.8 345.7 561 350.2 556.4 346.1 572.2 356 557.8 331.9 563.7 335.7 552.3 337.6 569.8 348.6 569.5 363.9 560.8 349.9 561.9 335.5 564.2 370.4 560.2 361.4 572.3 361.2 572.6 361.4 553.3 350.9 555.8 340.4 551.8 339.2 564.1 347.2 554.1 343.1 562.8 366.8 561.5 346.1 575.4 371.8 548.4 342 554.9 360.8 571.4 357.6 547.4 349.5 562.8 361.7 549.6 348.3 557.3 356.3 563.8 361.7 563 366.8 549.8 351.9 550.1 350.2 547.2 347.9 565 340.9 559.7 333 572.8 360.9 571 355.9 554.7 347.4 569.5 348.9 558.1 328.8 563.6 363 550.4 353.5 566 373.3 547.9 347.5 555.1 342 555.9 361.4 565.9 373.3 554.1 344.4 554.7 351 553.4 341.4 552.9 349.6 567.2 343.7 572.7 366.7 558 343.3 554.3 337.5 566.8 344.2 554.8 346.2 557.2 351.2 548 350.4 555.9 347.9 563.1 353.9 567.9 371.7 563.6 348.8 562.5 365.1 564.8 371.9 553.7 351.3 563.4 360 546.5 345.5 565.7 372.7 555.4 333 561.3 332.4 559 343.3 572.5 360.2 564.4 367.1 565 359.5 557.1 336.3 566.4 355 571.2 368.3 572.5 359.2 555.4 345.2 574.4 372.4 547.5 345.7 570.4 365.1 557.4 354.4 570.3 356.3 575.6 370.5 548.4 349.4 558.2 337.3 560.7 336.1 561.6 337.5 561.4 365.4 565 359.5 559.1 337.9 566.8 366.7 556.6 350.6 566 344.7 558 356.3 549.4 354.5 564.3 335.6 546 344.2 563.7 370.2 555.4 362.5 570.4 354.7 562.1 368.9 549.7 344.2 564.1 343.7 549.3 351.4 559.2 337.8 559.2 360.8 558.6 364.9 573.7 374.1 564.9 358.2 570.7 353.3 551.9 350 567.2 372.2 567.2 351.1 567.5 369.9 566.1 352.2 562.9 341 563.9 341.8 560.9 350.5 546.9 347.2 563.3 365.1 556.6 350.3 555.7 337.2 568.2 372.5 553.4 342.4 551.4 355.7 561.9 337.6 568.4 371.1 555.9 341.3 564.7 354.2 571.8 361.2 565.4 363.8 570 349.5 564 367.7 572.7 358.2 566.5 372.4 550.7 342.9 572.3 373.7 566.4 365.8 560.7 339.3 559.1 345.4 574.4 364.1 558.1 352 569.9 349.4 560.2 337.3 569.7 364.2 564.9 346.1 574.8 363.7 554.9 333 554.8 341.9 573.1 366.8 564.6 343.9 550 346.6 554.4 350.7 546.3 347.9 564.9 355.5 571.8 370.6 567.8 349.5 566.9 356.8 561.5 366.7 556.6 333 565.6 373.5 555.1 362.6 549.1 350 561.8 338.1 560.7 336.3 552 349.8 561.2 332.2 564.9 361.3 571.7 353 564.9 367.1 545.1 343.5 562.1 334.4 553.9 354.7 556.3 335.2 574.7 370.8 551.5 337.6 570.2 358.8 556.2 360.3 572 356.4 554.6 356 574.1 372.3 557.9 329 572.2 367.9 550.3 342.5 552.3 348.9 566.5 351.2 574.5 368.3 553.4 357.6 551.8 338.6 561.7 351.1 551.4 351.1 569.1 364 571.2 356 548 342.1 559 346.3 550.5 346.3 557.6 351 557.9 359.1 573.9 365.2 551.4 345.3 566.5 364.8 561.3 338.3 545.2 347.6 560.2 332.5 568.7 345.1 569.7 352.8 568.7 367 556.8 340 554.1 349.4 566.5 371.4 558.2 372 564.7 378.2 557 380.6 567.2 380.3 546.7 375.3 572.3 365.7 555.6 373.9 550.9 364.2 564.2 358.5 565.2 381.5 568.3 371.3 559.6 374.8 557.1 384 576.2 371.5 550.5 381.2 559.9 380.3 562.4 382.1 573.6 376.4 556.2 373.5 561.1 363.1 548.3 384.6 566.5 368.8 546.1 386.8 575.9 377.9 570.4 386.1 563.9 371.2 574.5 376.1 557.1 373.9 566.9 361.3 565.7 375.3 554.2 378.7 553.1 360.8 558 374.7 566.5 362.6 566.3 378.9 556.1 381.1 573.3 375.6 558.1 358.7 568.9 369 545.2 387.5 537 366 547.5 366.4 547.3 381.6 552.9 367.9 536.8 374.9 535.1 369.4 545.1 365.7 529.9 378.4 535.7 363.4 543.3 356.6 557.7 364.2 539.3 367.2 538.3 371.6 542.1 372.1 544.1 364.6 530.7 366.5 533.6 368.7 538.9 376 536.2 378.2 526.6 378.2 525.2 373.9"/>
<text x="634.3" y="290.3" text-anchor="middle">Soil, agriculture (lowland)</text>
<text x="634.3" y="296.9" text-anchor="middle">fields</text>
<text x="634.3" y="303.4" text-anchor="middle"><tspan font-style="italic">n</tspan> = 122</text>
<text x="634.3" y="310" text-anchor="middle">PERMANOVA:</text>
<text x="634.3" y="316.6" text-anchor="middle"><tspan font-style="italic">R</tspan><tspan font-size="4.7" dy="-2.4">2</tspan><tspan dy="2.4"> = 0.16%, </tspan><tspan font-style="italic">P</tspan> = 0.001</text>
<use href="#cl" x="644.3" y="327.5"/>
<marker id="m24" markerUnits="userSpaceOnUse" markerWidth="3.24" markerHeight="3.24" refX="1.62" refY="1.62" overflow="visible"><circle cx="1.62" cy="1.62" r="1.2" fill="#3f7f3f" stroke="#0a0a0a" stroke-width="0.42"/></marker>
<path class="mk" style="marker:url(#m24)" d="M618.4 368.5L645.4 393.9 660.4 384.7 660.4 370.9 650.6 360.5 623.7 381.1 637.5 368.6 640.5 378 622.4 384.3 639.4 385.2 640.2 392.4 633.3 393 622.7 371.7 630.8 364.4 627.2 383.6 644.8 379.9 617.3 363.9 633.3 378.4 635.2 395.1 614.8 378.2 624.4 390.1 653.2 381.2 662 383.1 632.9 363.2 643.2 393 637.2 362.3 620.4 381.8 626.8 359.8 615.6 382.7 636 383.8 623.2 375.5 650.1 377.1 615.1 368.5 661.4 373.8 657.4 364.2 621.2 379.7 651.2 369.4 629.4 386.2 657 387.7 636.6 364.1 643.3 369 654.4 359 623.6 370 628.6 357.7 645.7 385.7 648.4 387.2 626.1 385.7 644.9 382.4 644.6 392.7 637.7 371 656.2 362.1 651.5 366.3 651.4 392.5 655.8 378 658.9 367.7 652.4 384.2 654.5 383 661 363.2 660.2 373.6 656.1 377.7 655 371.5 659.6 390 661.4 364.1 657.9 386.7 650.7 379.3 659.1 375.5 653.8 373.3 655 384.1 658.9 392.7 662.7 376 653.6 377 656 376.1 655.5 367.6 651.1 396.1 655.2 365.9 656.7 379.6 660.1 363.7 657.5 391.5 652.5 369.6 652.4 389.1 654.1 365.1 654.4 381.7 654.9 384.4 652.1 386.7 651.6 375.6 662.7 371.9 656.1 389.3 651 383.4 654.6 372.2 657.4 370 662.1 368.1 654 393.6 658.2 362.2 654.7 365.8 651.6 373.2"/>
<text x="202.3" y="423" text-anchor="middle">Soil, agriculture</text>
<text x="202.3" y="429.6" text-anchor="middle">fields</text>
<text x="202.3" y="436.1" text-anchor="middle"><tspan font-style="italic">n</tspan> = 2,793</text>
<text x="202.3" y="442.7" text-anchor="middle">PERMANOVA:</text>
<text x="202.3" y="449.3" text-anchor="middle"><tspan font-style="italic">R</tspan><tspan font-size="4.7" dy="-2.4">2</tspan><tspan dy="2.4"> = 8%, </tspan><tspan font-style="italic">P</tspan> = 0.001</text>
<use href="#cl" x="212.3" y="457.5"/>
<marker id="m25" markerUnits="userSpaceOnUse" markerWidth="3.24" markerHeight="3.24" refX="1.62" refY="1.62" overflow="visible"><circle cx="1.62" cy="1.62" r="1.2" fill="#4f7a30" stroke="#0a0a0a" stroke-width="0.42"/></marker>
<path class="mk" style="marker:url(#m25)" d="M212.6 516.5L209.3 524.5 215.2 511 218.1 522.2 214.4 521.8 226.6 508.5 204.8 519.1 220.7 520.5 221.6 516.8 226.8 510.1 226.4 512.5 230.7 509.7 221.6 509 216.9 508.5 227.5 511.4 200.2 518.8 224.4 516.9 200.9 521.2 220.2 520.7 205 516.9 204.7 517.3 221.1 515 212.1 522.1 213.1 520.1 230 505.1 226.5 502.8 215.5 510.4 224.6 518.7 221.2 510.6 216.5 519.4 227.8 521.9 215.2 514.2 221.8 507.2 227.9 506.5 214.8 523.4 209.8 517.7 214.5 512.9 207.6 515.8 217.4 510.7 217.8 523.5 199.1 522 228.6 508.1 197.1 522.9 217.4 523.9 210.3 515.8 229.3 519.6 203 523.5 220.9 509.6 215.4 526.2 212.4 523.7 224.4 519.5 212.3 524.7 218.2 523.2 212.1 522.7 206.9 522.7 200.2 521.7 228.8 514.7 215.2 510.6 229.5 516.9 227.1 512.3 221.1 517.2 205 525 230.9 504.7 222.5 509.6 225.3 522.3 203.7 522.4 223.4 508.4 224.4 514.5 203.6 517.8 228.1 514.9 206.5 520.4 226 523.3 228.4 507.5 226.1 515.7 218.1 518 212.1 512.5 216.1 524 213.5 516.4 208.7 519.8 228.8 517.2 222.7 508.9 219.1 508.3 211.7 512.9 205.4 517.1 220 515.6 206.2 518.4 226.4 513.9 225.8 518.1 228.8 515.2 219.4 516.9 217.1 516.5 223.4 509.2 219.5 526 212 515.2 219.7 518.2 213.1 523.6 212.3 520.3 220.3 517.7 221.4 523.2 203 519.7 230.2 500.5 226 521.7 225.1 503.5 217.7 525.2 206.8 524.2 215.3 513.2 213.9 521.5 208.7 522.6 223.4 504.9 222.9 518.8 214.1 523.5 203.7 517.7 213.1 512.9 196.6 521.8 214.7 515.6 221.3 510.9 204.5 521.2 217.6 510.3 204.6 521.4 224.5 518.6 223 507.6 210.5 518.5 211.8 518 231.2 509.8 218.6 518.9 216.4 519.9 223.1 523.5 220.4 525.7 227.4 511.8 214.6 526.2 217 517.4 214 522.1 217.6 511.7 221.1 512.1 229.6 512.1 210.9 520.1 213 525.8 220 518.7 210.7 523.4 218.9 521.6 201.4 524.4 230.5 502.3 222.4 509.7 230.2 509.4 211 525.7 227.4 512.3 221.9 521.1 225.5 519.9 229.9 501.5 197 522.5 200.2 523.8 201.5 518.7 208.4 521.7 215.1 514.3 210.2 517.1 226.6 514 224 515.8 216.1 513.1 220.5 508.3 214.7 510 214.4 526.2 214.1 522 225.3 511 222.1 514.9 226.9 508.7 208.2 519.9 221.7 513.9 225.9 516.3 198.5 521.2 212.1 519.8 222.5 516.8 203.6 518.1 200.7 520.4 229.4 517.5 199.1 521 228 505.2 201.7 522.8 230.7 505.1 224.1 522.6 207.9 520.9 215.3 523.1 203.9 522.9 215.6 513.9 211.9 518.3 218.5 513.6 204.6 522 204.4 518.6 230.1 502.6 227.2 507.3 220.5 510.1 213.2 518.3 225.2 513 218.3 521.5 219.1 523.2 219.5 521.7 224.7 520.7 222.6 515.4 202.8 521.7 210.5 522.3 224.6 515 222.7 511 213.8 513 209 524.4 225.6 515.8 213.2 521.1 206.1 525 206 522.5 213 523.5 223 504.7 205.2 515.9 213 521.7 204 518.2 209.6 516.2 228.2 511.8 218.2 519.4 228 516.6 197.3 521.4 216.4 516.5 220.3 509.7 226.3 516.6 219.2 524.6 227.9 516.8 217.3 514 224.7 515.3 219.5 509.1 216.9 518.4 213.8 524.8 213.5 522.7 201.4 520.2 207.4 517.9 222.2 516.9 196.2 499.5 227.5 508.3 197.7 503.9 208.2 500.2 218.5 518.6 207.7 482 198.4 510.9 205.3 496.2 196.2 516.3 189.8 511.7 194 515.8 194.6 509.9 186.2 509.6 193.5 516 182.4 516 190.7 513.7 181.3 508.7"/>
<text x="288.7" y="423" text-anchor="middle">Soil, natural</text>
<text x="288.7" y="429.6" text-anchor="middle">bogs, mires and fens</text>
<text x="288.7" y="436.1" text-anchor="middle"><tspan font-style="italic">n</tspan> = 509</text>
<text x="288.7" y="442.7" text-anchor="middle">PERMANOVA:</text>
<text x="288.7" y="449.3" text-anchor="middle"><tspan font-style="italic">R</tspan><tspan font-size="4.7" dy="-2.4">2</tspan><tspan dy="2.4"> = 0.75%, </tspan><tspan font-style="italic">P</tspan> = 0.001</text>
<use href="#cl" x="298.7" y="457.5"/>
<marker id="m26" markerUnits="userSpaceOnUse" markerWidth="3.24" markerHeight="3.24" refX="1.62" refY="1.62" overflow="visible"><circle cx="1.62" cy="1.62" r="1.2" fill="#3a8a4a" stroke="#0a0a0a" stroke-width="0.42"/></marker>
<path class="mk" style="marker:url(#m26)" d="M302.6 494.7L295.2 504.9 295.3 490.2 316.9 513.9 310.2 512.9 315.1 510.6 297.4 497.3 312.2 496.5 310.5 478.8 315.4 508.7 312.7 493.5 297.3 469 306.8 513.9 304.5 466.9 299.8 510.4 301.9 470.1 304.2 471.6 296.2 479.7 314.3 512.8 304.4 493.6 307.8 507.8 313.3 496.7 313.8 492.9 310.2 501.1 301.4 494.9 309.8 483.5 297.1 478 295.7 483.2 296 477.7 294.4 467.6 306.2 472.2 294.7 469.7 293.4 489.1 297.1 504.9 314 505.1 296.5 495.1 311 495.8 297.7 499.9 294 493.7 307.8 504.4 310.5 478.4 295.5 477.2 295 476.2 295.2 486.4 304.4 493.9 306.7 493.6 299.6 513.2 304.3 491.7 299 488 303.8 508.9 298.3 471.6 303.5 475.4 295.9 495.3 299.1 501 313.4 513.8 308.8 486.4 301.5 473 295.1 478.8 301 504 297.2 466.8 294.2 499.4 308.8 512.8 305.5 503.5 312.3 491.5 311.8 489.3 308.3 508.1 300.2 482.5 312.7 515.5 294.1 478.8 311.5 506 305.1 511 298.6 500.2 298.4 481.4 294.7 483.7 292.8 474.9 311.4 500.3 306.4 469.4 307 482.1 305.1 468.5 299.7 497.7 303.5 491.5 301.7 467 310.9 484.5 302.3 473.3 306.8 490.9 298.6 500.7 307.1 491 310.9 504.2 304.5 467.6 315.7 509.6 301.8 468.4 293.3 486.8 305.1 504.4 298.8 484 299.3 504.1 309.8 485.1 314.9 499.6 300.7 511.7 301.4 487.8 305.3 489.6 293.8 475.6 306.6 507.8 307.7 480.4 301.8 503.1 303.3 472.1 298.7 484.3 312.3 490.6 299.2 501.4 307.1 475.4 300.4 509.6 304.1 472.9 303.4 468.1 313.1 506.3 297.6 477.5 302.9 498.8 294.4 484.1 298.4 514.2 299.4 513 305.5 507.3 297.3 477 309.1 478.9 304.7 488.1 297.1 484 300.5 497.9 297.8 501 316 498.2 307.2 489.5 305.9 486.9 308.2 514.7 317.1 510.7 293.9 482.9 302.1 474.3 298.6 501.8 299.1 472.5 296.5 469.7 303.3 490.2 293.3 494.2 315.2 511.8 302.3 499.6 296.6 487.1 302.4 500.1 311.7 491.1 294.9 504.6 299.2 479.5 305.1 484.1 298.6 507.7 315.8 500.1 307.7 482.5 295.3 488.8 312.9 494.1 307.7 472.2 299.9 484.1 293.7 467.8 306.8 476.2 305 507.9 312.3 501.9 302.7 471.1 304.7 468 294.4 488.8 297.7 489.5 294.3 501.5 315.4 509.8 302 483.9 303.9 512.4 311.7 514.5 313.2 500.4 298.6 506.3 300.3 473.9 312.1 486.6 308.8 506.5 299.7 500.4 303.3 505.1 300.6 502 304.6 491.1 310 491.4 301.6 512.3 303.5 506.7 312.8 500.4 293.4 476.4 298.9 479.8 301.4 497.4 302.1 509.1 295.4 473.8 301.7 503.8 302.4 507.7 298 487.2 307.6 512.8 312.1 502.6 306.2 482.3 294.7 498.3 263.4 500.6 266.9 496.5 265.3 501.7 278.2 486.1 263.2 498.4 265 496.6 274.2 490.5 271.7 490.3 262.8 500.7 260.7 502.5 283.2 483.1 270.3 493.4 262.8 498.9 262 499.6 264.5 498.9 274.1 490.7 273.8 490.2 263 501.7 264.3 499.7 275.4 489.3 280.5 482.3 271.5 495.6 268 498.3 264.9 499.4 264 500.2 270.9 491.8 263 501.9 275.4 487.9 273.5 489.1 267 497.3 267.4 495.5 262.6 501.2 276 488 266.9 494.1 265.8 497.4 270.8 497.9 262.2 504.9 268.8 495.1 271 494.9 261.9 502.7 265.8 496.7 269.4 498.8 267.8 496.8 265.8 501.5 268.8 493.5 262.7 501.4 276.9 489.5 273.1 495.5 263.8 501.7 265.7 497.1 259.5 505.9 270.9 493.3 263.9 498.5 274.1 491.4 267.2 494.5 266.5 501.3 260.1 504.7 264.7 501.6 261.1 503.9 265.9 497.1 267.2 495.9 272.3 489.7 263.1 500.3 270.8 493.1 275.6 488.6 292.8 507.8 284.6 493.4 284.1 511.8 276.7 511.5 267.3 497.8 275.3 489.5 287.6 503 272.6 502.6 266.9 512.6 282.6 493.6 279.2 488.2 281.7 512 286.5 504.5 290.4 498.8 281 503.9 279.4 502.1 272.4 511.5 269.4 508.7 271.9 499.9 268.2 502.1 293 490.7 291.6 488.1 265.8 508.3 280.8 488.3 271.4 510.3 287.5 510.8 264.3 506.3 263 507.7 285.3 499.6 293.4 501.5 286.9 514.8 290.8 515.2 280.5 514.4 283.2 520.4 276.9 513.3 288.8 522 310.3 517.4 311.4 515"/>
<text x="375.1" y="423" text-anchor="middle">Soil, natural</text>
<text x="375.1" y="429.6" text-anchor="middle">coastal</text>
<text x="375.1" y="436.1" text-anchor="middle"><tspan font-style="italic">n</tspan> = 241</text>
<text x="375.1" y="442.7" text-anchor="middle">PERMANOVA:</text>
<text x="375.1" y="449.3" text-anchor="middle"><tspan font-style="italic">R</tspan><tspan font-size="4.7" dy="-2.4">2</tspan><tspan dy="2.4"> = 0.59%, </tspan><tspan font-style="italic">P</tspan> = 0.001</text>
<use href="#cl" x="385.1" y="457.5"/>
<marker id="m27" markerUnits="userSpaceOnUse" markerWidth="3.24" markerHeight="3.24" refX="1.62" refY="1.62" overflow="visible"><circle cx="1.62" cy="1.62" r="1.2" fill="#2a8a5a" stroke="#0a0a0a" stroke-width="0.42"/></marker>
<path class="mk" style="marker:url(#m27)" d="M384.1 479L395.5 500.2 397.7 496.8 396 500.4 392 498.9 388.1 486.3 395.1 494.7 382.3 481.8 387.6 464.7 381.2 476.3 389.2 470.1 394.9 497.7 392.5 488.3 386.9 466.7 393.4 487.4 385.1 471.5 398.4 499.7 403.9 511.8 394.2 500.6 395.6 501.7 392.6 489.8 389.3 472.6 384.7 467.9 399.2 502.1 392.7 482.4 389.4 499 391.3 483 390.5 481.7 385.1 477.3 384.9 479.7 388.3 501.1 393.8 481 383.9 472.8 384.4 470.1 393.1 487.2 389.7 471.5 392.5 506.9 391.8 494 393.9 495.8 392.1 512.9 397.4 505.1 387.6 483.4 389.8 472.8 393 476.6 394.6 494.7 383.2 484.3 382.8 472.6 391.5 503.3 389.5 492.8 395.5 509.7 395.9 500.8 391.4 489.6 388.7 480 391.3 483.8 389.9 477.8 381.8 468.2 396.3 482.4 395.6 488.7 387.1 473.6 397.7 504.2 395.6 497.6 388 488.4 382.3 471.7 386.3 479.1 401.1 499.8 385.2 478.1 388 479.9 389.3 483.4 387.1 475.3 394.1 491.3 396.4 501.5 399.8 504.8 388.9 470.3 388.3 482.6 400.8 512 390.3 496.5 396.7 501 389.9 503 387.3 468.4 380.3 476.5 395 500.7 384.2 470.2 387.8 487.5 396.6 493.3 396.3 498.3 390.2 485.5 383.7 472.7 391 495.2 394.2 498 384.4 481.2 387.4 483.1 387.6 479.2 381.9 463.7 397.9 497 387.3 476.3 396.3 503.1 392.2 493.8 383.2 473.5 388.9 479.1 380.5 470.1 399.7 503.6 393.2 485.2 394.1 500.2 385.7 481.6 384.1 476.5 390.9 485.1 387.6 475.2 388.8 472 390.1 489.9 378.3 469.1 387.8 481.4 391.5 495.7 390.2 469.6 382.8 468.1 386.8 482.6 391.4 489.7 392.8 472.2 396.7 510.6 392.5 493.1 400.8 509.6 390.2 490.6 390.9 496.9 390.8 487.3 389.7 495.3 388.8 498.7 395.2 500.2 392.7 490.1 395.5 501.1 392.4 492 383.7 475.7 385.7 466.5 380.2 473 395.1 492.2 391.4 480 381.9 477.2 395.2 498.5 384.4 466.9 387.2 471.4 391.7 499.7 399.2 509.6 386.2 484.8 383 466.6 387.5 466.7 397.5 501 393 492.1 391.7 482.7 392.3 481 397.3 499.3 382.7 474.9 391.8 503 374.6 513.2 391.5 513.4 372.8 513.4 368.8 516.1 368.2 509.9 367.7 521.3 351.3 510.1 394.7 511.1 362.8 514.7 384.7 511 367.8 519.7 368.9 510.8 364.6 519.2 375 511.6 365.7 487.3 368.9 514.6 381.1 512.1 362.6 498.8 394.1 489.5 372.7 481.7 372.2 501.8 386.9 465.3"/>
<text x="461.5" y="423" text-anchor="middle">Soil, natural</text>
<text x="461.5" y="429.6" text-anchor="middle">dunes</text>
<text x="461.5" y="436.1" text-anchor="middle"><tspan font-style="italic">n</tspan> = 558</text>
<text x="461.5" y="442.7" text-anchor="middle">PERMANOVA:</text>
<text x="461.5" y="449.3" text-anchor="middle"><tspan font-style="italic">R</tspan><tspan font-size="4.7" dy="-2.4">2</tspan><tspan dy="2.4"> = 1.78%, </tspan><tspan font-style="italic">P</tspan> = 0.001</text>
<use href="#cl" x="471.5" y="457.5"/>
<path class="mk" style="marker:url(#m27)" d="M461.1 511.8L443.6 509.6 447.3 516.8 440 500.1 439.8 505.5 438.7 514.1 437.4 501 445.1 500.5 442.8 505.7 455.9 522.2 440.9 515.2 462.7 510.9 458.3 522.3 461.9 505.6 432.6 506 448.2 511.1 437.1 510.9 442.8 510.8 444.2 508.6 458.4 523.4 441.9 504.6 461.7 518.1 436.6 511.7 440.4 503.5 453 510.8 443.3 511.1 458.9 503.9 454.5 510 451.1 511.7 447.6 504.7 442.6 507.8 456.9 508.6 450.7 507.7 446.2 508.7 462.6 523.6 441.4 510.2 456.8 517.2 435.7 508.8 459.6 519.3 449.9 516.8 459.3 510.6 447.8 509.4 445.3 506.5 449.1 520.4 462.4 507.7 441.6 504.4 457.9 520.4 439.3 499.6 433.4 504.3 452.4 516.7 451.5 516.6 461.5 510.5 441.8 508.8 434.2 502 454.1 519 453.4 512 451.9 519.1 455 503.7 439.8 514.7 451.6 505.5 443.3 506.8 448.8 509.4 456.4 504.2 438.3 511.6 459.6 522 451.9 508 462.4 507.7 457.2 507.2 459.7 510.2 437.9 511.4 451.6 514.1 441.4 503 461.3 509.3 456.3 520.7 450.3 508.1 442.4 515.3 456 516.6 461.8 521.8 438.8 500.8 445.9 505.2 445.7 512.3 451.2 502.1 433.7 508.9 449.1 503.1 450.3 515.4 459 516.2 449.1 518 458.9 512.1 461.5 507.8 456.9 517.7 446 506.3 459.3 511.5 441.5 513.3 454.2 512.2 454.1 507.2 448.7 519.9 455.6 513.7 449.4 514.4 450.2 501.5 448.6 501.4 456.1 511.7 461.2 504.4 461.4 506 450.6 517.7 438.5 513.9 450.8 511.3 462.2 512.7 456.1 508.2 433.3 502.8 440.7 514.8 455.5 513 442.7 502.8 453.7 515 455.6 502.4 450.5 505.9 462.4 515.7 437.6 506.5 456.9 513 454.5 516.3 451.7 521.1 433.6 502.5 461.5 510 433.7 503.8 447.5 511.6 450.1 515.8 455.9 508.5 461.2 514.2 433.8 503.7 435.7 508.5 457.3 507.1 452.8 502.4 451.2 508.1 433.1 507.8 444.9 518.3 444.1 513.5 453.7 504.7 455.8 515.3 459.7 521.3 441.6 513.8 444.8 509.7 444.1 504 440.3 499.4 457.4 505.8 450 511 458 511.3 457.6 511.3 448.7 505.1 440.6 509.3 443 505 461.6 516.4 444.1 503.4 436.9 502.2 447.9 511.3 441.8 503.7 436.4 505.1 437 510.5 460.1 519.9 456.4 520.4 455.3 508 440.4 514.6 460.1 505.3 452 503.1 455.2 521.4 440.5 510.6 451.4 502.4 439 500.8 452.5 514.2 443.7 510.7 442.9 515.5 443.1 512.6 463.1 518.6 449.2 505.6 450.3 512.4 443.4 512.1 444.5 517.2 437.5 501.1 463.2 516.3 442.9 505.5 457.2 519.9 454.4 514 443.9 504 438.5 504.3 447.6 511 441 513.3 440.8 507.1 442.9 500.9 447.4 513.4 453.7 507.8 451.8 513.8 441.5 513.6 486.9 498 468.8 513.3 485.2 519.9 476.5 494.8 464.3 525.4 473.6 498.3 480.1 508.9 475.8 523.1 471 510.8 471.7 514.4 482.5 519.9 483.2 502.5 482.4 514.5 484 499.2 468.5 503 479.2 524 468.5 524.3 472.2 493.9 472 498.1 472.1 493.2 465 518.5 476.8 505.7 478.3 515.4 467.7 507.3 467.3 503.6 478.2 509.2 469.9 498.5 468.4 522.7 482.6 518.8 486 494.8 470.8 499.1 482.5 498.2 483 492.9 484.5 514.6 474.5 490.3 470.3 492 483.9 508.7 478.4 504.5 473.1 524.1 477.6 497.3 470.1 500.3 469.4 505.5 477.9 512.7 485.1 496.5 474.3 520.2 487.3 504.2 465.5 524.8 472.8 518.8 487.7 510.9 480.8 493.8 466.1 515.9 464.1 513.6 465.1 516.1 470.9 504.9 487.4 506.4 470.2 521.3 464.5 499.9 482.1 489.7 478.6 525.9 466.9 512.3 472.9 521.7 465.4 524.2 488.1 509.1 480.6 502.2 463.9 521 473.5 496.8 467.3 511 480 498.3 471.2 524.7 465 515 481.8 513 484.7 521.3 475.4 497.6 485.1 517.9 483 523 488.5 510 487 514.9 479.9 490.5 481.4 504.1 482.4 502.7 486.8 502.2 479.4 495.8 468.9 523.2 473.6 512.7 486.1 507.9 465.4 520.6 477.7 520.6 480 497.8 476.8 507.9 476.1 514.5 484.1 519.2 466.9 499.4 487.1 511.3 473.1 513.2 468.1 514 463.5 492.3 481.8 500.5 486.2 519.5 465 518.6 465 493.2 472.4 506.6 469.1 512.3 488.6 506.1 471.9 514.3 483.9 518.5 483.5 520.1 480.1 494.8 482.7 522.1 464.4 514.4 476.3 505.7 473.9 519.3 458.9 503.2 449.1 500 479 489.5 470.5 523.1 435.6 505.2 479.7 508.7 443.9 499.9 482.3 498.3 486.5 491.8 460.7 481.6 469.3 485.4 451.1 487.5 456.7 514.1 485.8 491"/>
<text x="547.9" y="423" text-anchor="middle">Soil, natural</text>
<text x="547.9" y="429.6" text-anchor="middle">forests</text>
<text x="547.9" y="436.1" text-anchor="middle"><tspan font-style="italic">n</tspan> = 1,284</text>
<text x="547.9" y="442.7" text-anchor="middle">PERMANOVA:</text>
<text x="547.9" y="449.3" text-anchor="middle"><tspan font-style="italic">R</tspan><tspan font-size="4.7" dy="-2.4">2</tspan><tspan dy="2.4"> = 3.73%, </tspan><tspan font-style="italic">P</tspan> = 0.001</text>
<use href="#cl" x="557.9" y="457.5"/>
<marker id="m28" markerUnits="userSpaceOnUse" markerWidth="3.24" markerHeight="3.24" refX="1.62" refY="1.62" overflow="visible"><circle cx="1.62" cy="1.62" r="1.2" fill="#1f8a6a" stroke="#0a0a0a" stroke-width="0.42"/></marker>
<path class="mk" style="marker:url(#m28)" d="M527.4 511.2L522.5 500.4 534.5 498.6 524.4 501.3 526.5 500.8 533.3 502.9 528.5 515.5 524.4 502.4 535.5 505.3 522.7 502.3 537.6 512.4 536.3 497.4 532 501.3 532.4 509 534.6 502.7 532.4 509.3 531 503.2 533.6 513.1 524.3 507.1 529 496 536.7 509 525.1 496.9 522.6 507.4 533.4 501 525.7 506.6 531.8 507.2 534.4 500.6 527.6 500.2 524.7 503.5 525.4 499.7 537.6 513 537.5 503.3 537.1 497.4 521.8 503.3 525.9 509.7 530.3 507.7 532.7 518 530.9 501.1 537.5 496 528.9 502.7 526.6 501.8 522.9 511.1 529.6 500.9 533.1 499 522.7 498.7 530.3 511.6 529.9 502.2 533.9 505.4 533.1 497.2 536.9 516.6 526.7 510.4 533.6 517.8 530.2 507.5 530.7 517 519.5 502.6 520.2 505.7 525.8 497.3 533 498.4 537.1 513.9 530.6 513.3 529.2 508.9 534.7 515.4 537.4 521.2 530.5 505.5 535.9 503.8 530.2 516.6 531.6 501.1 530.5 500.8 522.4 510.7 529.3 506.8 526.3 497.9 535.9 512.8 524.3 496.5 537.5 515.2 527.5 507.1 530.1 498.3 536.4 516.3 529.4 509.2 524 503.8 527.2 507.1 524.7 508.5 533.5 506.1 533.8 504.6 531.4 506.4 533 498.9 536.6 512.3 533.9 513.9 528.6 508.1 533.1 507.9 534.7 518.9 526 507.5 537.6 501.6 530 501.4 531.1 500.1 525.6 510.9 520.5 502.5 534.3 514.6 536.6 506 528.2 505.7 525.3 499.6 522 502.8 530.3 498.2 534.9 500 534.4 508.6 526.4 503.3 524.1 506.6 522.9 505.2 536.7 499.8 533.3 519 525.1 498.6 535.1 517.8 525.5 495.9 535.5 513.8 529.3 504.4 533.1 513.7 536.8 519.3 537.8 504.2 533.5 506.5 528.4 498.4 529.6 496.4 530.7 503 532.4 512.5 534.1 505.6 530.6 503.9 535.7 503.1 534.2 518.4 529.2 509.3 520.3 503.2 522.7 503.5 526.1 506.9 528.3 508.1 527.1 499.8 528.9 504.4 535.4 507.4 534.9 502.3 530.9 512.1 529.1 508.2 524.7 513.2 530.4 516.6 534.6 519 537.5 513.6 532.6 516.2 532.8 505.8 529.1 505.4 531.8 511.9 521.2 507.8 536.9 500.8 521.5 506.4 532.1 499.7 536.2 519.8 543.7 512.2 543.6 516.6 537.2 512.5 556.7 518.2 537.9 512.1 542.6 510.5 539.9 517.2 560.9 519.6 564.9 511.2 558.3 523 572.8 514.4 544.9 518 538.5 516.9 572.5 512.3 546.6 512.4 558 516.1 526.6 512.4 545.5 514 538.5 515.6 534.2 516.1 555.3 519.6 562 521.9 569.7 516.9 566.5 515.3 548.3 520.3 565.6 511.4 533.4 518.1 569.5 519.2 532.3 512.5 572.1 513.1 544 516.9 571.8 516.8 536.4 514.9 561.5 519.8 570.9 513.8 553.5 521.9 558.5 524.3 542.4 517.3 553.7 519.7 563 518.5 544.7 510.7 573.3 517.2 543.5 518.5 566 520.7 553.2 513.9 569.7 511.7 552 511.1 551.5 523.5 533.5 516.8 557.4 516.1 561.4 522 553.6 518.1 565 520.2 561.5 524.3 541.7 515.6 543.5 521.9 537.4 514.2 541.5 521.9 556.3 515.9 532.6 513.2 572.1 514.1 560.3 518.7 533.2 513.1 572.5 517.9 541.6 510.9 541.6 519 544.9 515.8 547 521 537.3 518.9 554.4 522.8 568.2 518.2 556.7 523.3 550.3 513.5 525.4 510.7 575.4 517.3 574.5 518.4 557.1 514.6 566 515.1 568.2 521.4 526.6 512.9 539.9 511.5 535.9 517.8 557.2 523.8 549.5 523.5 569.7 522.9 552.7 522.3 565.7 516 545.7 513.3 564 517.2 570.5 518.9 572.2 518.2 570.5 513.2 556.9 521.7 537.2 514.7 571.8 512.9 543.8 514.5 550.5 523.1 565.6 511.5 561.5 512.4 557.1 518.2 544.1 512.9 564.8 510.6 549 520.2 554 525.6 564.4 519.3 549 522.3 552.4 511.8 536.4 518.2 563 512.9 544.4 520.8 552.6 522.9 551.9 523.1 560.8 510.9 551.2 515.9 540.4 521.7 535.6 517.1 548.2 518.1 533.5 513.3 567.3 514.7 557.3 519 548.1 521.9 547.4 512.4 547.8 522.7 553.1 520.9 562.1 517.6 538.3 516.7 559.8 522.9 562.3 517.9 538.9 521.4 543.3 522.2 552.4 510.6 553.7 512.4 561.1 523.3 554.1 523.9 539 515.9 543.8 519.8 543.8 520.7 559.6 513.8 539.4 521.8 569.8 519.9 554.4 517.7 551.5 523.7 540.9 516 547.8 524.1 537.2 516.9 552.5 511.2 560.7 526.5 524.9 511.9 566.1 519.8 574.3 519.9 560.5 523 530.6 514.4 559.7 523.8 535.9 511 555.2 518.3 555.5 514.5 525.7 510.6 545.8 523 560 512.2 572 510.9 563.1 514.1 568.2 515.5 565.7 521.3 576.6 511.3 555.9 514.9 568.9 518.1 564.7 520.2 529 511.1 550.7 523 568.2 515.8 567.9 514.1 568.6 482.9 568.3 509.4 567.8 501.9 576.1 516.7 569.5 504.2 561.6 526.3 566.7 480.9 560.9 521.2 562.9 486.6 571.1 505 563.5 486.5 573.2 493.5 563.6 521.5 569 504.4 572 519.6 570 503.6 565.2 521.7 564.8 520.8 572.4 494.1 568 496.4 572.8 487.5 561.2 515.9 573.9 494.1 570.5 509.6 573.2 512.4 570.9 481 567.1 525.2 566.9 490 573.7 507.5 576.6 507 573.6 488.6 563.9 517.9 567.1 489.2 561.8 523.8 562.3 519.8 567.1 513.9 566.8 501.5 570.3 478.4 567.9 521.3 573.2 488.5 566.5 509 570.2 483.1 569.5 504.5 574.5 511.3 563.6 487.7 573.1 506.5 570 515 569.3 505.9 576.3 509.2 572.2 518.4 562.7 484.6 570.6 504 564.1 495.7 568.1 499 573.8 504.5 572.3 516.4 566.1 493.7 569.2 509.5 568.3 494.5 574.7 503 567.7 509.2 575.1 505.7 572.2 486.4 566.7 517.6 563.6 486.3 566.9 520.9 566.6 519.9 562.2 519.4 572.5 504.9 566.5 499.9 568.6 486.4 569 480 570.4 480.5 568 490.6 563.3 482.5 574 493.2 566.8 481.4 565.8 488.4 567.5 498.5 570.5 501.1 569.4 517.8 574.1 499.3 570.3 477.9 570 498.1 563 486 575 495.5 570.4 514.4 569.8 479.7 565.3 489.8 572.1 516.2 564.9 485.2 569.3 477.9 567.8 482.9 563.2 515.8 575.6 507.4 567.6 490.6 573.2 504.6 576.6 509.7 572.6 503.4 569.8 514.4 576.9 507.2 562.1 520.5 570.4 487.1 575.4 508.9 560.8 518.8 572.1 511.4 571.6 507.1 569.3 489.8 572.2 504.2 573 505.9 574.8 518.5 563.2 521 572 495.6 574.9 509.7 566.8 484.3 567.5 501.9 573.1 488.6 567.6 480.4 575 507.9 561.3 517.2 569.7 509.3 569.6 478 567.4 502 567.6 512.2 569.3 487.4 563.7 516.8 563.5 520 571.3 504.6 567.3 520.5 572.7 511.1 565.9 524.2 567.8 481.9 571.6 496.1 566.2 480.6 570.9 492.6 570.7 495.7 573.3 489.3 570.7 502.3 569.7 492.6 572.7 501.5 572.6 500.1 570 502 571.4 513.3 567.2 502.2 571.5 516.2 563.5 519.1 565.7 499.7 565.9 515 570.9 514.8 575 509.7 569.1 522 568 479.2 567.2 523.6 571.5 512.2 568.9 477.5 575.8 502.6 568.2 496.2 563.3 521.1 571.5 516.5 575.8 514.2 566.7 480.2 570.2 518.6 568.9 478.6 572.2 518.6 570.5 498.7 571.5 501 568.8 499.2 569.8 507.4 562.7 515.7 544.2 485.2 575.4 507.4 529.4 510.1 568.7 494.2 542.6 506.8 566.8 482.4 546.5 477.9 540 482.5 552.2 514.3 549.3 488.8 552.3 479.2 543.1 478.3 529.9 506.5 531.2 497.3 571.4 493.8 548.1 492.5 565.4 485.3 544 510.9 544.3 484.3 574.8 516.1 552.3 508 548.2 501.2 569.6 477.6 544.6 514.8 540.4 495.7 547.3 522.4 523.7 501.3 553.6 497.1 549.3 480.8 548.4 479.7 558.6 490.4 558.5 490.2 561.1 499 547.4 521.6 573.2 490.6 572.2 516.1 526.2 499.2 528.2 507 546.2 480.9 523.5 507.8"/>
<text x="634.3" y="423" text-anchor="middle">Soil, natural</text>
<text x="634.3" y="429.6" text-anchor="middle">grassland formations</text>
<text x="634.3" y="436.1" text-anchor="middle"><tspan font-style="italic">n</tspan> = 1,372</text>
<text x="634.3" y="442.7" text-anchor="middle">PERMANOVA:</text>
<text x="634.3" y="449.3" text-anchor="middle"><tspan font-style="italic">R</tspan><tspan font-size="4.7" dy="-2.4">2</tspan><tspan dy="2.4"> = 0.78%, </tspan><tspan font-style="italic">P</tspan> = 0.001</text>
<use href="#cl" x="644.3" y="457.5"/>
<marker id="m29" markerUnits="userSpaceOnUse" markerWidth="3.24" markerHeight="3.24" refX="1.62" refY="1.62" overflow="visible"><circle cx="1.62" cy="1.62" r="1.2" fill="#1f9070" stroke="#0a0a0a" stroke-width="0.42"/></marker>
<path class="mk" style="marker:url(#m29)" d="M615.5 505.9L626.3 517.1 653 492.5 657 507.6 639.8 492.3 644.3 520 648.8 480 637.4 513.3 650.4 480.4 622.5 521 631.9 514.4 640.8 509.6 629.5 507.1 632.1 517.3 651.8 497.9 642.1 524.2 639.9 502.4 620 516.5 607.4 508.5 649.9 484 621 512.2 610.5 512.7 610.9 512.8 611.4 505.1 644.1 523.4 644.6 490.9 659 499.4 634.3 519.4 636.1 510.2 655.6 479.4 658.8 498.7 636.3 481.6 629 514.7 647.4 480.2 642.4 525.5 647.9 493.3 634.8 521.6 661.5 512.3 632 487.7 626.4 521 634 515.8 622.8 509.6 658.3 508.9 621.4 490 637.2 505.3 652.2 502.9 656.1 514.3 633.4 510.1 614.2 498.1 637.7 484.7 627.3 508.5 610.5 499.2 648.4 482.8 619.1 514.3 638.3 517 641 505.3 650.7 521.3 647.9 477.9 656.4 511.9 653.8 480 640.3 506.5 650 490.8 625.1 489.1 653.2 513.6 638.7 519.2 651.5 495.1 629.1 488.5 639.9 484.4 615.8 507.9 610.6 504 623 492.2 612.1 507.3 633.1 506.3 627.1 500.5 651.9 525.3 632.9 514.4 647.6 498.4 647.1 513 624.5 505.4 631.9 490 635.6 505.3 658.4 485.3 638.2 524 611.9 512.5 638.6 512.3 615.9 496.1 647.6 494.3 639.9 512.2 613.3 506.6 657.8 490.7 628.4 510.8 652.6 486.8 656.2 493.5 659.1 497.3 644 496.5 614.8 513.1 617.5 507.3 625.2 516.3 651.7 488.8 623.7 508.9 629.7 510.2 656.2 478.9 632.9 519.1 632.2 487.2 617.5 501.7 631.2 508.9 637.2 508.8 639.3 483 640.4 481.4 638.6 516.1 644 502.4 642.1 491 631.6 521.8 613.3 512.2 643.2 507.7 620.8 511.5 609.5 498 659.4 490.7 638.1 483.8 643.2 491.9 642.7 484.9 651.1 489.5 645.4 507.1 639.9 484.8 650.7 494.4 651.4 498.8 619.9 505.2 615.3 494.8 653 488.1 646.7 476.6 647.8 480.7 654.3 512.4 629.5 510.8 606.6 501.4 653.1 524.7 639.9 491.6 651.6 496.4 643.8 503.5 615.8 509.6 653.3 517.5 643.1 496.9 630.4 486.2 612.5 510.2 622.1 504 620.7 509.7 645.9 502.2 652.6 513.4 654.5 509.6 617.3 511.2 646.3 522.7 618.2 511.8 634.1 520.1 649.9 480.4 605.3 505.7 646.9 507.9 629.6 515.3 648.1 520.5 615.6 494.2 653.2 523.8 607.6 506.4 650 490.5 639 506.5 633.9 490.1 648.2 525 633.5 508.3 644.5 513.6 611.7 506.3 646 483.6 655.6 476.1 643.6 501.9 625.7 489.9 643 506.5 652.8 504.7 650.6 500.3 640.5 488.7 620.4 492.8 639.6 516.4 646 506.4 624.2 510 626.7 489 659 498.6 648.5 478.1 640.1 481.5 622.1 508.1 642.8 498.2 641.1 481.2 636 492.5 622.7 491.3 651.1 475.5 627.7 498.4 643 507.1 638 510.4 635.5 514.9 622.6 492 643.8 480.9 655.5 503.9 641.7 490.3 625.2 519.9 650 525.1 647.5 505.4 638.6 487.9 654.7 481.6 620.8 504.8 657.4 496.1 650.5 498.1 659.1 502.1 618.6 515.3 651.1 474.8 626.2 522.3 617.9 493.9 662.7 504.8 639.5 516.7 645.8 492.3 660 510.6 620 508.2 627.4 512.3 635.6 486.2 609.4 506.3 636 491.3 618.8 511.1 637.6 514.9 635.1 509.6 642.6 524.8 625.1 498.1 638.7 505.5 640.4 515.7 614.6 501.9 659.4 506 650.2 514.1 626.5 495.9 608.8 499.2 627.9 515.9 638.9 506.6 662.2 515.7 639.4 520.1 651.4 522.8 646.1 490 622 489.9 641.4 487.8 657.2 511 640.7 508.9 644.9 526.6 646.4 483.3 636.7 481.6 613.2 500.8 622.8 491.6 627.3 511.5 655.3 513.7 630.4 495.3 624.2 518.2 646.5 488.4 639.4 510.3 651.9 494.5 652.4 480.2 662.1 498.1 649.1 475.4 652.5 523.8 658.3 493.3 647.9 519.7 608.8 498.7 648.7 505.1 616.9 495.3 653.9 512.2 625.4 513.9 654 502.7 637 506.5 643 486.3 639.7 479.9 617.6 496.1 640.8 508.8 630.3 502.5 632.4 503.7 643.7 495 637.5 487.6 618.1 509.7 637.8 510.7 628.7 507.4 650.2 509.4 636.4 520.7 657.2 502.7 628.9 496.6 639.4 486.1 629.8 519.2 640.6 505 647 508 613 512.3 640.8 523.5 615.5 515.2 627.9 508.4 607.9 506.6 607.3 504.4 626 488 647.7 477.8 624.9 520.5 645.4 489 647.1 481.8 644.5 504.6 631.5 494.6 658.7 502.2 656.9 509.9 642.3 506 639.8 495.5 619.7 501 650.9 525.4 615.7 516.3 648.6 503.7 651.1 516.2 630.7 523.6 625.3 506.5 650.7 524.5 645.2 520.2 638.1 488.6 629 522.9 642.9 482.3 643.9 524.9 657.1 495.7 612.6 500.2 657.3 495.6 641.1 514.9 652.5 482.4 657 515.9 641.4 523.1 637 514.2 618.2 493.1 653.5 520.5 631.9 488 651.2 514.4 645.4 521 656.6 519 653.6 518.1 648.4 487.3 646.9 510.1 648.6 500.4 617.9 518 641.1 499.9 617.3 516.6 642.8 512.8 636.1 506.5 639.5 499 656.9 481.9 650.9 520.3 621.4 492.6 657.1 485 655.3 510.1 646 497.6 639.2 482.5 614.7 500.8 655.4 503.1 639 482.7 660.9 494.8 611 509.3 630.5 489.7 641.9 488.9 650.1 509.9 644.9 504.1 648.4 513.4 610 509.1 644.1 511.4 638.4 505.5 621.2 493.4 629.4 518.4 656.1 518.7 642.3 517.3 615.1 513.3 612.6 510 618.8 516 650.1 509 617.2 494.2 619.6 516 642 502.8 646.6 509.8 648.5 509.7 644.6 478.5 624.9 506.3 645.6 491.3 632.1 515.4 657.5 491.4 606 505 623.4 513.4 645.6 504.8 610.7 503 623 507.7 612.4 504.5 619.2 508.4 621.1 518.2 661.3 505.4 641.3 519.4 658 519 653.7 493.1 651.6 502.2 650.8 489.9 648.2 505.9 650.2 483.3 645.9 515.1 648.7 506.9 635.1 507.2 653.8 496.7 628.7 520.5 656.1 485.7 653.1 509.8 658.5 509.1 652.4 514.4 640.1 514.9 649.1 481.2 630.4 509.5 660.5 498.4 615.6 494.5 623.9 513.9 623.8 511.6 641.7 486.2 654.5 489.4 646.2 506.4 646.5 519.5 644 501.7 641.9 524.4 620.3 518.1 617.6 515.1 654.7 476.7 651.9 516.5 654.4 492.3 661.6 506 645.7 487.2 646.5 496.1 652.9 495.9 639 491.9 611.2 510.6 632.2 487 644.4 522.1 630.5 512.9 653.5 497.5 641.4 499.8 617.9 492.5 619.4 519.1 609.5 499.8 641.5 517.1 635 523.9 648.8 488.5 639.2 520.8 655.5 497.8 637.9 509.4 625.3 519.3 650 523.3 633.3 484.5 624.1 516.6 648.4 495.2 661.6 515.7 619.9 496.5 656.8 488.5 627.7 506 643.8 483.5 617.3 505 648.8 487.6 639 506.6 654.1 508.6 626.7 506.9 626.1 498.5 629.3 509.4 627.7 512.6 652.9 508.5 624.5 490.5 660.6 520.1 624.4 496.1 636 492 649.2 519 625.6 522 658.3 497.8 644.3 522.2 634.1 517.9 650.5 509.6 614.5 505.5 643.1 507.3 610.7 509.2 644.8 479.9 650.5 478.9 635.1 518.8 653.4 525 622.3 515.3 607.5 504 634.6 521.9 611.3 499.6 657.7 503 637 506.6 632 505.9 617.4 514.9 655.2 482.5 615.9 492.9 654.2 513.5 638.6 488.5 642.4 490.2 641.3 481.7 615.6 511.5 638.2 515.2 608.5 499 649.2 490.4 662 504.9 653.6 487.6 657 518.1 649.8 491.7 611.2 497.2 612.1 499.8 612 502 627.7 506.5 632.4 498.9 635.8 511.6 656.7 502.9 653.9 525.3 646.3 481.5 657.5 516.7 650.8 491 641.3 525.1 617.1 513.7 617.2 496.1 654.3 521 659.9 521.2 644 489.5 651.9 510.5 641.5 520.2 639.8 485.5 637.9 504.7 609.6 509.5 643.4 521.4 649.4 517.1 617.3 508.7 652.2 474.7 657.4 498.5 643.4 503 641.8 484.7 614.3 495.2 649.8 504.8 639.3 507.5 651.1 498.4 622.3 519.8 638.1 490.8 655 477.9 617.6 509.8 646.4 480.6 622.6 518.7 624.6 512.6 658.7 502.2 641.6 493.6 616.9 511.2 610.7 505.5 657.1 483.8 660.7 498.6 617.7 509.6 611.6 496.7 632.2 510 651.8 517 661.5 505.5 627.6 492.7 629.8 508.5 631.5 487.1 643.4 509.6 624.2 521.7 619.3 495.7 624.7 509.2 615.1 500.4 621.4 511.7 606.3 506.7 649.4 513.5 632.9 505.6 628.5 481.6 628.3 493.9 642.2 513.7 648.6 476 615.5 496.3 655.1 504.7 626.7 495.7 620.5 508.4 649.1 523.9 635.1 483.3 636.6 492.2 615.2 507.1 638.2 525.7 651.7 473"/>
<text x="202.3" y="553" text-anchor="middle">Soil, natural</text>
<text x="202.3" y="559.6" text-anchor="middle">rocky habitats and caves</text>
<text x="202.3" y="566.1" text-anchor="middle"><tspan font-style="italic">n</tspan> = 22</text>
<text x="202.3" y="572.7" text-anchor="middle">PERMANOVA:</text>
<text x="202.3" y="579.3" text-anchor="middle"><tspan font-style="italic">R</tspan><tspan font-size="4.7" dy="-2.4">2</tspan><tspan dy="2.4"> = 0.12%, </tspan><tspan font-style="italic">P</tspan> = 0.001</text>
<use href="#cl" x="212.3" y="587.2"/>
<marker id="m30" markerUnits="userSpaceOnUse" markerWidth="3.24" markerHeight="3.24" refX="1.62" refY="1.62" overflow="visible"><circle cx="1.62" cy="1.62" r="1.2" fill="#0f8a7a" stroke="#0a0a0a" stroke-width="0.42"/></marker>
<path class="mk" style="marker:url(#m30)" d="M190.2 640.1L186.9 640.1 187 639.8 181.9 641.2 193.7 642.4 185.1 637.4 187 642 180.5 643.6 190 638.7 183.8 642 181 643.4 191.8 639 189.9 637.9 182.5 641.8 186.4 635.4 198.5 647 202.3 646.7 228.2 637.1 194.3 640.2 185.3 634.2"/>
<text x="288.7" y="553" text-anchor="middle">Soil, natural</text>
<text x="288.7" y="559.6" text-anchor="middle">sclerophyllous scrub</text>
<text x="288.7" y="566.1" text-anchor="middle"><tspan font-style="italic">n</tspan> = 53</text>
<text x="288.7" y="572.7" text-anchor="middle">PERMANOVA:</text>
<text x="288.7" y="579.3" text-anchor="middle"><tspan font-style="italic">R</tspan><tspan font-size="4.7" dy="-2.4">2</tspan><tspan dy="2.4"> = 0.23%, </tspan><tspan font-style="italic">P</tspan> = 0.001</text>
<use href="#cl" x="298.7" y="587.2"/>
<path class="mk" style="marker:url(#m30)" d="M264.3 637.8L263.7 640.4 263 640.8 266.4 637.6 261.8 636.3 265.8 643.6 264.2 637.5 268.2 638.6 261.6 638.9 265.3 639.1 263.1 638.6 262.6 638.8 264.5 640.6 265.3 642.1 261.2 636.1 265.2 640.9 264.4 638.5 262.9 639.7 265.7 641 261.7 637.2 265.2 642.4 266.1 640.4 262.5 638 263.6 639.8 261.8 639.2 261.7 637.6 264.9 636.8 265.2 637.8 263.4 639.2 265.6 638.7 272.7 641.7 273.7 645.2 278.7 649.2 288.7 645.7 294.7 646.7 301.2 646.7 304.7 645.7 308.7 641.7 309.7 635.8 313.7 639.2 265.7 630.7 306.7 644.2"/>
<text x="375.1" y="553" text-anchor="middle">Soil, natural</text>
<text x="375.1" y="559.6" text-anchor="middle">temperate health and scrub</text>
<text x="375.1" y="566.1" text-anchor="middle"><tspan font-style="italic">n</tspan> = 338</text>
<text x="375.1" y="572.7" text-anchor="middle">PERMANOVA:</text>
<text x="375.1" y="579.3" text-anchor="middle"><tspan font-style="italic">R</tspan><tspan font-size="4.7" dy="-2.4">2</tspan><tspan dy="2.4"> = 2.52%, </tspan><tspan font-style="italic">P</tspan> = 0.001</text>
<use href="#cl" x="385.1" y="587.2"/>
<marker id="m31" markerUnits="userSpaceOnUse" markerWidth="3.24" markerHeight="3.24" refX="1.62" refY="1.62" overflow="visible"><circle cx="1.62" cy="1.62" r="1.2" fill="#0f7f78" stroke="#0a0a0a" stroke-width="0.42"/></marker>
<path class="mk" style="marker:url(#m31)" d="M362.2 641.8L363.4 645.7 360.5 629.8 357.7 643.4 354.5 631.1 354.1 628.4 350 631.7 355.1 629.3 357.8 628.4 359.7 640 360.5 635.6 362.4 623.5 356.7 641.4 357.6 636.7 363.2 630.9 360.5 640.5 353.4 626.9 358.1 621.9 358.5 635.2 362.4 644.3 362.3 632.7 352 634.2 353.8 626.1 356.1 643 353.9 625.8 362.9 642.6 355.2 639 354.7 640.2 361.1 644.2 357.8 639.4 351 631.6 354.6 640.2 361.7 620.7 363.3 641.9 350.3 629.3 354.3 625.5 357.2 636.2 348.9 637.3 355.5 637.7 361.5 627.2 350.2 640.9 354.1 626.8 354.1 631.5 359.4 632.2 358.7 640.8 354.6 641.8 352.4 636.4 349.7 634.1 345.6 635.1 354.4 638.3 350 630.7 357.1 622.3 355.7 627.7 363.4 644.2 357.3 639.7 360.2 641.6 359.2 622.3 363.2 633.7 356.1 622.5 356.4 629.2 360.1 639.4 357.6 622.8 351.7 643.1 363.6 635.4 358.7 637.6 353.2 624.8 358.6 629.8 350.9 634.6 363 645.4 358.6 625.4 358.6 638.2 352.1 635.2 358.5 626.2 359.1 637.3 351.7 643 353.9 627 358.4 644.4 357.8 635.3 362.4 633.4 351.5 639.3 351.6 641.2 351.2 627.3 362.4 645.9 353.7 624.7 362.3 632.3 362.8 637.5 349.6 639 360.9 625.2 353.4 641.2 355.6 627.4 360.5 638.8 353.6 632 359.6 629.3 361.5 624 355 641.6 351.1 634.6 355.4 639 351.2 628.7 357.4 624.8 353 643.2 350.2 633.7 358 630.1 360.7 633 363 639.3 351 639.5 350.6 633.8 358.5 639.1 359.2 627.9 352.6 634.1 349.4 634.2 349.5 640.7 349.7 630.8 356 640.5 347.2 637.1 361.2 633.3 350.4 641.8 360.6 626.5 357.5 638.2 356.9 640.9 353.7 639.6 350.5 633.5 347.2 633 362.3 636.9 357.6 634.7 358.1 639.4 362.8 640.5 361.8 623.9 361.5 627 359 623.3 352.6 637.5 356.6 644.7 361.7 644.5 360 630.6 346 635.2 357.9 635.7 359.2 625.7 355.7 626.9 354 642.8 359.7 643 359.8 638.1 361.7 646.1 349.1 637.7 356.4 635.8 350 632.7 362.4 621.3 354.7 645.2 361.2 624.9 350.4 636.7 356.8 621.6 354.9 645.5 363 630.4 350.3 638.9 352.7 627.7 359 635 356.8 637.2 361.1 620.6 360.4 637.7 357.9 625.2 358.5 625.4 363.4 641 358.6 632.9 355 628.9 362.2 621.8 359.2 638.8 353.1 640.9 362.8 639.7 352.9 625.5 358.5 621.6 362.7 630.2 354.1 635.9 356.2 630.7 356.9 628.6 354.6 625.9 352.6 629.4 360 634 362.1 633.5 356.2 631.7 353.1 629.5 362 645.7 353.5 625.3 353.5 640.3 356.8 620.5 348 633.6 354.5 642 361.8 635.2 349.8 638 360.2 633.7 355 628.6 361.2 636.1 356.7 636 357.1 614.2 365.1 617.2 367.1 623.2 383.1 625.7 383.1 630.7 373.1 643.2 379.1 646.2 400.1 640.2 399.6 648.2"/>
<text x="461.5" y="553" text-anchor="middle">Soil, urban</text>
<text x="461.5" y="559.6" text-anchor="middle">greenspaces</text>
<text x="461.5" y="566.1" text-anchor="middle"><tspan font-style="italic">n</tspan> = 698</text>
<text x="461.5" y="572.7" text-anchor="middle">PERMANOVA:</text>
<text x="461.5" y="579.3" text-anchor="middle"><tspan font-style="italic">R</tspan><tspan font-size="4.7" dy="-2.4">2</tspan><tspan dy="2.4"> = 1.24%, </tspan><tspan font-style="italic">P</tspan> = 0.001</text>
<use href="#cl" x="471.5" y="587.2"/>
<marker id="m32" markerUnits="userSpaceOnUse" markerWidth="3.24" markerHeight="3.24" refX="1.62" refY="1.62" overflow="visible"><circle cx="1.62" cy="1.62" r="1.2" fill="#0f8a80" stroke="#0a0a0a" stroke-width="0.42"/></marker>
<path class="mk" style="marker:url(#m32)" d="M471.4 647.2L485.4 638.4 486.2 634.1 478.6 643.1 470.3 649.1 442.8 643.8 441.6 645.1 456.2 649.2 480.3 631.5 489 643.7 485.4 649.6 480 631.9 483.5 646.3 481.9 632.7 452.9 643.9 438.5 643.6 477.6 627 487.3 648.2 453.1 644.7 482.1 635.5 483.6 631.4 475.7 648.8 486.4 636.9 455 644.8 457 650.5 468.4 655.1 481.9 653.9 461.4 652.1 456.8 652.6 439.8 638.2 489.3 636.4 481.2 638.9 487.7 634.6 461.2 651.7 480.4 654.7 460.1 651.4 489.2 642 487.6 647.9 479.7 639.5 485.9 647.7 468.9 650.2 483.3 647.1 439.9 644.3 480.1 655.4 483.7 628 438.5 641.3 467.9 649.2 443.2 644.5 488.8 646.4 442.3 644.8 478.9 627.2 487.4 632.2 467.4 651 442.4 639.5 479.8 625.6 484.5 633.5 454.6 648.2 473 646.8 487.2 630.5 481.2 635.8 441.8 640.2 487.1 644.2 484 642.9 487.2 627.6 482.9 644 486.3 627.8 476 653.8 487.6 628.9 453.4 644.5 487.7 647.1 482.5 654.3 489.3 647.6 485 639.1 466.1 647.6 468.4 646.9 469.4 648.9 470.7 653.1 489.8 641 482.7 631 450 647.2 438.8 641 442.2 644.6 463.7 654.4 472.8 648.7 468.9 653.3 482.1 644.7 487.1 639.6 439.3 636.6 463.1 648 460.9 649 445.7 643.8 477.1 644.9 490.3 640.9 435.4 636.8 459.9 648.3 457 644.9 474.7 650.6 473.6 652.7 478.3 652.9 484.5 629.5 477.6 646 481.6 652 471 650.7 469.4 652.2 487.5 633.9 482.6 641.1 477.2 650.4 471.9 651.6 484 634.5 438.8 637.6 467.3 647.3 479.8 653.3 478.1 644.9 453.5 645.6 480.3 633.8 462.4 650.1 489.1 629.8 478.3 625.3 488.5 645.7 482.2 646.9 482.9 628 489.2 627.5 435.2 636.5 464.4 654 478.9 627 485.7 628.7 480.5 650.8 476.1 646.4 450.2 643.7 482.5 649 479.2 638.3 440 637.8 477.3 644.8 439.4 639.8 436.3 638.3 468 645.8 483.8 634.7 452.3 650 480.8 639.7 478 631.9 439.6 639.7 457.7 644.4 480.4 650.4 434.9 636.5 488.3 635.1 473.2 652.6 469 654 478 644.1 471.8 651.3 472.6 648.3 456.4 645.5 479.6 653.2 485.5 626.5 478.7 628.8 475.2 650.7 481.1 647.3 437.9 638.6 454.4 646.5 481.3 642.4 478.6 641.2 448.2 646.6 440.2 637.1 484.5 642.6 489.9 645.8 486.5 650.2 468 649.7 465.9 654.3 458.7 651.7 470.1 652.5 469.5 646.2 478.9 650.9 461.3 653.6 448.5 646.8 485.9 648.7 432.1 636 472.5 656.1 432.4 636 449.7 645 442.9 640.2 488.5 645 464.8 648.3 465.6 652.6 486.1 645.9 479.7 639.9 451.1 646 472.5 650.6 473 646.4 487.7 632.4 484 648.4 452.3 645.7 481.9 639.8 458.4 646.1 453.1 647.5 460.3 645.9 490.2 640.5 458.4 652.8 466.5 647.4 486.3 634.8 438.2 640.7 485.7 642.8 480.4 631.4 483.4 653.4 468.4 652.1 477.7 650.7 467.1 647.2 478.7 626.8 476.6 644.8 478.4 628.3 475.3 652.3 471.6 646.7 451.4 644.6 488 638 482.3 638.9 481.6 626.8 472.8 651.1 476.9 651.3 470.5 653.6 460.8 649.7 468.3 650.5 442.3 642.2 444.7 646.1 479.7 637.3 448.5 648.2 469.7 647.3 484.7 652.5 487.2 638.2 455.1 644.6 445.6 647.4 482.3 626.7 456.9 651.2 470.7 656 458.1 649.8 481 630.9 446.9 641.6 479.4 635.9 482 643.8 453.9 645.5 456.9 647.6 476.1 644.4 482.8 628.5 488.3 630.7 481.1 654.8 471.8 645.4 486.8 626.6 468 651.1 483.5 639.8 479.7 634.1 472.4 647.4 474.3 654 478.4 633.3 475.4 648.9 481.9 631.5 485.3 639 484.1 640.9 488.3 634.9 484 634.2 485.6 626 488.2 650.1 483.5 651.7 462 650.5 453.3 650.1 487.2 644.8 467.9 650.9 489.6 646.5 466 648.8 472 654.9 479.4 630 458.2 652.2 467.1 651.4 479.8 645.7 482.4 652.5 479.1 633.3 453.5 647.8 457.3 648.4 483.5 625.8 481 632.7 490.1 636.6 473.6 647.1 484.3 645.8 479.3 647.5 456.6 646.8 459 651.9 480.7 626.1 486.1 638.8 440.1 637.6 469 648.1 442.4 641.4 450.4 645.6 437.9 639 480 648.8 442.3 646 486 626.6 453.5 649.1 485.4 638.9 447.4 646.7 480.6 641.8 485.6 628.2 454.3 651.7 462.4 651.1 481.7 629.1 484.9 648.6 443.6 646.9 488.9 628 453.6 651.9 457.2 648.1 488.7 632.3 488.7 630.3 480.4 626.3 474.7 654.1 479.5 631.7 472.3 654.7 450.3 650.4 462 648.8 455 649.4 481.5 649.7 466.2 649 455.8 649.9 482 633.3 489 626.2 455.3 651.6 483.1 632.1 476.6 647.7 482.4 646.7 479.7 649 457.2 648.9 467.7 652.9 473.5 645.6 468.7 653.1 484.7 625.5 472.8 654 478.5 605.2 471.5 622.2 483.5 620.2 446.5 628.2 441.5 632.2 434.5 631.2 484.2 638.1 448.5 633.7 489.5 642.9 486.1 648.2 442.5 634.8 446.2 627.7 468.7 632 480.9 652.6 486.7 651.8 456.6 647.5 479.2 638.5 455.7 641.3 484.2 651.9 451.5 649.2"/>
<text x="547.9" y="553" text-anchor="middle">Water, natural</text>
<text x="547.9" y="559.6" text-anchor="middle">saltwater</text>
<text x="547.9" y="566.1" text-anchor="middle"><tspan font-style="italic">n</tspan> = 21</text>
<text x="547.9" y="572.7" text-anchor="middle">PERMANOVA:</text>
<text x="547.9" y="579.3" text-anchor="middle"><tspan font-style="italic">R</tspan><tspan font-size="4.7" dy="-2.4">2</tspan><tspan dy="2.4"> = 0.19%, </tspan><tspan font-style="italic">P</tspan> = 0.001</text>
<use href="#cl" x="557.9" y="587.2"/>
<marker id="m33" markerUnits="userSpaceOnUse" markerWidth="3.24" markerHeight="3.24" refX="1.62" refY="1.62" overflow="visible"><circle cx="1.62" cy="1.62" r="1.2" fill="#1a6a9a" stroke="#0a0a0a" stroke-width="0.42"/></marker>
<path class="mk" style="marker:url(#m33)" d="M557.9 612.4L550.6 610.8 556.2 611.3 558 609.5 556.1 612.6 554.7 611.7 554.2 614.4 554 608.3 553.6 610.8 555.8 608.4 551.6 608.8 553.8 611 555.1 612.6 554.3 611.6 553.9 608.6 550.7 610.1 555.9 609.5 559 613.3 557.3 611.4 553.4 611.8 556.6 610.4 555.3 611.5 553.7 611.2 550.6 605.8 556.4 609.9 556.7 612.1 560.9 616.7"/>
<text x="634.3" y="553" text-anchor="middle">Water, urban</text>
<text x="634.3" y="559.6" text-anchor="middle">wastewater</text>
<text x="634.3" y="566.1" text-anchor="middle"><tspan font-style="italic">n</tspan> = 143</text>
<text x="634.3" y="572.7" text-anchor="middle">PERMANOVA:</text>
<text x="634.3" y="579.3" text-anchor="middle"><tspan font-style="italic">R</tspan><tspan font-size="4.7" dy="-2.4">2</tspan><tspan dy="2.4"> = 1.54%, </tspan><tspan font-style="italic">P</tspan> = 0.001</text>
<use href="#cl" x="644.3" y="587.2"/>
<marker id="m34" markerUnits="userSpaceOnUse" markerWidth="3.24" markerHeight="3.24" refX="1.62" refY="1.62" overflow="visible"><circle cx="1.62" cy="1.62" r="1.2" fill="#62b4d2" stroke="#0a0a0a" stroke-width="0.42"/></marker>
<path class="mk" style="marker:url(#m34)" d="M647 607.3L647.9 609 644 609.2 641.3 604.6 643.7 606.8 646 607.2 646.7 603.4 647.1 606.3 643.3 611 642.6 607 639.2 607.7 637.6 610.1 641.9 608.7 642.4 607 643.9 605.3 640.7 602.3 644.9 612.1 645.2 605.5 639.7 606.8 641.8 609.1 642.3 608.7 641 611.1 642.3 611.1 643.4 606.6 643.2 608.6 638.7 607 646.2 609 644.3 607 642.6 607.9 644.3 609.2 646.8 607.5 644.4 609.4"/>
<path class="ax2" d="M161.6 324.9V406.4M161.6 453.6V535.8M161.6 584.9V665.1"/>
<path class="ax2" d="M161.6 665.1H243.5"/>
<path class="ax2" d="M248.3 665.1H330.2"/>
<path class="ax2" d="M334.7 665.1H416.6"/>
<path class="ax2" d="M421.1 665.1H503"/>
<path class="ax2" d="M507.5 665.1H589.4"/>
<path class="ax2" d="M593.9 665.1H675.8"/>
<text x="158.4" y="494.8" text-anchor="middle" transform="rotate(-90 158.4 494.8)">PCO2, 10.5%</text>
<text x="420.6" y="673" text-anchor="middle">PCO1, 20.1%</text>
</g>
<g id="panel-d">
<text x="-0.3" y="484" font-size="10.8" font-weight="bold">d</text>
<text x="77" y="487.4" text-anchor="middle">Soil, natural</text>
<text x="77" y="493.8" text-anchor="middle">bogs, mires and fens</text>
<text x="77" y="500.3" text-anchor="middle"><tspan font-style="italic">n</tspan> = 509</text>
<path class="ax2" d="M9.7 502.5V637.3H145.7"/>
<text x="6" y="570" text-anchor="middle" transform="rotate(-90 6 570)">PCO2, 10.5%</text>
<text x="77" y="646.2" text-anchor="middle">PCO1, 20.1%</text>
<marker id="m35" markerUnits="userSpaceOnUse" markerWidth="5.32" markerHeight="5.32" refX="2.66" refY="2.66" overflow="visible"><circle cx="2.66" cy="2.66" r="2.3" fill="#fff" fill-opacity="0.45" stroke="#2a2a2a" stroke-width="0.36"/></marker>
<path class="mk" style="marker:url(#m35)" d="M65 587.1L102.3 526.2 92.5 525 110.5 549.8 113.6 583.3 106.2 592.3 90.3 534.4 88.6 571.4 118.9 577.7 117.8 583.1 70.3 599 97.8 606.4 75.8 598.9 124.3 596.5 103.1 621.2 87.6 532.9 108.7 543.4 71.4 588.3 112.7 555 98.1 561.8 121.2 587.8 100 603.3 87.7 611 45.6 601.8 65.9 602.2 60.2 588.6 50.4 580.4 76 615.6 74.2 543.2 63.7 595.4 118.1 575.2 104.3 535.9 111.3 570.8 34.7 574.6 93.7 568.4 81.5 534.6 109 537 94.8 546.2 66.7 570.6 106.9 559.4 109.4 592 83 612.7 94.8 604.6 99.5 560.6 108.3 592.9 100.3 612.7 81.7 598.5 67.9 545 69.9 585.4 42.2 595 105.2 539.7 80.3 564.6 95.5 564.2 81 597.2 97.1 578.7 115.2 572 103.2 539.4 105.2 576.9 114.4 549.8 116.5 602.9 76 584.7 116.5 581.7 107.7 605.7 67.2 543.3 55.3 602.6 66.2 567.8 112.9 589.5 113.7 578.3 82.1 614.2 40.1 587.9 92.3 565.1 90.9 584.5 98 552 104.2 562 92 577.7 95.9 580.4 116.8 554.8 32 585.5 56 559.3 97.3 595.6 82.7 526.9 63.4 603.7 73 587.4 96 603.5 86.7 537.8 95.4 554 86.6 554.3 93.2 554.6 113.6 590.2 89.1 557.5 96.8 538.3 106.2 610.1 61.2 592.7 102.9 538.7 108.8 573.4 69.9 573.3 109.6 544.4 98.6 554.1 84.5 544.4 96.9 563.2 100.7 604.2 109.5 593.8 74.5 540.8 77.1 538.3 90.5 550.7 89.8 582.2 69.8 592.5 111.9 571.9 86.2 532.5 108.6 588 99.7 566.6 44.3 597.6 124.3 598.8 74.3 551.1 91.9 603.8 116.2 565.5 83.5 600.7 100.9 522 119.6 608.7 64.6 613.2 71.7 539.1 102.8 577.2 38.5 580 89.8 613.2 55.9 606.5 95 589.4 90.5 611.9 90.3 549.9 88.2 605.8 77.7 538.4 109.3 570.9 78 607 75.5 616 124.7 576.2 112.7 553.5 109.2 576.7 97.1 536.4 89.9 598.6 39 592.1 85.2 587.1 86.9 619 104.8 613.1 124.4 606.1 120.7 606.7 63.2 546.8 126.6 590.4 63.7 588.7 108.1 574.7 60.2 584.9 119.4 579.3 73.1 617.1 104 565.5 96.5 600.3 58.6 611.4 68.7 601.5 96.1 565.7 96 536.8 111.5 583.8 105.9 594.9 35.2 579 104.3 528.2 55.8 559.6 92.3 609.2 45.3 567.3 84.3 548.3 43.2 604.4 95.9 528 117.6 586.1 92.6 544.6 90 559.1 101 579.5 94.3 587.8 95.1 524.7 73.1 614.1 101.2 525.9 111.9 602.6 67.9 596 94.6 588.3 108.2 565.6 115.3 605.6 94.7 534.5 69.9 564.8 122 590.9 96.9 564.2 99.6 582 67.3 576 66 545 124.3 583.4 68.3 570.1 91.7 567.1 86.1 593 88.4 576.6 44.2 565.5 124.4 574.8 83.2 586.6 109.5 531.3 121.8 606 75 532.6 63.6 564.1 88.7 527.2 103.7 564.3 98 561.5 96.8 594.1 54.1 554.2 63.4 603 117.1 573.3 94.4 579.3 107.2 535.9 58.6 607.2 92.1 535.8 95 607.8 107 579 71.8 576.1 98.1 530.4 116.6 603.5 70.4 538.1 116.8 616.4 80.2 594.8 88.9 543.1 51.5 565.3 67.2 604.5 115.4 614.9 94.2 581.1 101.4 594.4 103.7 525 94 610.8 103.4 599.3 93.3 608 110.3 533.3 121.7 583.4 114.4 566.1 96.3 537 115.5 611.6 93.6 578.4 79.8 565.4 100.9 578.3 55.9 574 110.7 620.1 106.1 554.6 55.8 592.3 93.5 534.9 107.4 610.4 76.2 540.2 112.4 538.3 90.8 521 58.2 574.9 108.2 553.3 119.1 588.9 105.5 584.7 87.7 548.3 86.5 609.1 93 554.2 91 602.9 96.2 570.2 48.2 603.6 109.2 562.8 86.5 596.9 89.9 534.9 109.1 544.3 96.1 523.8 124 592.5 82 524.9 104.4 606.7 94.6 510.2 67.6 545.2 115.7 556.9 86.8 611.3 53.3 594.7 37.9 585.6 100.5 587.1 98.2 569.4 85.7 588.6 76.8 610.7 86 566.5 99.4 609.3 125 596.2 72.7 574.2 102.4 554.6 84.9 566.9 110.8 532.4 123.3 572.5 106.3 617.6 105 613.6 122 595.1 96.3 535 106.7 603.5 100.1 529.3 120.7 592.5 101.2 522 104.6 606.5 109.4 577.6 81.7 543.4 62.8 607 62 565.9 87.1 538.9 59.1 550.8 109.4 590.2 98.6 597.2 84.6 588.5 87.9 619.5 95 567.3 113.3 541.6 54.8 575 93 545.3 115.7 600.7 118.1 599.3 117 593.4 105.9 541 91.4 579.3 88.3 550.5 126.4 591 32.5 578.5 114.3 568 89.4 567.5 52 589 76.2 590.7 42.3 578.2 86.1 592.5 98.3 579.1 76 594.5 117 580.8 58.4 552.8 73.3 608.7 76.8 605 118.5 560.8 35.7 595.7 45.5 570.3 104.1 593.6 69.9 593.3 111 573.1 88.4 584.3 89.8 616 36.3 596.7 102.8 601.5 117.3 564.9 114.8 564 97.6 542.7 113.8 612.4 116.4 580.5 42.6 562.7 64 574.2 86.2 538.8 113.4 546.9 31.7 578.4 56.8 605 78.5 597.3 102.4 592 88.8 603.7 109.7 562 86.3 546.2 121.6 598.8 85.7 612.2 96.4 550.8 71.3 617.3 57 567 94.3 610 48.4 566 103.7 600 103.7 559.6 115.5 614.4 75.7 556.2 64.6 550.3 122 577.8 74.7 612.3 91.1 561.1 89.3 576.6 109.6 611.1 94.9 555.4 69.5 615.6 99.5 544.9 100 563.4 100.1 519.2 95 510.7 58.9 588 83.6 598.2 94.1 520 55.2 568.8 119.6 562.6 123.6 580.9 119.3 598.5 123.3 581 52 603.2 111.8 609.3 91.4 538.7 116.1 599.7 90.9 552.3 62.9 602.7 115.4 601.8 77.3 555.3 73 574 83.6 543.5 66.1 573.1 71.3 561.3 44.6 583.5 111.4 596.6 76.9 616.1 76.8 584.2 87.3 549 109.5 532.9 95.1 611.6 98.8 556.4 115.1 613 98.5 580.3 124.5 587.5 92.5 561.3 109.7 602.4 72.9 532.6 73.3 611.7 30.5 582.6 111.8 568.7 91.5 545.3 81.9 565.6 124.7 604.5 93 576 89.1 572.3 123.2 572.9 102.1 535.4 81.9 528.9 108.1 618.8 78.5 605.1 109.9 583.7 60 606.6 111.2 598.7 76.5 605.3 94.3 581.5 102.7 522.9 53.9 599.5 106.2 611.2 92.5 532 107.2 598.5 83.8 523.6 97.9 584.5 51.1 563.3 108.9 532.4 85.3 584.5 86.7 620.2 51.6 558.6 103 587.1 96.6 586.1 103.8 543.8 102.2 606.6 104 534.7 102.9 569.2 100.4 609.6 96.5 617.7 92.4 610 48.4 587.4 105.8 539.2 68 595.3 50.2 592.7 92.7 597.7 111.5 538.3 83.2 533.8 97.3 556 91.3 563.8 67.5 568.6 114.4 546.7 102.1 566.9 89.3 536.3 92.2 572.3 120 584.5 72.1 538.4 107.8 591.8 100.9 577.1 30.3 582.1 51.2 572.4 105.4 573.7 30.9 582.1 124.5 577.3 69.3 612.5 85.8 547.3 91.2 596.8 97.7 584.7 100.6 518.9 59.9 569.2 109.4 597.5 95.7 564 52.8 565 102.7 593.9 98 561.4 55.7 593.6 112.1 585.3 53.2 565 70.2 600.1 95.9 583.1 40.4 594.2 90 524.5 75.9 617.7 68.9 541.4 71 560.9 95.5 576.5 89.9 543.4 100.5 521.5 111.3 588.8 69 581.1 79.1 563.3 91.7 594.4 100.1 594.7 109.3 592.4 120.8 596.3 115.4 616.7 112.3 565.3 93.5 556.8 91.7 592.6 117.7 595.9 108.9 584.1 96.7 601.2 98.8 515.2 42.7 566 99.5 559.5 120.4 608.9 80 579.8 59.9 588.9 98 572.7 48.7 604.6 110.4 545.3 113.3 568.5 115.6 602.3 46.3 600.1 106.2 576 48 595 112.7 606.3 96 531.5 54.7 564.1 37.5 580.1 101.4 586.6 115.9 568.7 94.2 554.3 104.8 599.7 113 545.7 120.4 601.7 107.5 595.9 57.9 564.1 97.7 591.2 122.7 584.4 84.9 546.3 53.6 596.7 103.4 598.9 111.1 537 108 560.3 107.9 535.8 49.4 591.2 68.8 563.6 38.9 573.3 56.4 588.7 96.2 567.6 117.5 549.7 95.4 571.9 108.9 618.4 98.7 542.1 92.4 550.1 71.3 592.5 98.4 621.5 109.5 549 109.8 574.3 106.7 589.4 84.7 576.5 65.8 602.5 105.5 562.8 101.3 577.5 104.7 578.2 72 545.2 82.6 613.7 68.2 610.2 106.6 583.8 71.6 585.9 108.6 586.2 48.5 599.2 108.6 542.6 102.1 520.5 102.3 569.1 53.9 593.8 98 586.7 79.9 580.8 101.9 588.5 76.2 532.8 60.8 594.9 65.7 610.1 109.5 619.7 67.4 554.7 120.3 583.6 111.5 574.9 98.6 551.8 71.1 538.9 62.8 594.8 108.4 587 100.3 585.7 70.4 594.8 56 599.3 110.4 601.7 121.4 578.5 59.6 608.7 69.4 599.3 41.5 584.9 95.4 547.1 79.7 540 73.1 586.3 100 554.3 104 563.3 118.3 565.8 43.6 578.9 93.8 575.4 121.2 598.3 124.7 595.9 105.7 597.7 84.3 529.4 108.7 549.4 122.3 575.5 60 550.1 123.3 599.4 107.7 619.4 65.1 578.4 103.9 553.6 93.7 599.4 110 537.9 92.9 533.6 87 578.4 108.4 566.8 28.7 588 65.2 578.7 76 552.9 107.4 607.1 88.2 519.1 114.9 543 45 584.3 41.2 598 106.5 620.7 63.2 601.2 53.4 576.8 48.9 580.9 97.1 562.7 94 620.6 91.3 575 81.6 590.5 115 573.4 96 564.8 106.1 545.9 97 561.7 106.3 594.6 50.7 591.4 73.1 550.1 125.6 601.8 106.9 556 84.3 573.1 105.1 560.5 103.1 560.3 106.5 583.1 66.4 570.9 78.7 606.4 56.1 588.9 67.1 611.1 109.1 617.4 120.9 560.1 72.3 564.9 72 582.6 65.4 599.4 73.4 576.6 99.3 575.6 46.4 603.2 118.5 574.8 44.8 583.2 55.8 565 96.1 597 93.7 518.2 41.2 593.1 88 526.7 105.4 619.1 75.1 571.2 60.3 591.1 116.3 607.5 59.9 549.8 70.2 606.1 90.7 571.1 92.2 594 108.1 577.9 81.4 526.5 124.3 574.3 62 614 82.9 593.9 73.4 602.1 99.2 604.3 90.7 562 101 541.4 75.5 551.3 73.9 564.5 41.8 571 87.6 583.9 100.7 523.4 41.7 580.7 110.1 551.5 96.8 587.2 39.1 576.8 61.6 571.8 99.3 568.8 83.9 569.1 59.5 549.6 124 584.4 88.6 525.6 109.4 551.7 93.4 570.6 71.7 595.4 73.4 549.4 34 574.4 112.4 553.2 97.3 570 120.1 593.9 99.9 563 68.8 593.1 80.7 551.3 67.7 572.5 36 595.4 72.7 609.3 68.7 560.1 109.3 532.1 71.9 552.5 53.4 609.2 105.6 600.7 109.5 614.6 48.7 599 100.9 614.2 70.5 543.9 91.5 560 96 549.6 76.2 614.2 41.7 583.5 90.1 543 111.7 551.2 54.8 595.4 80.6 556.1 71.1 603.6 76.4 605.5 39.6 581.3 82.9 539.4 79.9 561.8 119.3 563.8 89.3 570 47.7 560 100 555.6 102.2 526.9 51.1 605.2 118.3 586.7 90.3 532.8 114.7 606.6 108.3 535.3 97.8 604 92.2 534 94.8 560 64.1 579.5 70.6 584.4 115.4 556.1 51.6 568.9 116.3 560.8 99.2 568.4 101.4 529.5 92.1 611.1 114.2 562.7 66.2 589.1 77.2 542 113 604.4 40.3 601.7 73.9 586.7 80.8 618.1 110.8 616.1 84 543.2 75.1 606.1 119.1 565.5 98.5 515.6 84.1 537.6 100.9 576.9 108.6 536 57.9 602.5 106.1 549.6 118.5 563.6 121 600.1 111.1 608.2 105.6 525 106.5 577.5 115.6 593.2 67.3 592 96 592.2 108.9 605.8 89.1 590.2 104.3 580.3 117.2 585.4 121.8 575.5 83.3 536.6 91.9 568.8 73 602.4 97.1 558.6 57.2 600.2 83.6 616.9 36.8 595.5 64.9 610.7 99.3 604.2 30 589.6 101.5 569.5 48.3 596.7 109 598.8 117.1 557 75.7 575.3 120.9 571.9 116.9 591.5 108.8 564.6 70.5 570.1 105.6 522.6 97.5 600.3 74.5 574.8 60.6 565.2 110.3 619.3 115 557.9 69.9 547.6 81.6 550.9 76.6 598.9 46.8 596.8 65.4 574.8 114.1 594.3 61.9 548.2 91.8 550.9 91.5 528.6 104 592.5 90.3 537.2 55.5 566.5 77 538.7 82.8 536.8 99.3 521 67.6 549.2 67.8 558.7 91.6 556.9 49.7 570.9 94.6 572.7 88.7 618.5 106.1 538.6 111.3 570.4 91.2 522.4 66.7 602.4 111.6 584.8 110.8 593.9 50.6 604.8 94.8 577.3 119 612.3 89.3 619.4 109.5 581.5 28.5 584.7 91.6 565.6 81.9 575.1 98.4 540 96.3 613.7 122.6 594.9 41.2 584.4 54.2 583 119.3 577 32.3 587.3 109.2 554.4 67.1 568.8 101.8 605.4 87.9 584.5 104.4 573.9 58.8 585.2 117.1 593.5 44.9 569.4 93.9 611 112.6 547.3 57.3 562.5 89.5 589 91.9 591.4 78 594.2 100.6 528.4 84.2 577.5 108 609.5 67.5 587.6 66.4 574.9 44 584.9 80.1 569.1 114.9 597.1 78.1 593.9 89.2 553.3 121.3 573.9 89.7 581.6 90.8 611.6 98 542.5 116.9 614.6 81.1 597.5 107.7 565.9 101 595.9 88.8 522.3 73.5 610.3 99.8 583.2 109 543.7 104.1 525.5 98 545.2 98.8 559.5 91.5 520.4 113.7 551.7 89.1 549.9 103.8 618.3 103.8 547.2 95.2 587.9 103.2 533.8 64.4 590.4 100.9 550.3 112.1 567.5 109.7 532.6 72.4 550.5 75.7 553.4 45.1 575.6 71.4 608 89 567.7 76.4 541.2 96.8 553.1 66.2 555.5 110.1 601.2 108.3 582.5 111.2 600.3 94.9 607.6 93.2 558.7 76 569.8 85 581.3 95.9 570.8 106 616.2 101.6 599.9 102.5 609.5 118.8 615.3 100.7 589.8 112.9 590.2 45.3 598.5 113.6 570.9 88.9 538.6 48.7 582.4 54.1 589.7 101.5 567.2 69.2 600.8 47.2 564.9 110.5 614 94.3 596.4 56 571.8 94.7 512 92.8 603.9 59.5 608.1 113 543.5 123 603.3 58.7 585.5 77.9 609.8 113 606 80.3 537.5 106.1 576.1 75.5 597.7 104.4 619.7 58.2 570.7 103.1 621.1 92.1 619.7 101.1 548 94.3 582.6 70.2 616.7 93.1 526.9 102.2 538 64.8 557.7 40.1 576 103.1 521.3 93.2 587.1 113.7 571.7 98.7 566.1 112.8 602.3 96.3 548.3 94.5 522.8 37.7 573.9 111.1 588.5 57.8 580.9 106.7 525.7 64.5 599.5 73.8 560.7 70.6 590.6 114.5 560.6 51.9 576.3 50.9 603.7 57 557.8 120.7 572.2 83.5 609.6 119.5 613 52.6 606.1 62.8 596.5 48.5 596.5 112.5 594 56.9 597.2 105.8 615.6 72.2 614 84.6 612.7 80.6 538.2 67.5 559.6 98.5 572.5 91.2 592.8 102 567.7 90.8 575.9 74.1 588.9 86.1 549.5 89.1 613.1 85 560.1 101.8 609.1 120.9 580.6 95.8 621.1 124 591.9 117.5 576.2 94.4 549 100.4 531.7 90.8 585.4 85.8 615.3 76.4 547.7 90.6 570.7 59.9 559.8 90.6 577 71.2 613.1 38.3 581.4 92.7 530.3 119.5 591.8 39.5 579.3 82 578.9 96.7 604.5 57.3 581.8 91.6 616.7 77.2 597.7 44.3 576.1 64 569.8 111.5 571.7 116.8 604.5 64.7 569.4 99 519.7 62 612.1 73.1 569.2 97.8 535.5 107.4 559.1 108.8 615 113.3 547.6 76.1 554.7 95 545 67.4 605.5 59.5 613 97.4 617.4 95 563.4 62.8 561.5 104 557.2 91.3 548.5 49.2 562.6 31 577.4 95.7 595.3 110.2 587.3 80.4 614.3 66.2 613.6 64.3 557.9 78.9 530.9 90.4 591 95.2 558.7 91 605.4 47.1 584.4 65.6 609.3 77.8 599.3 96.2 546.1 92.1 569.4 90.9 527.3 101.6 604.2 119.8 583.9 99 589.7 91.7 603.9 91.4 614.3 46.3 598.4 79.7 575.8 105.3 545.7 109.1 572.4 91.3 612.7 76 596.1 110.5 578.2 50.2 567.2 50.3 564.9 46.1 604.5 71 543 103.7 560.4 120 604.9 91.4 591.8 102.3 525.8 48 600.8 89.2 527.6 45 590.8 74.4 562.4 61.9 557.6 62.1 571.8 72.3 558.5 62.4 546.4 97 594.4 110.9 597.4 103.3 602.3 70.6 571.6 44.3 605.5 73.7 540.5 115.9 590.1 79.8 608.7 94.2 596 113.8 558.9 57 587.6 114.7 600.8 29.6 588.5 77 594.1 79.6 569.1 98.9 588.3 59.9 571.9 101.3 611.1 106.1 599 119.8 591.2 105.4 532.1 67.6 583.4 91.6 579.9 101 589 106.9 614.8 102.9 591.6 71.4 593 109.8 617.2 108.1 570.4 94.3 559.1 94.3 575.2 97.9 569.2 92.5 606.9 47.7 558.6 104.9 607.9 104.9 538.8 79.6 531.9 70.9 563.1 94.4 556 95.3 577.3 100.5 602.4 60.1 592.8 108.9 575.7 117.6 577.6 48.7 582.1 106.3 556.1 79.5 529.4 49.8 562.4 125 599.7 98.9 589.8 113.1 560.7 92.4 559 61 591.4 71.2 604.8 81.2 617.8 107.5 595.7 100.7 581.7 91 540 94.7 572.4 50.9 572.2 89.7 535.8 108 550.9 86.8 538.1 58.4 602.3 88.9 566.2 59.8 576.7 90.7 613 116 612 49.6 581.6 96.2 531 44.7 566.3 66.8 546 65.5 607.3 47.4 559.4 102.1 521.8 89.5 605.3 79.3 619.4 75.7 573.5 58.6 556.3 101.7 578.4 81 543.8 120.8 596.3 82.5 553.9 61 586.7 88 551.7 80.3 587.8 106.5 547.6 71.1 611.2 92.5 600.1 72.3 587.3 66.4 608.2 101.6 556.9 92.8 538.7 112.7 588.9 94.7 569.1 117.7 553.2 107 551 104.6 588.9 86.8 552.3 100.2 569.1 115.6 581 55 588.4 53.2 601.2 40.1 568.2 58.1 577.2 103 585.6 58.5 611.5 61.7 548.1 61.8 580.9 85.2 530.8 118.9 577.1 47.6 562.6 104.3 569.5 73.9 553.9 102.3 590 117.1 572 106 542.1 92.4 520.8 88.4 605.8 92.3 536.5 109.3 597.6 110.4 599.1 40.8 593.5 107.9 547.5 77.5 539.6 118.2 581.7 85.3 535.5 60 588.7 90.7 594.3 55 566.4 102.8 561 84.6 525.5 103.3 526.1 90.6 566.7 54.2 599.9 120.3 613.7 93 540.3 106.4 525.1 110.4 576 88.1 589.7 121.3 572.9 94.7 593.3 107.8 533.1 87.6 574.7 88.5 543.5 53.3 573.5 80.8 598 82.8 597.1 115.2 572.2 57.6 567.6 110.1 564.6 87.5 589.3 78.1 553.9 80.7 585.1 91.9 566.4 88.5 556.4 99.7 584.4 102.5 545.3 64.4 574.7 35 582.1 108.4 570.2 107.5 604.1 113.6 594.5 106.6 551.6 89.2 518.7 52.6 574.8 103.8 545.2 67.8 594.1 45.3 590.3 124.8 586.7 74.3 605.1 115.8 570.9 57.5 581.6 116.4 599.2 82.1 582.9 113.6 542.2 93 545.3 40.3 565.9 41.7 586.5 115 600 87.4 538 69.6 593.6 116.7 582.2 35.2 588.7 59.2 554.7 53.2 601 62.6 573.5 112.6 548 81.1 530.5 69 565.5 49.2 593.2 116.3 569.4 104.8 617.5 111.2 610.1 54 597.9 87.2 532.5 103.4 522.5 108.7 551 110.1 530.8 96.6 532.9 121.1 591.4 84.8 580.6 31.6 582.3 35.7 593 78.4 616.1 58.5 567.4 58.5 578.2 93.9 581.2 114.8 601.4 114.2 606.8 88.3 562.4 70.2 580.4 98.7 603 115 563.4 66.6 580.4 91.9 592.7 99.4 550.1 126 590.5 98.7 535 94.7 559.5 106.4 534.2 112 570.8 70.5 592.2 64.1 546.7 71.3 563.7 88.2 608.3 98.8 565.8 84 593.3 86.2 605.3 109 530.8 47 605.1 109.6 550.7 120.4 600.2 114.1 540.7 114.4 568.5 94.6 573.7 50.6 564.8 45.1 578.5 44.1 603.7 41.3 587 101.5 580.5 110.6 596 92.9 580.1 123.6 599.8 92.8 533.4 125.4 597.4 102.5 599.9 50.5 601.3 91.4 533.6 97 617.6 110.9 578 92.8 619.2 121.2 569.2 106.7 575.7 117.5 562.3 100.3 543.6 99.3 551.1 121.4 598.8 115 581.6 107.9 538.2 95 609.2 70.8 606.6 98.4 515.2 117.4 567.9 101.2 530.8 72.7 537.4 90.1 576.9 114.8 567 100.4 546.2 99.1 604.8 88.5 592.1 108 554.1 32.2 576.3 70 592.8 94.3 548.6 111.1 566.7 86.9 525.3 82.7 560.9 120.4 591.4 103.7 532.4 56.3 567.9 124 587 112.4 609.4 116.9 603.3 97.1 619.4 119.6 580.1 101.6 578 75.8 603.4 104.6 576.4 94.7 572.4 52.1 578.5 98.6 575.4 86.5 531 41.4 592.5 98.9 613.1 102.9 545.3 112.6 578.8 99.5 613.7 102.3 590.9 71.5 617.2 91.7 524.7 71.2 616.2 100.6 595.2 114.2 611.6 69.5 594.1 118.4 553.3 110.2 592.3 80.2 532.1 96.3 573.1 93.4 537.8 104.2 591 70.5 553.5 64.5 581.6 95.2 606.4 31.9 592.3 78.4 550.3 108.4 529.6 101.2 613.9 95.7 535.8 99 610 99.7 528.6 93.3 551.5 95.7 557.1 93.7 565.1 101.1 561.2 102.3 541.1 50.4 567.2 40.9 587.8 97.4 596.5 76.2 604.2 90.6 605.3 86.6 564.5 106.6 583.7 88.9 550.2 104 599.3 84.6 583 54.6 582.7 89.6 613.7 43.5 579.2 107.5 590.6 112.7 540.4 108.6 581.5 45.5 604.2 116.3 592.3 62.1 601.5 101.1 550.4 107.2 596.5 81.6 594.5 97.2 578.3 95.1 606.7 96.3 583.9 91.2 527.9 102.9 563 83.2 548.7 93.2 521.6 43.1 569.6 61 569.7 85.1 558.6 107.6 583.7 97.8 567.7 104.2 539.1 95 524.3 103.2 619.2 93.6 589.2 110.4 567.4 77.1 592.9 90.3 539.8 49.1 569 122.3 565.3 103.3 596.1 100.5 613.7 90.7 563.1 76.8 579.8 91.4 586.4 82.2 525.1 105.5 614.4 116.8 599.4 89.9 617.4 71.4 605.9 102.9 610.5 51 555.7 110 538.4 33.3 573.5 72.5 611.1 98.7 563.7 30.1 584.9 89.4 522.8 79.5 594.8 115.2 565.2 81.9 602.2 51.6 578.6 103.4 540.5 120.1 567.3 96.6 561.9 107.1 615.5 72.2 541.3 90.1 554.7 106.4 582.2 87.5 590.9 94.8 594 110.9 610 57.2 556.8 98.5 579 101.4 552.3 91.3 613.6 58.6 608.4 97.3 560.2 41.7 590.8 67 582 83.3 574 98.7 516.5 58.2 567.4 96.6 577.9 66 554.9 116.1 610.7 91.5 572.5 82.9 579.9 105.8 575 93.6 561.5 83.8 524.9 70.5 599.9 43.9 604.7 52.4 576.4 120.7 584.7 51.9 586.5 54.1 569.6 85.2 533 114.9 605 111.2 578.1 94.5 617.4 86 600 85.8 614 118.5 555.8 106.5 596.6 107.9 528 104.4 548.9 101.2 609.9 100.4 555.3 101.4 555.9 102.1 557.6 92.4 606.2 104.6 521 77 593.9 119.4 579 87.6 595.9 95.4 583.1 105 589.9 87 570.8 96 588.5 62.2 567.7 110.8 561.3 80.8 550.9 89.3 601.9 119.3 565.9 79.8 540.1 61.3 565.1 106.4 542.2 82 540 58.5 575.4 78.6 543.4 93.3 575 89.8 518.1 103.2 602.6 74.5 535.7 94.7 556.7 57.2 604.8 87.7 557.9 99 515.9 96.5 564.2 95.1 541.8 73.9 554.2 62.8 613.1 60.3 549.7 37.9 574.2 66.2 563.6 99.7 555 108.3 596.2 95.1 614.6 103.4 555.4 125.4 605.5 116.9 554.8 88.3 603 104.3 589.6 54.6 580.3 86.7 548.5 49.9 590.4 82.3 604.6 62.1 611.9 98.7 620.3 105.8 601.8 90.2 601.2 94.1 611.1 116.6 616.2 113.8 581.6 99.7 578.2 121 560.3 89.5 532.3 64.1 611.4 76.6 540.3 102.2 607.1 86.6 577.2 93.7 551.1 100.2 542.3 74.7 558.7 60.1 553.8 62.1 563.8 53.1 602.8 103.1 563.4 126 584.6 86 603.2 99 617.3 71.8 600.6 97.7 535.1 107.2 569.1 104.2 568.3 104.6 576 97.1 513.8 71.7 591.9 107 551.5 88.5 547.6 117.2 606.5 45.5 580.3 64.7 605 33.6 592.3 67 577.5 105.1 602.7 88.1 617.3 54.8 557.3 100.6 529.2 59 592.8 98 549 107.3 613.7 66.8 589 97.3 600.2 71 535.7 77 550.6 90.9 609.5 105.6 586.4 96.1 610.2 55.4 570.6 123.1 610.2 118.1 559.7 98.4 549.4 46.8 574.2 84 542.9 56.3 571.1 105.1 559.1 31.6 588.2 103.9 600.3 95.7 540.6 105 522.3 103.4 531.7 116.5 563.2 81.8 575.1 90.9 602.8 119.2 568.9 29.1 581.9 51.8 576.4 102.7 562.7 109.9 550.9 56.7 604.7 55.9 604.9 101.9 526 103.8 531.8 106.5 603.5 34.2 590.1 102.9 603.2 109.3 530.9 52 598 79.5 593.8 90.5 585.9 93.6 611.9 94.4 619.8 92.4 514.8 87.9 585.1 112.2 594.3 98.3 529.7 95.2 556.2 93.9 557.2 57.1 571.6 95.3 543.1 115.3 611.9 77.3 570.9 37 598.1 105.3 576.9 78 610.3 99.7 569.6 53.4 573.4 122.7 607.8 88.2 610.7 54.5 607.3 76.8 580.3 106.7 600 69.4 566.3 60.7 601.5 96.3 621.6 106 595.7 38.1 598.3 111.5 607 104.9 594.5 99.7 579.7 64.2 560.5 92.9 585.1 109 549.4 58.7 558.1 87.7 590.8 125.8 589.1 39.6 592.4 67.2 566.7 92.9 621.5 111.6 602.4 84.1 567 101.4 528.1 65 549.7 97.7 574.9 85.1 609.3 102.3 541.3 74.6 611 90.9 614.3 91.5 563.4 120.2 591 76.9 562.9 104.7 540 106.2 575.6 96.9 566.5 90.6 615 113.4 586.7 59 563.3 115.8 563 78.6 532.5 105.3 617.9 119.2 594 93 525.2 121.2 595.8 97.6 609.4 119.9 555.7 85.7 549.8 49.4 565.4 114.6 561.1 95.6 557.5 124.5 594 120.5 602.3 109.7 597.4 80.7 586 96.9 598.2 84.7 527.6 105.7 556.6 89.3 545.5 104.4 525.6 112.8 600.4 96.3 579 48.5 572.3 56.8 594.8 95.6 562.7 109.6 603.1 98.6 555.5 89.1 615.7 53 604.7 104.8 554.8 75 562.1 76.7 608.5 107.4 593.9 107.7 567.1 43 589.9 84 522.6 118.9 556.7 118.9 565.4 84.5 602.8 57.4 580.7 44.8 595.9 98 612.7 122.4 572 106 595.7 94.2 525.1 52.5 565.1 120.7 595.5 114.8 590.2 105.5 599 94.9 548.7 54.6 589.7 77.4 586.9 99.2 584.7 116.9 574.2 67 549.9 121.9 585 44.3 600 68.1 543.2 98.7 537 58.3 579.4 95.6 604.8 99.3 564.2 76.4 597.6 122.8 569 103.8 564.3 83.1 535.5 83.6 523.2 56.8 571.4 67.7 568.3 124.3 575.5 57.8 560.4 52.8 569 91.8 597.5 113.2 584.8 71.6 548 96 544.6 88.1 581.7 89.7 554.9 117.5 596.8 55.7 611 112.5 554.7 85.7 581.7 60.8 587.5 102.8 522.7 79 556.7 52.8 571.3 118.8 583.6 104.3 533.1 85.4 601.3 33.2 587.4 104 526.7 82 547.1 112.6 587 61.2 578.5 94.4 564.9 108.1 560.7 111.2 557 97.2 587.8 71.7 614.9 86.8 580.3 83.6 603.7 28.3 589.1 118.8 592.6 104.3 615.2 91 560.7 111.1 614.4 88 585.1 111.6 553.4 93.9 511.2 54.5 560.1 89.3 521.7 78.4 530.7 113.1 547.2 47.6 563.9 70.5 572 118 611.2 106.7 564.2 88.9 561.2 112.9 546.4 79.7 564.6 84.7 528.4 97 601.7 102.3 565.4 116.6 582.7 112.8 614.3 52.9 553.4 98 567.8 102.9 577.8 59.6 568.8 114.1 600.7 70.7 594.1 92 563.2 68.1 568.5 41.4 579.9 103.5 561.9 95 602.5 117.5 590.1 91.4 576.9 124.2 586.1 108.2 580.4 77.3 538.6 96.1 594.6 92.3 521.8 110.6 536.7 44.6 597.6 92.6 593.3 117.4 560.7 113.5 607.6 79.1 619.5 73.7 533.1 117.9 575.8 103 525.5 119.1 571.9 87.2 614.5 75.6 540.8 65.4 592.1 110.1 572.7 79.3 598.8 96.2 611 102.5 539 68.5 544.5 81.4 526.6 48.7 574.5 32.9 583.3 49.7 585 50.8 607.7 95.3 564.2 43.9 585.8 112.9 597 74.6 549.7 51.6 609.1 45.3 589.3 78.2 564 73.2 605.3 101.3 614.8 64.9 573.5 95 616.3 68.8 582 76 581 83.1 592.1 60.5 583.4 63.4 609.7 123.3 587.8 37.7 568.7 55 579.7 46.2 604.9 101.2 579.5 117.6 563.6 49 566.6 60.2 595.4 93.8 515 90 591.1 85.8 527.7 98.5 534.7 81.2 608.6 111.8 550.8 114.6 563.4 61.9 601.8 118.7 612.9 90.5 534.7 91.7 529.6 52.8 593.3 104.4 580.5 91.7 538 94.2 602.7 110.6 593.7 32.8 586 106.1 569.1 90 515.9 78 548.2 101.5 558.6 102.1 570.3 76.3 557.4 34.9 576.9 45.7 601.2 104.1 565.2 75.4 587.1 80.9 577.1 95.3 514.4 110.5 536.6 43.6 578.6 103.4 614.5 93.8 615.5 68 591.5 63.6 594.5 106.8 610.3 51.1 606.8 99.8 619.4 122.6 591.3 63.6 587.8 108.1 570.3 105.9 564.3 90.4 599.3 96.6 597.2 36.8 585.4 94.2 534.8 68.3 600 63.3 554.6 89.9 580.9 84 596.2 105.1 613.4 43.4 592.7 116.8 604.2 109.1 533.1 109.2 568.7 125.1 604 92.7 544.7 96.9 577.3 114.9 584.7 111.3 603.2 80.2 544.6 112.6 568.4 95.5 557.8 121.3 613.7 93.4 542.5 29.8 582.9 75 615.2 59.6 581.7 47.7 558.6 67.8 598.9 82.3 558.2 119.5 591.6 104.1 612.4 62.6 558.5 85.1 543 95.9 586.2 97.5 566.3 107.7 546.9 92.7 583.4 31 576.7 77.4 532 116.8 560.6 50.7 591.9 42.7 574.5 36.3 590 78.7 548.9 108.1 609.2 107.2 573 63.5 562.3 102.2 520.4 108.6 538.6 103.2 539.3 59.1 550.2 71.9 553 121.3 583 103.9 528.3 49 605.7 116.4 578.1 101.2 614.6 65.9 613.3 59.4 605.7 89.5 524.4 85.8 552.6 112.6 597.5 88.7 554.5 94.8 510.3 66.3 564.3 114.6 596.7 118.7 552.1 39.8 584.3 96.5 544.1 103.9 566.3 110.1 594.2 72.3 593.8 97.7 619.2 91.2 571 85.7 589 78.8 532.1 29.3 590.5 82.1 553.8 125.5 597.1 73.1 587.1 120.7 610 66.9 609.4 122.5 597.3 80.2 603 109.1 574.6 111.8 571.4 113.2 578.5 55.5 578.3 52.2 575.4 90.5 524.4 72.3 555.7 101.4 566.2 120.7 580 116.4 586.5 83.2 559.8 66 548.1 102.7 540.8 100.9 579.1 82.7 571.6 54.4 585.6 65.3 584.9 100.3 556.7 123.2 581 104.9 524.7 90.7 519.6 85.1 602.3 123.7 571.8 110.4 583.4 119.2 581.4 67.8 582 95.9 522.5 123.8 573.6 51.8 568 84.6 531.4 56.9 578.1 102.7 533.6 43.7 571.8 73.1 595.4 120.4 576.2 80.6 585.2 72.9 546.9 69.3 574.2 97.6 595.5 64.1 579 101.6 542.2 103.2 609 85.4 589.7 48.4 589.9 93.1 614.4 51 579.8 49.4 565.8 95.2 564.9 46.7 598.8 102.3 597.6 71.1 575.9 123.6 605 111.4 605.8 104.6 585.2 51 561.5 45.2 596.7 41.3 580.4 93.3 607.9 91.4 521.2 88.4 548.6 64.6 578.1 104.3 589.3 95.8 584.6 92.3 605.8 104.8 543 102 568.8 99.7 540.8 65.2 552.8 109.2 560.7 90.2 543.7 84.2 599.3 92.3 604.5 104.5 521.1 121.7 573.2 100.8 588.8 99.8 534.2 92.4 529.9 85.7 562.3 106.4 525.3 97.8 526.7 101 557.4 82.1 606.7 54.8 551.8 46.7 561.7 61.2 555.2 44.6 574.7 107.3 577.9 91.2 516.5 117.9 581.1 124.9 604.8 90.4 540.5 47.9 590.9 68.6 562.8 95.8 587.9 50.8 571.6 73.5 562.2 41 588.5 94.5 528.8 111.5 600 87 525.3 72.8 568.3 97 617.7 104.7 529.7 79.8 579.1 92.5 604.3 105.7 566.4 105.9 597.3 123 603.5 82.8 598.8 61 563.9 38.6 588.9 63.9 576.9 94.1 511.5 93.4 531.7 101 610.3 62.4 571.7 112.8 539.1 79.8 604.9 82.5 553.7 93.3 541.3 97.2 527.8 78.2 546.8 37.4 587.6 112.2 539.3 110.6 549.3 44.3 561.2 78.4 533 73.6 617.9 36.4 574.6 125.3 589.3 48 581.5 94.6 541 68 590.5 113.1 555.7 72.9 543.4 89.4 554.2 113 614.4 109.6 603.7 100.1 573.7 37.9 598.5 119.4 563.1 87.9 594.2 104.4 619 88 605.4 92.3 601.2 101.9 543.2 107.3 614.7 85.9 571.3 38.3 587.4 98.1 615.2 86.5 582.4 68.1 611.3 39.5 593.5 116.3 583.6 56.6 598 68.5 561.3 64.5 588.3 59.2 549.1 72.1 585.6 122.4 591.1 99.9 587.5 72.8 594.6 76.2 606.6 88.6 581.5 66.1 575.7 80.1 610 90.6 605.9 119.1 579.7 92.4 608.7 70.3 550.4 117.9 610.3 41.6 593.6 119.4 573.3 51.7 592 47.5 598.4 121.6 562.1 30.3 581.4 107 572 73.1 555.2 92.6 523.9 107.4 611.2 51 602.6 79.3 538.7 93.1 564.3 92.5 539.8 99.6 515.6 119.3 574 77.5 554.5 82.5 585.4 76.9 561 87.8 579.9 102.2 566 113.8 616.3 99.7 615.4 101.5 540.4 55.9 592.3 82.2 617.4 107.3 612.8 115 559.5 88 536.5 115.9 573.1 119.3 587.5 103.3 617.5 102.2 524.5 38.5 582 110.9 607.5 70.4 591.6 111.3 615.7 78.5 543.3 104 542.1 112 543 107.6 612.4 58.1 572.8 109.1 541.2 82.2 525 110.5 538 99.6 614.8 61.1 593.8 58.1 557.3 117 563.6 47.7 604.8 111.3 570.2 88.1 596.2 101.2 603.4 72.1 595.8 83 610.2 93.5 592.5 28.9 586.3 97.1 555.8 65.7 569.1 103.9 587.6 120.1 614.6 78 588.3 97.5 574.1 91.3 572.7 95.5 592.5 41.8 586.3 82.6 529.7 64.1 613.2 120.5 576.8 89 585.5 39.1 575.5 75.9 566.4 71.7 579.2 103.2 595.8 92 577.7 96.3 526 76.9 597.8 104.6 583.7 87.8 615.8 85.5 545 104.4 522.8 52.7 607.2 108 563.7 89.4 537.1 117.3 613.1 47.7 604.7 102.3 548.5 111.2 556.9 98.7 617.8 43.8 590.9 116.8 578.5 97 618.7 41.8 588.5 102 534.8 94 524 100.3 539.1 87.9 539.5 53.7 605.3 75.4 584.4 124.3 579.7 120.1 565.9 75.7 581.6 118.1 595.6 100 590.3 96.8 597.8 107.5 615.1 30.1 579.5 93.6 600.3 93.9 542.4 81 578.1 103.4 574.2 43.8 601.4 86.7 585.3 79.3 580.9 91.8 591.3 119 568.6 109.4 612.1 125 594.2 66 577.8 109.8 557 81.7 588.2 81 607.8 100 532.6 107.2 590 110.7 545.3 96.3 589 97.2 598.8 39.1 575 125.6 592.4 98.2 598.7 43.3 564 91.1 542.2 115.7 556.6 104.6 586.1 73.3 580 52.7 600.4 124.3 585 65 605.5 76.4 548.8 99.4 568.5 101.8 571.4 123.3 589.1 97.2 538.3 111.2 548.9 31 582 90.1 553 79.1 529.3 123.3 603.8 93.1 512.2 41 583.8 60.2 597.5 65.8 555.3 90.7 598.6 87.9 522.4 85.8 574 87.3 580.3 86.7 590.4 84.6 531 107.6 554.6 45.5 560.5 106.6 580.5 92.5 592.6 62.7 599.4 51.5 603 101.2 587.8 52.8 575 102 542.5 64.1 571.3 108.5 587 78.7 538.6 30.3 592.4 70.2 608.6 67.6 545.4 90.1 545.4 111.2 561.9 89 546.5 85.9 604.4 108.8 560.7 111.3 556.5 112.6 610 121.9 564 51.2 596.2 96.6 544.4 91 617.5 126.2 592 120.6 564.9 101.5 574.4 59.2 598.3 91.8 589.4 121.9 585.1 80.8 563.7 86.9 601.9 97.9 577.7 96.6 620.2 100.6 566.8 109.9 607.6 55.5 576.9 57.4 592.8 101.3 527.1 51.5 554.4 85.2 533.5 117.3 607.6 89.8 568.9 95.8 557.3 45.8 567.7 112.2 545.3 113.5 584.1 49.5 603.9 111.2 575.1 115.8 563.5 113.6 562.3 33.9 595.9 109.4 566.6 94.2 587 105.4 600.6 116 556.7 91.7 583.3 85.7 620.4 74.2 591.5 62.7 593.6 116.2 558.8 93.3 605 81.5 597.5 89.8 573.5 110.4 544.6 56.3 588.7 121.9 566.6 121 567.6 90.3 587.4 100.2 533.7 105.7 561.4 69.9 575.1 81.3 596.4 97 585.6 108.7 588.8 75.9 598.5 124.7 594.2 93.7 530.2 58.2 568.7 72.2 577.3 106.6 548.9 116.6 599.4 91.7 553.2 101.4 592.2 108 599.4 57.2 552.9 94.3 615.8 104.9 556.4 117 578.3 115.3 561.1 118.8 558.8 83.2 567.5 83.2 534.1 64.1 594.8 100.1 561.4 67.3 546.1 81 605.7 103.2 562.7 95.4 584.3 100.1 604 93.1 511.6 89.3 574.5 100.3 565.7 106.2 584.5 77.3 534.8 121.4 573.7 96.6 530 52.4 560.7 95.4 515.4 113.5 552.5 93.2 612.9 119 573.8 84.6 558 101.6 599.3 99.2 526.1 99 560 97.7 556.8 57.8 598.4 114.1 591.8 99 524.7 57.8 579.9 82.3 543.6 121.8 607.7 100.9 538.1 125.5 594.4 81 537.9 114 617.9 62.7 574.4 101.3 555.8 90.1 515.8 115.8 599.5 67.1 614 81.6 593.7 103 524.2 122.4 603.3 85.7 571.4 88.4 524.9 106.7 582.9 109.3 582 113.7 568 116.9 602.4 74.1 543.3 113 601.8 75.4 543.2 93.3 584 71.8 602.7 99.4 571.5 89.8 600.9 67.8 610.5 92.3 574.8 106.6 615.9 118.7 570.7 78.6 595.9 80.1 535.4 103.3 572.6 101.5 584.3 88.4 518.1 84 593.9 90.8 589.3 71.9 574.4 110.3 557 60.4 577.9 49.2 585.7 108.2 573.8 99.6 518.3 118.7 592 107.6 605.2 104.5 563.8 74.1 562.7 71.5 555.2 88.6 572.8 98.1 614.2 92.7 586.5 97.7 563.3 114.7 560.9 85.7 564.6 87.9 576.4 103.6 594.6 26.9 587.1 91.1 605.1 79.6 607.6 109.6 596.7 82.2 551.1 109.5 550 84.7 562.5 97.5 594.6 73 544.6 94.3 613.1 56.3 584.3 67.8 600.8 91.2 548.7 94.8 583.8 51 567.5 98.6 581.2 93.9 565.4 116.9 571.5 59.2 561.8 97.8 542.1 119 608.8 44.1 571.8 102.3 612.6 98.7 535.9 112.4 540.9 97.3 620.7 122.5 581.1 78.6 545.1 55.8 603.2 61.5 610.7 114.5 597.7 111.5 572.1 109.2 594.9 59.7 577.7 93.1 548.4 85 570.2 95.3 524.6 52.4 565.4 77.5 598 82.6 618 90.8 564.4 43.7 567.5 111.1 539.2 105.1 529.5 110.9 591.7 54.4 571.3 125.6 591.8 94.8 548.6 96 535.8 126 600.9 56.2 581.7 103.3 528.9 104.2 530.9 90.1 594 94 521.1 108 537.5 57.7 565.6 86.2 551.7 68.1 559 28.6 585.4 52.3 562 108.4 576.1 92.2 514.1 56.4 610.3 102.2 572 96.4 541.6 116.5 597.8 100.4 541.9 73.7 598.2 109.7 582.1 104.3 541.8 65.7 557.6 103 621.2 95.6 543.7 113.9 617.2 108.4 619.2 116.3 558.5 91.4 572 125 598.5 40.6 591.6 90.6 586.8 59.1 580.4 113.4 618.7 49.1 593.4 99.3 554 89.7 552.9 92.5 523.9 100 521.6 76.3 616.2 95.2 546.1 50 584 59.7 571.4 93.8 581.6 118.1 576.5 71.1 543.3 77.1 605.8 90.4 606.9 118.7 615 111.7 548.9 118.6 600.8 123.9 572.2 106.9 587 111.9 612 89.6 575.3 98.4 578.2 97 595.7 99.4 562.5 92 519.2 60 579.1 68.1 575.2 110.9 569.8 93.2 605.8 94.4 594.4 91.9 538.7 52.5 569.8 62.7 607.4 82.7 611.4 80.4 580.5 70.3 569.6 56 559.9 84.1 564.6 102.9 535.7 96 524.6 122.4 588.9 39.2 576 114.4 569.5 108.1 597.9 121.6 602.7 57.7 571.2 44.8 595.5 110.1 560.3 94.2 606.9 106.7 574.8 76.1 550.7 102.2 566 47.2 605.4 105.9 525.6 105.4 551.7 103.1 611.8 66.9 590.8 101.2 527.2 50.9 589.3 106.9 550.2 108 558.9 81.6 619.9 109 602.8 61 577.9 66.7 613.3 108.2 620.4 70.1 564.9 95.6 599.7 67.4 608.3 99.7 601.5 99.6 602.8 108.5 593 125.5 585.4 106.1 526.8 79.6 607.4 125.9 600.1 85.3 581.3 74.4 617 118.2 557 89.9 530.7 87.7 569.7 98.7 531.8 111.9 573 106.7 544.6 83.6 573.2 72.8 566.8 75.7 586.3 65.5 563.5 88.2 610.2 126.3 592.7 85.3 558.1 80.5 617.9 30.4 583.8 110.1 540 90.4 582.2 106.9 558.3 85.1 592.3 96.3 610.5 112.3 594.2 75.7 568.8 93.4 514.1 30.5 577.6 83.4 614.7 65.3 597.6 32.9 589.5 77.7 578.2 98.8 578.2 46.7 599.6 39.9 575.8 76.5 583.9 93.9 518.7 96.5 599.2 112.8 542.9 96 550 46.9 587.3 116.8 546.6 119.5 561.8 106.4 530.3 38.1 579.7 126 604.1 56.1 597.4 110.1 586.7 30.4 583 105.9 563.3 35 585.6 119 577.5 98.8 602.2 105.7 585.5 103.2 593.6 52.8 596 103.6 536.7 79.9 618.8 124 602.9 70.1 609.7 82 560.5 87.7 532 113.8 610.5 93 591.4 83.9 606.4 104 531.7 73.9 576.2 96.8 551.8 124.3 578.6 82.6 606.3 54.1 585.6 119.6 609.1 98.1 529.8 101.4 608.3 53 598.3 65.6 573.6 87.6 550.6 106.1 605.5 92.1 605.2 121.1 583.1 103.2 552.8 106.9 536.2 105 555 93 520.6 80.3 536.6 37.1 582.2 62.4 561.8 41.2 596 74.9 558.2 115 614.4 107.4 616.6 103.6 575.9 105 577.1 103.1 584.7 82.5 615.1 107.5 532.6 62.9 561.6 117.9 597.6 53.2 602.3 83.3 607.6 118 593.3 98.9 535.1 58.4 559.9 78.5 543.8 89.2 578.9 100.9 530.7 124.4 576.4 105.8 606.2 104.4 565.9 28.5 586.7 60.2 559.3 104.4 534.1 77.1 569.7 115 607.2 75.6 583.5 111.1 546.8 91.3 531.5 85.4 618.7 108.4 604.2 76.7 601.9 120.2 558.5 70 538.8 93.1 524.1 84.5 536.1 116.4 567.5 99.8 542.5 114.2 592.4 66.7 563.4 31.9 579 117.8 549.4 106.1 528.9 102.3 596.6 121.6 565 103.5 610.8 105.4 620.2 121.6 572.8 111.4 586.1 96.2 516.2 30.4 581.2 123.7 578.1 121.4 602.2 84.8 565.8 48.8 560.3 72.4 605.1 88.4 555.5 102.3 579.7 78.4 617.2 94.6 528.6 48.6 590.7 95.5 605.4 102.4 582.8 103.7 540.1 116 554.7 114.7 565.4 108.2 586.5 110.8 575.5 92.4 545.5 109.7 613.7 120 608.4 91.8 514.7 86.7 595.7 65.6 574.9 105.5 606.1 114.1 579.3 87.9 549.2 104 573.9 97.9 579.7 96.8 523.4 57.9 553.5 88.8 606.1 102.4 529.4 64 547.4 94.4 600.8 94.7 560 100.9 573.8 67.8 578.5 118.8 555.9 98.7 618.3 89.2 602.8 87.6 572.8 116.2 564.9 103.5 537.8 97.7 578.1 95.5 610.5 109.1 545.2 107.4 571.9 65.7 593.7 52.6 600.6 33.3 585.7 117.1 573.5 88.2 524.1 55.1 593.7 79.8 602.4 78.2 602.1 34 592.6 111.2 554.2 118.5 614.7 97.8 594 84.3 534 121.4 569.5 84.9 564.3 106.7 575.6 100.5 606.3 104.1 590.9 89 565 92 560.2 113.5 578.1 78.2 587.4 101 617.3 47.3 558.2 96.6 552.5 43.4 568.8 95.7 537.8 103.4 596 55.7 604.4 101 541.6 38.2 589 109.8 601.7 40.3 598.1 53.7 594.3 102.2 599.3 83 608.4 77.6 545.2 83.5 535.1 103.9 582.7 119.8 602.6 116.1 546.4 118.5 598.6 31.6 577.1 102.5 620.2 107.2 544.5 83 544.9 95.6 554.5 40.7 599 78.8 611.5 99.7 585.4 87.4 601.9 114 578.2 94.8 520.7 87.9 559.4 101.4 604.4 60.6 612.6 67.5 574 97.3 601.3 94.1 540.8 97.3 612.3 108.9 602.3 88.6 547.5 112.4 562.3 110.1 606.6 54.5 552.9 88.8 550.2 92.1 534.5 120.6 613.4 92.9 616.3 97 592 108.6 535.6 107.9 541.8 86.5 551.7 119.3 614.2 85.5 577.1 112.1 592.8 112.6 553.8 113.2 559 94.9 558.6 83.1 564.8 100.6 615.1 117.9 615.9 111.2 553.9 94.7 621.2 74.4 560.6 106.1 620.4 59.4 569.3 93.7 611.2 90.1 525.5 96.4 591.2 112.4 557 76.1 563.6 90.9 549.2 94.3 521.2 122.1 587.4 34.9 578.9 81.6 560.8 63.9 596.8 41 591.3 99.1 538.4 108.8 567.4 36.6 584.2 117.8 599 95.5 532.5 88.8 587.4 44.9 595.7 108.3 590.2 104.2 525.6 97.6 603.8 116.5 551.2 109.8 594 118.3 579.2 37.8 580.6 76 550.5 30 579.3 59.8 549.8 122.3 600.8 43.4 593.9 93.9 510.3 95.3 511.2 95.1 512.4 95.9 512.3 96.4 513.4 97.9 514.4 97.9 514.5 98.7 515.7 99.4 516.4 100.4 517.2 100.3 518.1 101.2 518.4 101.8 519.3 102 520.1 104 520 104.2 521 104.6 521.6 105 522.7 106 523.2 105.7 524.4 106.8 525.8 106.6 526.2 107.9 526.9 107.5 528 108.4 529.4 108.9 529.9 108.6 530.9 109.6 531.7 110 533.2 111.1 533.4 111.8 534.2 112.1 535.6 112.7 536.4 112.9 536.9 113.5 537.8 112.9 538.5 114.1 539.5 114 540.6 114.2 541.8 115 542.9 114.6 544.3 114.7 544.4 115.4 546.2 115.4 546.4 117.1 547.5 115.8 548.3 117.4 549.5 117.7 549.9 117.1 551.3 118.5 552.1 118 553.9 117.9 554.2 118.5 555.5 118.7 556.6 119.1 557.6 119.4 557.9 119.6 559.2 119.6 560.1 120.9 561 121.2 561.6 121.7 562.8 121.7 563.7 121.4 564.8 121.1 566 121.3 566.4 122 567.7 121.9 569 122.7 569.5 123.6 570.9 122.9 571.8 123.1 572.1 122.9 573.7 122.9 574.4 123.8 575.4 124.7 576.6 123.9 577.5 123.6 578.2 124.4 579.1 124.1 580.3 124.7 580.8 124.7 582 125.3 583.3 125.3 584.3 125.6 584.9 124.6 586.1 125.1 587.1 125.9 587.7 125.6 588.7 125.4 589.8 125.5 590.2 125.7 592.1 126.1 592.2 126.2 593.2 125.4 595.1 125.1 595.8 125.3 597.1 125.3 597.8 125.3 598.9 125.9 599.9 125.4 600.9 126 602 126 602.4 124.6 604 125.2 604.6 124.1 605.3 124.6 606.3 124 606.9 123.6 607.8 122.3 608.6 122.7 609.2 122.9 610.4 121.5 611.6 121.2 612.7 121.3 612.8 119.8 613.8 119.7 614.6 119.6 615.4 118.4 615.8 118.1 616.4 116.8 615.8 115.6 616 114.7 616.6 114.4 618.3 112.8 618.8 111.9 619.4 111.2 618.7 109.6 619.4 109.2 620.7 108.2 619.8 107.3 619.5 106.5 619.6 105.1 621.3 104.7 620.3 103 621.4 102.3 620.4 101.4 620.3 100.2 621.7 99.2 620.9 98.1 620.9 97.4 620.8 96.1 621.1 95.1 621.5 94.4 620.8 92.9 620.6 92.2 621.3 91.9 620.1 90.3 620.1 89.6 620.4 88.1 619.8 87.4 620.5 86.7 619.5 85.7 619.7 84.6 619.2 83.3 620 83.1 620 81.8 619.3 80.6 618.6 80.3 618.6 78.8 618.2 77.8 618.9 76.8 617.7 76.1 617.3 75 618.4 74.2 617 73.5 616.8 71.6 617.1 71.2 616.2 70.1 616.7 69.6 615.7 68 615.7 67.8 615 65.9 615.4 65.5 614.2 64 614.4 63.5 614.1 62.6 614.5 61.9 613.4 60.7 613.3 59.6 613 58.7 613.5 57.4 612.2 57.5 611.7 55.6 611.6 55.1 610.9 54 611 54.3 609.3 52.3 609.2 51.5 609.1 50.6 608.3 49.9 607.3 49.3 606.6 48.1 607.7 47.4 607 46.6 606.7 45.9 604.9 45.2 604.3 43.2 604.9 42.9 604.1 42.9 603 41.6 603 41.1 601.9 39.7 601.8 38.9 601.5 38.7 599.4 37.5 600.3 37.1 599.2 36.5 597.4 34.8 597.7 34.9 596.2 34.6 595.3 33.3 596 33 593.8 31.6 593.9 31.5 592.7 30.7 592.9 29.7 592 29.1 590.9 28.6 590.3 27.6 589.1 27.2 588.1 28 587.1 27.7 587.5 28.3 585.9 27.7 585.4 28.8 584.8 29 583 28.8 582.2 29.5 581.1 29.3 580.1 29.3 579.5 30.6 578.4 31.3 578.2 94.6 508.5 95.7 511 93.5 511.3 94.8 513.1 96.7 513.4 92.7 514 95.1 515.3 97.8 515.8 91.7 516.5 89.2 511.9 65.4 540.6 68.2 538.3 34.9 568.2 67.6 539.5 46.1 558.6 28.9 574.9 79.1 525.3 72.4 531.6 85.8 518.1 90.4 513.7 58.1 547.7 67.5 535 78.9 525.4 89.8 513.9 65 541 70.5 531.9 31.6 572.2 27.3 577.9 87.8 516.4 45.9 556.5 68.1 538.1 86.5 516 32.4 572.9 48.4 556.4 28 579.5 75.1 530.1 32 571.3 81.6 523.4 55.8 549 67.8 535.1 26.8 582.8 69.1 535.4 25.4 584.5 33.7 570 55.1 549.6 78.4 527.6 86.8 517.7 66.3 542.5 67.9 539.9 46.5 557.3 44.5 558.4 81.2 523.6 72.8 530.9 26.5 586.4 64.1 542.7 70.8 532.1 64.7 542.5 26.5 583.3 69.9 535.3"/>
<circle class="pd" cx="52.1" cy="557.9" fill="#1f8fa8"/>
<circle class="pd" cx="48.8" cy="570.1" fill="#1f8fa8"/>
<circle class="pd" cx="44.1" cy="578.1" fill="#1f8fa8"/>
<circle class="pd" cx="42.2" cy="586.4" fill="#1f8fa8"/>
<circle class="pd" cx="63.1" cy="570.5" fill="#d4b018"/>
<circle class="pd" cx="79.1" cy="579.0" fill="#1f8fa8"/>
<circle class="pd" cx="102.3" cy="590.2" fill="#d4b018"/>
<circle class="pd" cx="104.6" cy="581.2" fill="#7b2a9a"/>
<circle class="pd" cx="102.1" cy="599.4" fill="#7b2a9a"/>
<circle class="pd" cx="93.4" cy="531.2" fill="#d4b018"/>
<circle class="pd" cx="124.7" cy="576.7" fill="#7b2a9a"/>
<circle class="pd" cx="109.2" cy="583.6" fill="#7b2a9a"/>
<circle class="pd" cx="100.0" cy="543.7" fill="#d4b018"/>
<circle class="pd" cx="121.5" cy="581.6" fill="#7b2a9a"/>
<circle class="pd" cx="54.4" cy="577.5" fill="#d4b018"/>
<circle class="pd" cx="87.8" cy="577.7" fill="#d4b018"/>
<circle class="pd" cx="40.1" cy="569.2" fill="#1f8fa8"/>
<circle class="pd" cx="35.8" cy="577.3" fill="#1f8fa8"/>
<circle class="pd" cx="91.3" cy="575.7" fill="#d4b018"/>
<circle class="pd" cx="41.2" cy="578.0" fill="#1f8fa8"/>
<circle class="pd" cx="102.4" cy="577.1" fill="#d4b018"/>
<circle class="pd" cx="88.2" cy="582.6" fill="#d4b018"/>
<circle class="pd" cx="34.3" cy="576.4" fill="#1f8fa8"/>
<circle class="pd" cx="52.6" cy="573.2" fill="#1f8fa8"/>
<circle class="pd" cx="112.7" cy="583.7" fill="#d4b018"/>
<circle class="pd" cx="101.4" cy="539.5" fill="#d4b018"/>
<circle class="pd" cx="88.0" cy="573.5" fill="#d4b018"/>
<circle class="pd" cx="38.9" cy="570.0" fill="#1f8fa8"/>
<circle class="pd" cx="114.8" cy="569.2" fill="#7b2a9a"/>
<circle class="pd" cx="100.0" cy="534.0" fill="#d4b018"/>
<circle class="pd" cx="86.0" cy="556.8" fill="#d4b018"/>
<circle class="pd" cx="113.6" cy="575.4" fill="#d4b018"/>
<circle class="pd" cx="110.9" cy="542.7" fill="#d4b018"/>
<circle class="pd" cx="55.3" cy="556.3" fill="#1f8fa8"/>
<circle class="pd" cx="119.0" cy="579.7" fill="#d4b018"/>
<circle class="pd" cx="106.7" cy="546.2" fill="#d4b018"/>
<circle class="pd" cx="109.3" cy="533.6" fill="#d4b018"/>
<circle class="pd" cx="96.2" cy="556.5" fill="#d4b018"/>
<circle class="pd" cx="109.4" cy="562.1" fill="#d4b018"/>
<circle class="pd" cx="112.3" cy="580.8" fill="#d4b018"/>
<circle class="pd" cx="47.0" cy="583.4" fill="#d4b018"/>
<circle class="pd" cx="90.3" cy="560.2" fill="#d4b018"/>
<circle class="pd" cx="62.1" cy="575.9" fill="#d4b018"/>
<circle class="pd" cx="110.0" cy="568.7" fill="#a0a0a0"/>
<circle class="pd" cx="45.8" cy="573.2" fill="#1f8fa8"/>
<circle class="pd" cx="113.4" cy="565.0" fill="#7b2a9a"/>
<circle class="pd" cx="99.7" cy="586.1" fill="#d4b018"/>
<circle class="pd" cx="34.4" cy="572.2" fill="#1f8fa8"/>
<circle class="pd" cx="57.0" cy="551.8" fill="#1f8fa8"/>
<circle class="pd" cx="88.3" cy="549.6" fill="#d4b018"/>
<circle class="pd" cx="58.8" cy="579.3" fill="#1f8fa8"/>
<circle class="pd" cx="117.0" cy="597.8" fill="#d4b018"/>
<circle class="pd" cx="90.2" cy="549.6" fill="#1f8fa8"/>
<circle class="pd" cx="97.6" cy="541.1" fill="#7b2a9a"/>
<circle class="pd" cx="115.7" cy="566.8" fill="#7b2a9a"/>
<circle class="pd" cx="61.3" cy="607.5" fill="#a0a0a0"/>
<circle class="pd" cx="37.2" cy="579.1" fill="#1f8fa8"/>
<circle class="pd" cx="88.3" cy="610.3" fill="#a0a0a0"/>
<circle class="pd" cx="73.1" cy="572.2" fill="#d4b018"/>
<circle class="pd" cx="110.7" cy="565.7" fill="#a0a0a0"/>
<circle class="pd" cx="111.8" cy="585.8" fill="#a0a0a0"/>
<circle class="pd" cx="110.1" cy="595.5" fill="#7b2a9a"/>
<circle class="pd" cx="51.9" cy="560.7" fill="#1f8fa8"/>
<circle class="pd" cx="51.0" cy="560.5" fill="#1f8fa8"/>
<circle class="pd" cx="87.7" cy="531.3" fill="#d4b018"/>
<circle class="pd" cx="50.6" cy="555.6" fill="#1f8fa8"/>
<circle class="pd" cx="100.9" cy="591.8" fill="#d4b018"/>
<circle class="pd" cx="94.6" cy="578.9" fill="#d4b018"/>
<circle class="pd" cx="114.4" cy="552.2" fill="#d4b018"/>
<circle class="pd" cx="37.4" cy="575.0" fill="#1f8fa8"/>
<circle class="pd" cx="93.7" cy="540.6" fill="#d4b018"/>
<circle class="pd" cx="107.0" cy="545.2" fill="#d4b018"/>
<circle class="pd" cx="38.9" cy="571.3" fill="#1f8fa8"/>
<circle class="pd" cx="112.0" cy="577.4" fill="#d4b018"/>
<circle class="pd" cx="36.5" cy="590.7" fill="#1f8fa8"/>
<circle class="pd" cx="112.1" cy="594.1" fill="#d4b018"/>
<circle class="pd" cx="88.0" cy="601.1" fill="#7b2a9a"/>
<circle class="pd" cx="52.5" cy="605.1" fill="#d4b018"/>
<circle class="pd" cx="105.5" cy="552.8" fill="#d4b018"/>
<circle class="pd" cx="40.2" cy="568.7" fill="#1f8fa8"/>
<circle class="pd" cx="99.7" cy="562.8" fill="#d4b018"/>
<circle class="pd" cx="108.3" cy="598.7" fill="#d4b018"/>
<circle class="pd" cx="96.0" cy="536.6" fill="#d4b018"/>
<circle class="pd" cx="102.0" cy="546.3" fill="#d4b018"/>
<circle class="pd" cx="98.0" cy="542.4" fill="#d4b018"/>
<circle class="pd" cx="118.5" cy="581.0" fill="#7b2a9a"/>
<circle class="pd" cx="97.5" cy="544.4" fill="#d4b018"/>
<circle class="pd" cx="97.1" cy="536.6" fill="#d4b018"/>
<circle class="pd" cx="53.1" cy="581.7" fill="#1f8fa8"/>
<circle class="pd" cx="52.0" cy="581.5" fill="#1f8fa8"/>
<circle class="pd" cx="88.8" cy="576.2" fill="#d4b018"/>
<circle class="pd" cx="102.9" cy="571.7" fill="#d4b018"/>
<circle class="pd" cx="85.3" cy="561.3" fill="#d4b018"/>
<circle class="pd" cx="34.2" cy="578.4" fill="#1f8fa8"/>
<circle class="pd" cx="52.2" cy="562.2" fill="#1f8fa8"/>
<circle class="pd" cx="104.1" cy="578.8" fill="#7b2a9a"/>
<circle class="pd" cx="53.3" cy="562.9" fill="#1f8fa8"/>
<circle class="pd" cx="87.1" cy="579.4" fill="#d4b018"/>
<circle class="pd" cx="101.7" cy="555.3" fill="#d4b018"/>
<circle class="pd" cx="50.4" cy="557.9" fill="#1f8fa8"/>
<circle class="pd" cx="105.1" cy="527.5" fill="#d4b018"/>
<circle class="pd" cx="96.8" cy="558.3" fill="#1f8fa8"/>
<circle class="pd" cx="90.8" cy="573.7" fill="#7b2a9a"/>
<circle class="pd" cx="89.6" cy="583.0" fill="#7b2a9a"/>
<circle class="pd" cx="106.1" cy="548.1" fill="#d4b018"/>
<circle class="pd" cx="102.2" cy="563.0" fill="#7b2a9a"/>
<circle class="pd" cx="98.8" cy="566.4" fill="#7b2a9a"/>
<circle class="pd" cx="85.5" cy="551.2" fill="#d4b018"/>
<circle class="pd" cx="109.4" cy="578.7" fill="#d4b018"/>
<circle class="pd" cx="94.4" cy="532.5" fill="#d4b018"/>
<circle class="pd" cx="59.5" cy="586.7" fill="#1f8fa8"/>
<circle class="pd" cx="52.0" cy="587.1" fill="#d4b018"/>
<circle class="pd" cx="54.1" cy="593.9" fill="#a0a0a0"/>
<circle class="pd" cx="44.3" cy="575.5" fill="#1f8fa8"/>
<circle class="pd" cx="98.5" cy="535.0" fill="#d4b018"/>
<circle class="pd" cx="34.2" cy="586.1" fill="#1f8fa8"/>
<circle class="pd" cx="80.1" cy="568.9" fill="#d4b018"/>
<circle class="pd" cx="76.1" cy="569.7" fill="#d4b018"/>
<circle class="pd" cx="100.2" cy="546.1" fill="#7b2a9a"/>
<circle class="pd" cx="104.0" cy="586.7" fill="#1f8fa8"/>
<circle class="pd" cx="44.4" cy="585.2" fill="#d4b018"/>
<circle class="pd" cx="49.7" cy="571.9" fill="#1f8fa8"/>
<circle class="pd" cx="94.0" cy="541.2" fill="#d4b018"/>
<circle class="pd" cx="65.4" cy="581.8" fill="#d4b018"/>
<circle class="pd" cx="93.8" cy="529.9" fill="#d4b018"/>
<circle class="pd" cx="109.3" cy="546.8" fill="#d4b018"/>
<circle class="pd" cx="114.7" cy="558.7" fill="#d4b018"/>
<circle class="pd" cx="103.7" cy="538.7" fill="#d4b018"/>
<circle class="pd" cx="120.6" cy="563.0" fill="#d4b018"/>
<circle class="pd" cx="86.3" cy="547.9" fill="#1f8fa8"/>
<circle class="pd" cx="41.8" cy="583.1" fill="#a0a0a0"/>
<circle class="pd" cx="117.7" cy="570.3" fill="#d4b018"/>
<circle class="pd" cx="97.7" cy="518.4" fill="#1f8fa8"/>
<circle class="pd" cx="47.7" cy="580.9" fill="#1f8fa8"/>
<circle class="pd" cx="38.3" cy="582.5" fill="#1f8fa8"/>
<circle class="pd" cx="59.1" cy="553.1" fill="#1f8fa8"/>
<circle class="pd" cx="94.2" cy="576.3" fill="#d4b018"/>
<circle class="pd" cx="102.4" cy="534.8" fill="#7b2a9a"/>
<circle class="pd" cx="92.8" cy="544.5" fill="#d4b018"/>
<circle class="pd" cx="91.8" cy="595.4" fill="#d4b018"/>
<circle class="pd" cx="117.2" cy="597.6" fill="#d4b018"/>
<circle class="pd" cx="39.9" cy="570.4" fill="#1f8fa8"/>
<circle class="pd" cx="98.5" cy="555.4" fill="#d4b018"/>
<circle class="pd" cx="42.5" cy="563.3" fill="#1f8fa8"/>
<circle class="pd" cx="38.3" cy="571.1" fill="#1f8fa8"/>
<circle class="pd" cx="49.3" cy="559.0" fill="#1f8fa8"/>
<circle class="pd" cx="36.7" cy="570.2" fill="#1f8fa8"/>
<circle class="pd" cx="85.9" cy="576.1" fill="#d4b018"/>
<circle class="pd" cx="71.6" cy="563.7" fill="#1f8fa8"/>
<circle class="pd" cx="107.8" cy="588.6" fill="#7b2a9a"/>
<circle class="pd" cx="88.7" cy="538.9" fill="#d4b018"/>
<circle class="pd" cx="56.0" cy="589.4" fill="#a0a0a0"/>
<circle class="pd" cx="85.8" cy="532.2" fill="#1f8fa8"/>
<circle class="pd" cx="113.4" cy="598.7" fill="#d4b018"/>
<circle class="pd" cx="47.5" cy="565.3" fill="#1f8fa8"/>
<circle class="pd" cx="90.1" cy="550.3" fill="#d4b018"/>
<circle class="pd" cx="92.8" cy="576.0" fill="#d4b018"/>
<circle class="pd" cx="105.8" cy="552.8" fill="#7b2a9a"/>
<circle class="pd" cx="45.2" cy="589.8" fill="#a0a0a0"/>
<circle class="pd" cx="98.7" cy="541.0" fill="#7b2a9a"/>
<circle class="pd" cx="87.5" cy="531.5" fill="#d4b018"/>
<circle class="pd" cx="45.5" cy="577.6" fill="#1f8fa8"/>
<circle class="pd" cx="89.2" cy="585.4" fill="#d4b018"/>
<circle class="pd" cx="70.6" cy="595.2" fill="#1f8fa8"/>
<circle class="pd" cx="120.4" cy="563.8" fill="#d4b018"/>
<circle class="pd" cx="67.7" cy="597.1" fill="#a0a0a0"/>
<circle class="pd" cx="107.1" cy="563.1" fill="#d4b018"/>
<circle class="pd" cx="109.1" cy="532.9" fill="#7b2a9a"/>
<circle class="pd" cx="89.6" cy="536.4" fill="#d4b018"/>
<circle class="pd" cx="106.7" cy="529.4" fill="#d4b018"/>
<circle class="pd" cx="120.7" cy="562.6" fill="#d4b018"/>
<circle class="pd" cx="100.7" cy="580.7" fill="#7b2a9a"/>
<circle class="pd" cx="44.0" cy="581.1" fill="#1f8fa8"/>
<circle class="pd" cx="62.0" cy="572.9" fill="#d4b018"/>
<circle class="pd" cx="51.8" cy="590.5" fill="#a0a0a0"/>
<circle class="pd" cx="113.2" cy="594.6" fill="#d4b018"/>
<circle class="pd" cx="38.7" cy="573.7" fill="#1f8fa8"/>
<circle class="pd" cx="108.5" cy="547.4" fill="#d4b018"/>
<circle class="pd" cx="102.0" cy="533.4" fill="#d4b018"/>
<circle class="pd" cx="90.1" cy="544.8" fill="#1f8fa8"/>
<circle class="pd" cx="85.9" cy="563.0" fill="#d4b018"/>
<circle class="pd" cx="99.6" cy="538.2" fill="#1f8fa8"/>
<circle class="pd" cx="54.3" cy="587.5" fill="#a0a0a0"/>
<circle class="pd" cx="93.3" cy="552.4" fill="#d4b018"/>
<circle class="pd" cx="58.0" cy="552.1" fill="#1f8fa8"/>
<circle class="pd" cx="46.0" cy="559.3" fill="#1f8fa8"/>
<circle class="pd" cx="94.1" cy="559.8" fill="#d4b018"/>
<circle class="pd" cx="94.9" cy="574.1" fill="#d4b018"/>
<circle class="pd" cx="90.0" cy="559.5" fill="#d4b018"/>
<circle class="pd" cx="90.7" cy="581.6" fill="#d4b018"/>
<circle class="pd" cx="95.0" cy="581.1" fill="#7b2a9a"/>
<circle class="pd" cx="110.1" cy="545.7" fill="#d4b018"/>
<circle class="pd" cx="105.2" cy="538.7" fill="#d4b018"/>
<circle class="pd" cx="33.4" cy="580.7" fill="#1f8fa8"/>
<circle class="pd" cx="39.8" cy="579.9" fill="#1f8fa8"/>
<circle class="pd" cx="116.5" cy="597.0" fill="#d4b018"/>
<circle class="pd" cx="103.8" cy="578.9" fill="#7b2a9a"/>
<circle class="pd" cx="109.5" cy="573.7" fill="#d4b018"/>
<circle class="pd" cx="109.4" cy="564.0" fill="#d4b018"/>
<circle class="pd" cx="103.7" cy="544.5" fill="#7b2a9a"/>
<circle class="pd" cx="90.4" cy="579.9" fill="#7b2a9a"/>
<circle class="pd" cx="39.9" cy="569.5" fill="#1f8fa8"/>
<circle class="pd" cx="64.0" cy="554.9" fill="#1f8fa8"/>
<circle class="pd" cx="53.1" cy="561.9" fill="#1f8fa8"/>
<circle class="pd" cx="65.1" cy="570.5" fill="#d4b018"/>
<circle class="pd" cx="87.5" cy="577.6" fill="#d4b018"/>
<circle class="pd" cx="45.9" cy="571.6" fill="#1f8fa8"/>
<circle class="pd" cx="91.7" cy="567.7" fill="#7b2a9a"/>
<circle class="pd" cx="91.9" cy="573.9" fill="#7b2a9a"/>
<circle class="pd" cx="99.6" cy="583.7" fill="#d4b018"/>
<circle class="pd" cx="93.2" cy="561.6" fill="#d4b018"/>
<circle class="pd" cx="87.4" cy="574.8" fill="#1f8fa8"/>
<circle class="pd" cx="97.7" cy="564.5" fill="#d4b018"/>
<circle class="pd" cx="36.3" cy="576.5" fill="#1f8fa8"/>
<circle class="pd" cx="113.0" cy="600.4" fill="#7b2a9a"/>
<circle class="pd" cx="110.9" cy="534.1" fill="#d4b018"/>
<circle class="pd" cx="29.3" cy="580.7" fill="#1f8fa8"/>
<circle class="pd" cx="77.2" cy="546.1" fill="#1f8fa8"/>
<circle class="pd" cx="114.7" cy="589.0" fill="#d4b018"/>
<circle class="pd" cx="67.3" cy="571.8" fill="#d4b018"/>
<circle class="pd" cx="118.2" cy="571.5" fill="#a0a0a0"/>
<circle class="pd" cx="44.7" cy="561.9" fill="#1f8fa8"/>
<circle class="pd" cx="93.7" cy="547.3" fill="#1f8fa8"/>
<circle class="pd" cx="119.9" cy="562.4" fill="#d4b018"/>
<circle class="pd" cx="60.7" cy="554.1" fill="#1f8fa8"/>
<circle class="pd" cx="108.0" cy="546.2" fill="#d4b018"/>
<circle class="pd" cx="50.5" cy="558.6" fill="#1f8fa8"/>
<circle class="pd" cx="112.1" cy="592.2" fill="#a0a0a0"/>
<circle class="pd" cx="69.5" cy="609.7" fill="#1f8fa8"/>
<circle class="pd" cx="98.8" cy="535.1" fill="#d4b018"/>
<circle class="pd" cx="44.1" cy="564.3" fill="#1f8fa8"/>
<circle class="pd" cx="105.5" cy="570.9" fill="#1f8fa8"/>
<circle class="pd" cx="113.2" cy="563.3" fill="#d4b018"/>
<circle class="pd" cx="102.3" cy="538.1" fill="#1f8fa8"/>
<circle class="pd" cx="56.5" cy="555.0" fill="#1f8fa8"/>
<circle class="pd" cx="65.1" cy="593.4" fill="#a0a0a0"/>
<circle class="pd" cx="85.7" cy="613.8" fill="#1f8fa8"/>
<circle class="pd" cx="92.3" cy="591.5" fill="#1f8fa8"/>
<circle class="pd" cx="112.0" cy="588.4" fill="#d4b018"/>
<circle class="pd" cx="85.4" cy="599.8" fill="#a0a0a0"/>
<circle class="pd" cx="48.5" cy="571.3" fill="#1f8fa8"/>
<circle class="pd" cx="103.1" cy="555.7" fill="#d4b018"/>
<circle class="pd" cx="97.4" cy="568.3" fill="#d4b018"/>
<circle class="pd" cx="64.8" cy="565.1" fill="#d4b018"/>
<circle class="pd" cx="93.8" cy="584.8" fill="#d4b018"/>
<circle class="pd" cx="34.1" cy="591.5" fill="#a0a0a0"/>
<circle class="pd" cx="52.0" cy="564.6" fill="#1f8fa8"/>
<circle class="pd" cx="87.8" cy="539.7" fill="#d4b018"/>
<circle class="pd" cx="42.1" cy="576.7" fill="#1f8fa8"/>
<circle class="pd" cx="52.3" cy="564.2" fill="#1f8fa8"/>
<circle class="pd" cx="106.0" cy="582.1" fill="#d4b018"/>
<circle class="pd" cx="58.5" cy="586.1" fill="#a0a0a0"/>
<circle class="pd" cx="111.7" cy="544.3" fill="#d4b018"/>
<circle class="pd" cx="120.2" cy="574.9" fill="#d4b018"/>
<circle class="pd" cx="108.7" cy="562.9" fill="#d4b018"/>
<circle class="pd" cx="60.9" cy="580.7" fill="#d4b018"/>
<circle class="pd" cx="108.2" cy="532.7" fill="#d4b018"/>
<circle class="pd" cx="67.5" cy="559.5" fill="#1f8fa8"/>
<circle class="pd" cx="52.9" cy="560.3" fill="#1f8fa8"/>
<circle class="pd" cx="115.4" cy="597.1" fill="#d4b018"/>
<circle class="pd" cx="35.7" cy="576.5" fill="#1f8fa8"/>
<circle class="pd" cx="48.7" cy="565.7" fill="#1f8fa8"/>
<circle class="pd" cx="44.0" cy="571.1" fill="#1f8fa8"/>
<circle class="pd" cx="45.1" cy="576.5" fill="#1f8fa8"/>
<circle class="pd" cx="89.3" cy="610.9" fill="#a0a0a0"/>
<circle class="pd" cx="103.9" cy="574.5" fill="#7b2a9a"/>
<circle class="pd" cx="82.2" cy="553.0" fill="#1f8fa8"/>
<circle class="pd" cx="105.1" cy="586.2" fill="#d4b018"/>
<circle class="pd" cx="93.3" cy="540.6" fill="#1f8fa8"/>
<circle class="pd" cx="106.4" cy="537.7" fill="#d4b018"/>
<circle class="pd" cx="86.4" cy="569.8" fill="#1f8fa8"/>
<circle class="pd" cx="88.2" cy="583.4" fill="#d4b018"/>
<circle class="pd" cx="87.2" cy="566.7" fill="#d4b018"/>
<circle class="pd" cx="75.9" cy="534.0" fill="#1f8fa8"/>
<circle class="pd" cx="49.6" cy="573.3" fill="#1f8fa8"/>
<circle class="pd" cx="118.3" cy="590.0" fill="#d4b018"/>
<circle class="pd" cx="90.0" cy="529.6" fill="#d4b018"/>
<circle class="pd" cx="42.5" cy="564.0" fill="#1f8fa8"/>
<circle class="pd" cx="125.8" cy="588.3" fill="#7b2a9a"/>
<circle class="pd" cx="43.5" cy="565.6" fill="#1f8fa8"/>
<circle class="pd" cx="95.9" cy="598.9" fill="#d4b018"/>
<circle class="pd" cx="111.0" cy="569.1" fill="#d4b018"/>
<circle class="pd" cx="91.3" cy="553.7" fill="#d4b018"/>
<circle class="pd" cx="62.0" cy="583.7" fill="#a0a0a0"/>
<circle class="pd" cx="125.4" cy="591.8" fill="#7b2a9a"/>
<circle class="pd" cx="38.9" cy="578.7" fill="#d4b018"/>
<circle class="pd" cx="41.7" cy="573.9" fill="#1f8fa8"/>
<circle class="pd" cx="50.9" cy="570.4" fill="#1f8fa8"/>
<circle class="pd" cx="98.8" cy="527.4" fill="#d4b018"/>
<circle class="pd" cx="51.8" cy="558.3" fill="#1f8fa8"/>
<circle class="pd" cx="48.1" cy="558.0" fill="#1f8fa8"/>
<circle class="pd" cx="77.4" cy="580.5" fill="#d4b018"/>
<circle class="pd" cx="58.6" cy="552.5" fill="#1f8fa8"/>
<circle class="pd" cx="117.3" cy="552.0" fill="#1f8fa8"/>
<circle class="pd" cx="88.2" cy="557.1" fill="#d4b018"/>
<circle class="pd" cx="91.8" cy="550.8" fill="#d4b018"/>
<circle class="pd" cx="110.8" cy="554.5" fill="#7b2a9a"/>
<circle class="pd" cx="112.2" cy="542.6" fill="#d4b018"/>
<circle class="pd" cx="103.2" cy="540.5" fill="#7b2a9a"/>
<circle class="pd" cx="120.5" cy="603.5" fill="#d4b018"/>
<circle class="pd" cx="48.9" cy="564.6" fill="#1f8fa8"/>
<circle class="pd" cx="96.5" cy="529.5" fill="#d4b018"/>
<circle class="pd" cx="96.2" cy="613.2" fill="#d4b018"/>
<circle class="pd" cx="65.3" cy="585.9" fill="#1f8fa8"/>
<circle class="pd" cx="88.8" cy="573.2" fill="#d4b018"/>
<circle class="pd" cx="100.2" cy="559.5" fill="#d4b018"/>
<circle class="pd" cx="53.2" cy="557.0" fill="#1f8fa8"/>
<circle class="pd" cx="105.0" cy="597.3" fill="#d4b018"/>
<circle class="pd" cx="109.6" cy="548.4" fill="#d4b018"/>
<circle class="pd" cx="121.5" cy="573.0" fill="#7b2a9a"/>
<circle class="pd" cx="69.1" cy="559.4" fill="#d4b018"/>
<circle class="pd" cx="96.9" cy="574.2" fill="#d4b018"/>
<circle class="pd" cx="62.4" cy="558.2" fill="#1f8fa8"/>
<circle class="pd" cx="45.1" cy="571.1" fill="#1f8fa8"/>
<circle class="pd" cx="97.8" cy="598.4" fill="#d4b018"/>
<circle class="pd" cx="91.5" cy="538.1" fill="#7b2a9a"/>
<circle class="pd" cx="102.0" cy="592.6" fill="#d4b018"/>
<circle class="pd" cx="117.2" cy="589.2" fill="#d4b018"/>
<circle class="pd" cx="48.0" cy="583.4" fill="#a0a0a0"/>
<circle class="pd" cx="106.8" cy="594.1" fill="#d4b018"/>
<circle class="pd" cx="78.0" cy="610.1" fill="#a0a0a0"/>
<circle class="pd" cx="105.0" cy="578.6" fill="#d4b018"/>
<circle class="pd" cx="91.7" cy="536.0" fill="#d4b018"/>
<circle class="pd" cx="105.0" cy="558.8" fill="#d4b018"/>
<circle class="pd" cx="94.8" cy="591.9" fill="#d4b018"/>
<circle class="pd" cx="93.0" cy="559.3" fill="#d4b018"/>
<circle class="pd" cx="40.8" cy="565.3" fill="#1f8fa8"/>
<circle class="pd" cx="98.6" cy="551.9" fill="#d4b018"/>
<circle class="pd" cx="111.9" cy="556.5" fill="#d4b018"/>
<circle class="pd" cx="44.5" cy="563.3" fill="#1f8fa8"/>
<circle class="pd" cx="99.1" cy="572.5" fill="#d4b018"/>
<circle class="pd" cx="56.7" cy="559.0" fill="#d4b018"/>
<circle class="pd" cx="34.0" cy="574.2" fill="#1f8fa8"/>
<circle class="pd" cx="107.3" cy="544.1" fill="#d4b018"/>
<circle class="pd" cx="113.9" cy="580.8" fill="#7b2a9a"/>
<circle class="pd" cx="96.7" cy="547.0" fill="#d4b018"/>
<circle class="pd" cx="103.6" cy="591.4" fill="#d4b018"/>
<circle class="pd" cx="35.3" cy="578.1" fill="#1f8fa8"/>
<circle class="pd" cx="96.1" cy="546.0" fill="#d4b018"/>
<circle class="pd" cx="109.6" cy="534.5" fill="#7b2a9a"/>
<circle class="pd" cx="87.5" cy="568.5" fill="#d4b018"/>
<circle class="pd" cx="106.6" cy="598.5" fill="#d4b018"/>
<circle class="pd" cx="106.1" cy="555.8" fill="#d4b018"/>
<circle class="pd" cx="108.0" cy="553.3" fill="#d4b018"/>
<circle class="pd" cx="113.1" cy="574.0" fill="#d4b018"/>
<circle class="pd" cx="42.6" cy="578.4" fill="#1f8fa8"/>
<circle class="pd" cx="43.1" cy="570.1" fill="#1f8fa8"/>
<circle class="pd" cx="90.2" cy="540.6" fill="#d4b018"/>
<circle class="pd" cx="108.9" cy="540.6" fill="#1f8fa8"/>
<circle class="pd" cx="117.6" cy="587.5" fill="#7b2a9a"/>
<circle class="pd" cx="119.4" cy="585.0" fill="#7b2a9a"/>
<circle class="pd" cx="114.3" cy="579.3" fill="#d4b018"/>
<circle class="pd" cx="106.1" cy="551.4" fill="#d4b018"/>
<circle class="pd" cx="53.3" cy="556.6" fill="#1f8fa8"/>
<circle class="pd" cx="99.5" cy="580.7" fill="#d4b018"/>
<circle class="pd" cx="97.2" cy="578.6" fill="#d4b018"/>
<circle class="pd" cx="53.5" cy="579.4" fill="#1f8fa8"/>
<circle class="pd" cx="88.9" cy="582.5" fill="#d4b018"/>
<circle class="pd" cx="110.4" cy="588.3" fill="#d4b018"/>
<circle class="pd" cx="41.1" cy="565.5" fill="#1f8fa8"/>
<circle class="pd" cx="100.7" cy="569.0" fill="#d4b018"/>
<circle class="pd" cx="84.9" cy="574.0" fill="#d4b018"/>
<circle class="pd" cx="104.9" cy="548.6" fill="#d4b018"/>
<circle class="pd" cx="107.4" cy="531.4" fill="#d4b018"/>
<circle class="pd" cx="51.3" cy="566.5" fill="#1f8fa8"/>
<circle class="pd" cx="117.6" cy="597.4" fill="#a0a0a0"/>
<circle class="pd" cx="95.1" cy="576.7" fill="#7b2a9a"/>
<circle class="pd" cx="59.7" cy="565.3" fill="#d4b018"/>
<circle class="pd" cx="118.1" cy="572.0" fill="#d4b018"/>
<circle class="pd" cx="105.7" cy="598.7" fill="#7b2a9a"/>
<circle class="pd" cx="93.1" cy="600.2" fill="#d4b018"/>
<circle class="pd" cx="49.7" cy="562.3" fill="#1f8fa8"/>
<circle class="pd" cx="68.1" cy="575.0" fill="#d4b018"/>
<circle class="pd" cx="118.4" cy="582.7" fill="#d4b018"/>
<circle class="pd" cx="106.5" cy="542.4" fill="#d4b018"/>
<circle class="pd" cx="96.0" cy="559.5" fill="#d4b018"/>
<circle class="pd" cx="50.6" cy="558.1" fill="#1f8fa8"/>
<circle class="pd" cx="102.9" cy="578.6" fill="#7b2a9a"/>
<circle class="pd" cx="94.8" cy="596.9" fill="#d4b018"/>
<circle class="pd" cx="48.5" cy="564.4" fill="#1f8fa8"/>
<circle class="pd" cx="109.1" cy="541.3" fill="#d4b018"/>
<circle class="pd" cx="94.5" cy="545.0" fill="#d4b018"/>
<circle class="pd" cx="101.6" cy="561.5" fill="#d4b018"/>
<circle class="pd" cx="64.8" cy="578.2" fill="#d4b018"/>
<circle class="pd" cx="109.9" cy="573.2" fill="#a0a0a0"/>
<circle class="pd" cx="113.6" cy="586.5" fill="#d4b018"/>
<circle class="pd" cx="58.1" cy="551.2" fill="#1f8fa8"/>
<circle class="pd" cx="90.7" cy="536.7" fill="#d4b018"/>
<circle class="pd" cx="35.4" cy="579.9" fill="#1f8fa8"/>
<circle class="pd" cx="118.0" cy="579.4" fill="#d4b018"/>
<circle class="pd" cx="52.3" cy="579.4" fill="#d4b018"/>
<circle class="pd" cx="49.3" cy="561.6" fill="#1f8fa8"/>
<circle class="pd" cx="43.0" cy="581.1" fill="#1f8fa8"/>
<circle class="pd" cx="50.8" cy="564.4" fill="#1f8fa8"/>
<circle class="pd" cx="116.6" cy="579.6" fill="#a0a0a0"/>
<circle class="pd" cx="114.0" cy="568.7" fill="#7b2a9a"/>
<circle class="pd" cx="121.8" cy="572.9" fill="#7b2a9a"/>
<circle class="pd" cx="85.5" cy="535.3" fill="#d4b018"/>
<circle class="pd" cx="106.8" cy="573.9" fill="#d4b018"/>
<circle class="pd" cx="95.0" cy="585.6" fill="#d4b018"/>
<circle class="pd" cx="109.2" cy="563.0" fill="#d4b018"/>
<circle class="pd" cx="116.9" cy="570.3" fill="#d4b018"/>
<circle class="pd" cx="110.2" cy="535.0" fill="#7b2a9a"/>
<circle class="pd" cx="53.7" cy="558.6" fill="#1f8fa8"/>
<circle class="pd" cx="67.9" cy="563.8" fill="#d4b018"/>
<circle class="pd" cx="108.5" cy="549.2" fill="#d4b018"/>
<circle class="pd" cx="48.7" cy="578.6" fill="#1f8fa8"/>
<circle class="pd" cx="59.8" cy="571.7" fill="#1f8fa8"/>
<circle class="pd" cx="109.2" cy="536.6" fill="#d4b018"/>
<circle class="pd" cx="102.4" cy="557.4" fill="#d4b018"/>
<circle class="pd" cx="100.1" cy="532.9" fill="#d4b018"/>
<circle class="pd" cx="39.5" cy="573.3" fill="#1f8fa8"/>
<circle class="pd" cx="57.2" cy="581.4" fill="#d4b018"/>
<circle class="pd" cx="60.4" cy="566.0" fill="#1f8fa8"/>
<circle class="pd" cx="62.9" cy="567.4" fill="#d4b018"/>
<circle class="pd" cx="61.8" cy="568.1" fill="#1f8fa8"/>
<circle class="pd" cx="103.0" cy="570.1" fill="#7b2a9a"/>
<circle class="pd" cx="92.8" cy="529.2" fill="#d4b018"/>
<circle class="pd" cx="73.9" cy="585.3" fill="#a0a0a0"/>
<circle class="pd" cx="88.7" cy="586.0" fill="#d4b018"/>
<circle class="pd" cx="38.6" cy="573.6" fill="#1f8fa8"/>
<circle class="pd" cx="46.7" cy="561.4" fill="#1f8fa8"/>
<circle class="pd" cx="60.9" cy="570.7" fill="#d4b018"/>
<circle class="pd" cx="107.4" cy="562.8" fill="#d4b018"/>
<circle class="pd" cx="98.1" cy="553.7" fill="#7b2a9a"/>
<circle class="pd" cx="92.3" cy="535.2" fill="#1f8fa8"/>
<circle class="pd" cx="56.2" cy="579.6" fill="#d4b018"/>
<circle class="pd" cx="74.7" cy="563.0" fill="#d4b018"/>
<circle class="pd" cx="88.6" cy="582.3" fill="#d4b018"/>
<text x="0" y="663.3">MFDO2</text>
<circle class="pd" cx="30.5" cy="656.2" fill="#d4b018" style="r:2.7px"/>
<text x="37" y="658.5">Calcareous fens</text>
<circle class="pd" cx="30.5" cy="665.5" fill="#1f8fa8" style="r:2.7px"/>
<text x="37" y="667.8">Sphagnum acid bogs</text>
<circle class="pd" cx="111" cy="656.2" fill="#7b2a9a" style="r:2.7px"/>
<text x="117.5" y="658.5">Wet thicket</text>
<circle class="pd" cx="111" cy="665.5" fill="#a0a0a0" style="r:2.7px"/>
<text x="117.5" y="667.8">Other</text>
</g>
</svg>
</body></html>
